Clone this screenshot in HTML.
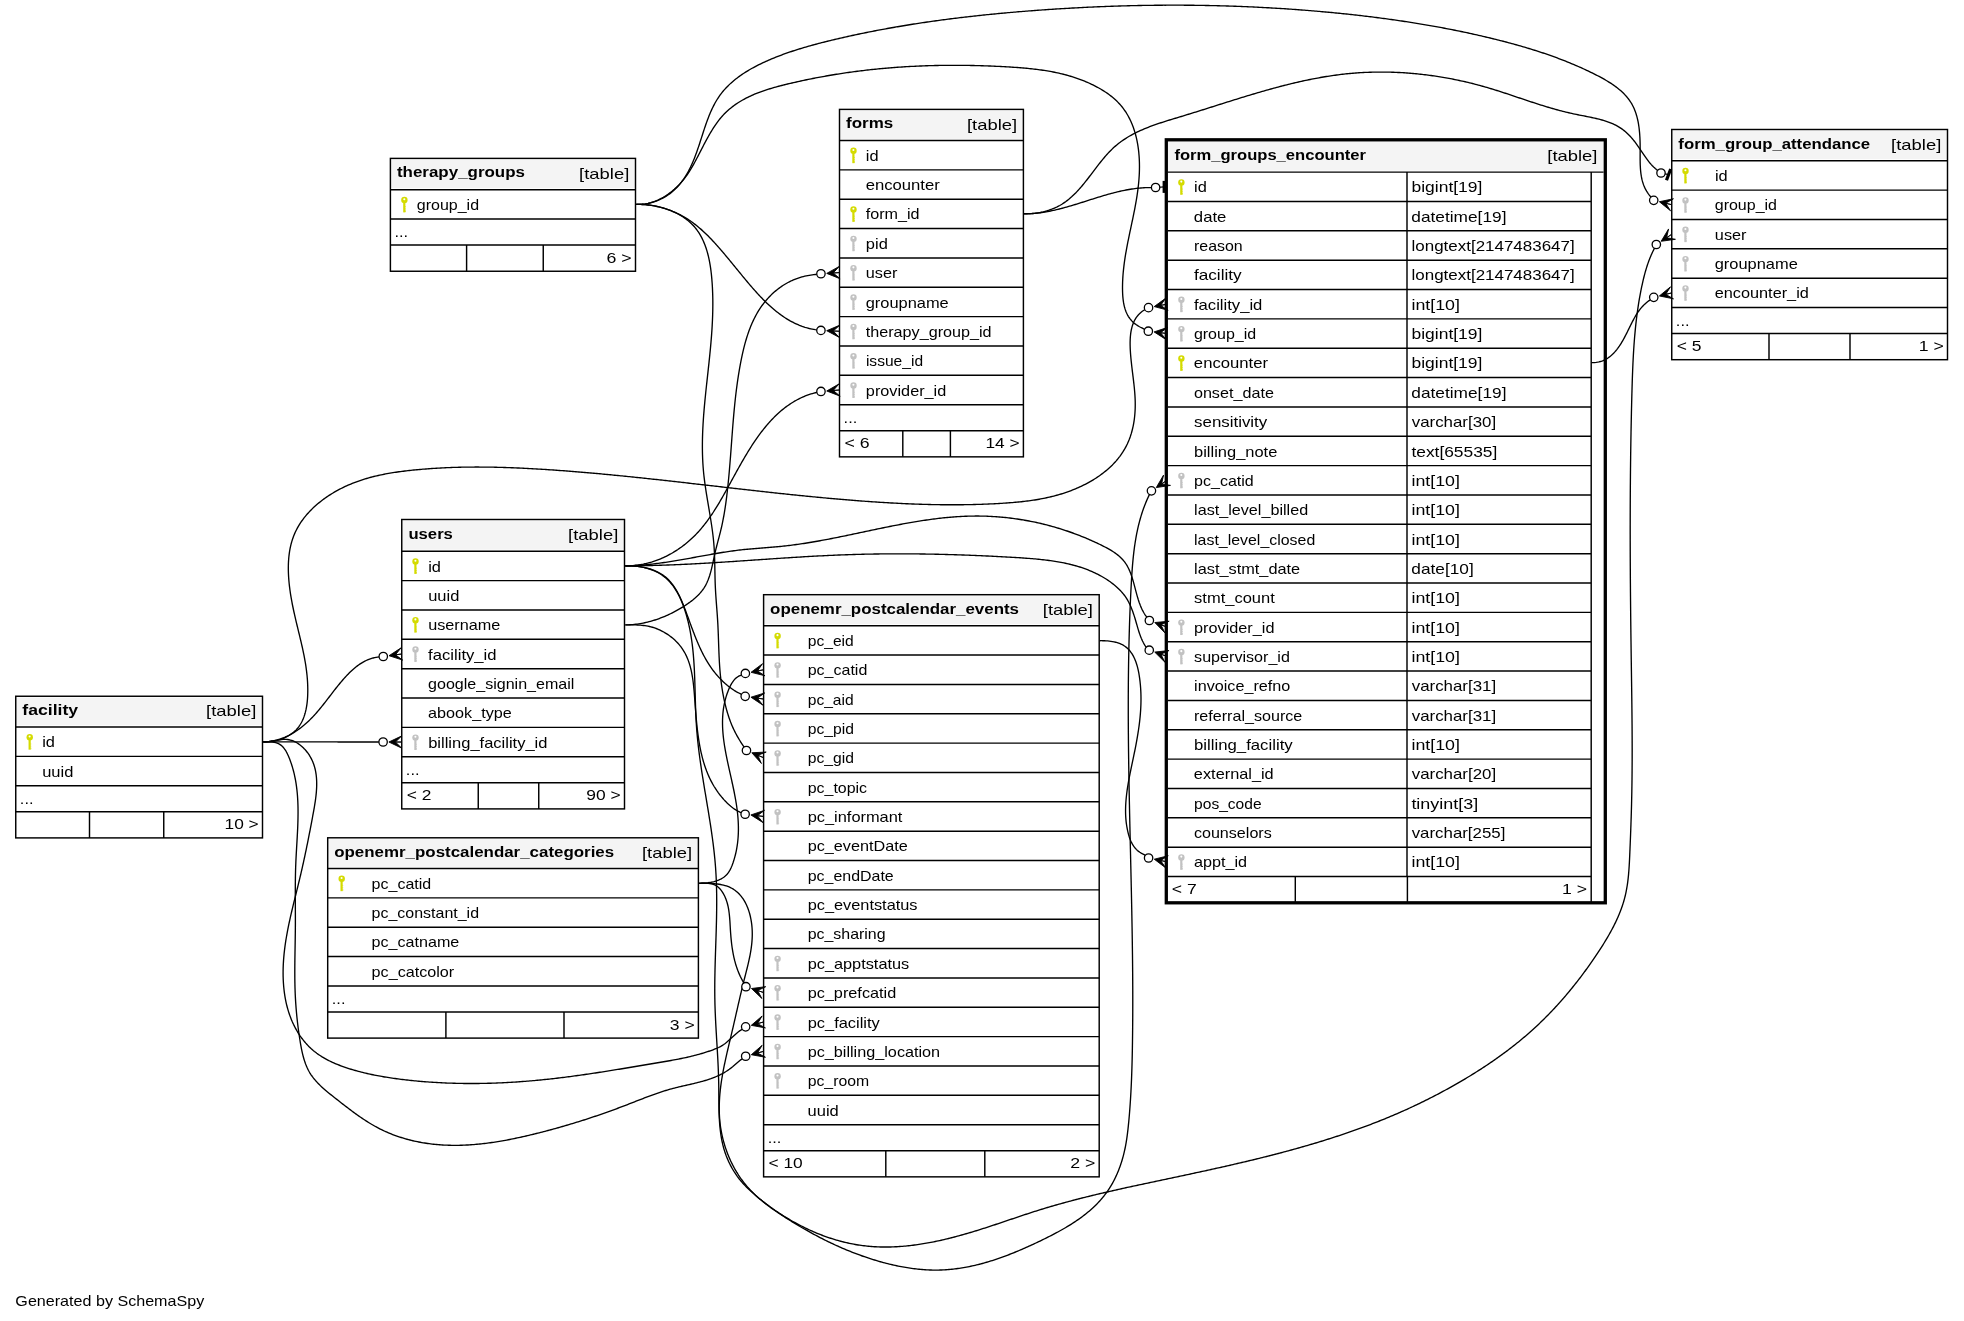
<!DOCTYPE html><html><head><meta charset="utf-8"><style>
html,body{margin:0;padding:0;background:#fff;width:1964px;height:1321px;overflow:hidden}
svg{display:block;will-change:transform}
text{font-family:"Liberation Sans",sans-serif;font-size:15px;fill:#000}
text.b{font-weight:bold}
</style></head><body>
<svg width="1964" height="1321" viewBox="0 0 1964 1321">
<rect width="1964" height="1321" fill="#fff"/>
<rect x="15.75" y="696.25" width="246.75" height="141.65" fill="#fff"/>
<rect x="15.75" y="697.65" width="246.75" height="27.75" fill="#f4f4f4"/>
<g stroke="#000" fill="none">
<rect x="15.75" y="696.25" width="246.75" height="141.65" stroke-width="1.45"/>
<line x1="15.75" y1="727" x2="262.5" y2="727" stroke-width="1.45"/>
<line x1="15.75" y1="756.35" x2="262.5" y2="756.35" stroke-width="1.45"/>
<line x1="15.75" y1="785.7" x2="262.5" y2="785.7" stroke-width="1.45"/>
<line x1="15.75" y1="811.7" x2="262.5" y2="811.7" stroke-width="1.45"/>
<line x1="89.5" y1="811.7" x2="89.5" y2="837.9" stroke-width="1.45"/>
<line x1="163.75" y1="811.7" x2="163.75" y2="837.9" stroke-width="1.45"/>
</g>
<text class="b" x="22.36" y="715.02" textLength="55.82" lengthAdjust="spacingAndGlyphs">facility</text>
<text class="r" x="206.11" y="716.33" textLength="50.19" lengthAdjust="spacingAndGlyphs">[table]</text>
<g fill="#d4db00">
<circle cx="29.75" cy="737.27" r="3.2"/>
<rect x="28.55" y="739.57" width="2.2" height="10.1"/>
<rect x="30.65" y="743.47" width="0.55" height="1.0"/>
<rect x="30.65" y="745.67" width="0.55" height="1.0"/>
<rect x="30.65" y="747.67" width="0.6" height="1.6"/>
</g>
<circle cx="29.65" cy="736.47" r="1.05" fill="#fff"/>
<text class="r" x="42.21" y="747.27" textLength="12.76" lengthAdjust="spacingAndGlyphs">id</text>
<text class="r" x="42.15" y="776.62" textLength="31.21" lengthAdjust="spacingAndGlyphs">uuid</text>
<text class="r" x="19.88" y="803.7" textLength="13.65" lengthAdjust="spacingAndGlyphs">...</text>
<text class="r" x="224.52" y="829.3" textLength="34.2" lengthAdjust="spacingAndGlyphs">10 &gt;</text>
<rect x="390.4" y="158.4" width="245.1" height="112.85" fill="#fff"/>
<rect x="390.4" y="159.8" width="245.1" height="28.3" fill="#f4f4f4"/>
<g stroke="#000" fill="none">
<rect x="390.4" y="158.4" width="245.1" height="112.85" stroke-width="1.45"/>
<line x1="390.4" y1="189.7" x2="635.5" y2="189.7" stroke-width="1.45"/>
<line x1="390.4" y1="219.05" x2="635.5" y2="219.05" stroke-width="1.45"/>
<line x1="390.4" y1="245.05" x2="635.5" y2="245.05" stroke-width="1.45"/>
<line x1="466.6" y1="245.05" x2="466.6" y2="271.25" stroke-width="1.45"/>
<line x1="543.25" y1="245.05" x2="543.25" y2="271.25" stroke-width="1.45"/>
</g>
<text class="b" x="396.97" y="177.45" textLength="127.96" lengthAdjust="spacingAndGlyphs">therapy_groups</text>
<text class="r" x="579.11" y="178.75" textLength="50.19" lengthAdjust="spacingAndGlyphs">[table]</text>
<g fill="#d4db00">
<circle cx="404.4" cy="199.97" r="3.2"/>
<rect x="403.2" y="202.28" width="2.2" height="10.1"/>
<rect x="405.3" y="206.18" width="0.55" height="1.0"/>
<rect x="405.3" y="208.38" width="0.55" height="1.0"/>
<rect x="405.3" y="210.38" width="0.6" height="1.6"/>
</g>
<circle cx="404.3" cy="199.18" r="1.05" fill="#fff"/>
<text class="r" x="416.81" y="209.97" textLength="62.24" lengthAdjust="spacingAndGlyphs">group_id</text>
<text class="r" x="394.53" y="237.05" textLength="13.65" lengthAdjust="spacingAndGlyphs">...</text>
<text class="r" x="606.56" y="262.65" textLength="25.19" lengthAdjust="spacingAndGlyphs">6 &gt;</text>
<rect x="839.5" y="109.4" width="183.9" height="347.45" fill="#fff"/>
<rect x="839.5" y="110.8" width="183.9" height="28.1" fill="#f4f4f4"/>
<g stroke="#000" fill="none">
<rect x="839.5" y="109.4" width="183.9" height="347.45" stroke-width="1.45"/>
<line x1="839.5" y1="140.5" x2="1023.4" y2="140.5" stroke-width="1.45"/>
<line x1="839.5" y1="169.85" x2="1023.4" y2="169.85" stroke-width="1.45"/>
<line x1="839.5" y1="199.2" x2="1023.4" y2="199.2" stroke-width="1.45"/>
<line x1="839.5" y1="228.55" x2="1023.4" y2="228.55" stroke-width="1.45"/>
<line x1="839.5" y1="257.9" x2="1023.4" y2="257.9" stroke-width="1.45"/>
<line x1="839.5" y1="287.25" x2="1023.4" y2="287.25" stroke-width="1.45"/>
<line x1="839.5" y1="316.6" x2="1023.4" y2="316.6" stroke-width="1.45"/>
<line x1="839.5" y1="345.95" x2="1023.4" y2="345.95" stroke-width="1.45"/>
<line x1="839.5" y1="375.3" x2="1023.4" y2="375.3" stroke-width="1.45"/>
<line x1="839.5" y1="404.65" x2="1023.4" y2="404.65" stroke-width="1.45"/>
<line x1="839.5" y1="430.65" x2="1023.4" y2="430.65" stroke-width="1.45"/>
<line x1="902.8" y1="430.65" x2="902.8" y2="456.85" stroke-width="1.45"/>
<line x1="950.4" y1="430.65" x2="950.4" y2="456.85" stroke-width="1.45"/>
</g>
<text class="b" x="846.12" y="128.35" textLength="47.13" lengthAdjust="spacingAndGlyphs">forms</text>
<text class="r" x="967.01" y="129.65" textLength="50.19" lengthAdjust="spacingAndGlyphs">[table]</text>
<g fill="#d4db00">
<circle cx="853.5" cy="150.78" r="3.2"/>
<rect x="852.3" y="153.08" width="2.2" height="10.1"/>
<rect x="854.4" y="156.98" width="0.55" height="1.0"/>
<rect x="854.4" y="159.18" width="0.55" height="1.0"/>
<rect x="854.4" y="161.18" width="0.6" height="1.6"/>
</g>
<circle cx="853.4" cy="149.98" r="1.05" fill="#fff"/>
<text class="r" x="865.86" y="160.78" textLength="12.76" lengthAdjust="spacingAndGlyphs">id</text>
<text class="r" x="865.68" y="190.12" textLength="74.12" lengthAdjust="spacingAndGlyphs">encounter</text>
<g fill="#d4db00">
<circle cx="853.5" cy="209.47" r="3.2"/>
<rect x="852.3" y="211.78" width="2.2" height="10.1"/>
<rect x="854.4" y="215.68" width="0.55" height="1.0"/>
<rect x="854.4" y="217.88" width="0.55" height="1.0"/>
<rect x="854.4" y="219.88" width="0.6" height="1.6"/>
</g>
<circle cx="853.4" cy="208.68" r="1.05" fill="#fff"/>
<text class="r" x="865.73" y="219.47" textLength="53.91" lengthAdjust="spacingAndGlyphs">form_id</text>
<g fill="#c2c2c2">
<circle cx="853.5" cy="238.83" r="3.2"/>
<rect x="852.3" y="241.13" width="2.2" height="10.1"/>
<rect x="854.4" y="245.03" width="0.55" height="1.0"/>
<rect x="854.4" y="247.23" width="0.55" height="1.0"/>
<rect x="854.4" y="249.23" width="0.6" height="1.6"/>
</g>
<circle cx="853.4" cy="238.03" r="1.05" fill="#fff"/>
<text class="r" x="865.86" y="248.83" textLength="21.95" lengthAdjust="spacingAndGlyphs">pid</text>
<g fill="#c2c2c2">
<circle cx="853.5" cy="268.17" r="3.2"/>
<rect x="852.3" y="270.47" width="2.2" height="10.1"/>
<rect x="854.4" y="274.37" width="0.55" height="1.0"/>
<rect x="854.4" y="276.57" width="0.55" height="1.0"/>
<rect x="854.4" y="278.57" width="0.6" height="1.6"/>
</g>
<circle cx="853.4" cy="267.37" r="1.05" fill="#fff"/>
<text class="r" x="865.82" y="278.18" textLength="31.63" lengthAdjust="spacingAndGlyphs">user</text>
<g fill="#c2c2c2">
<circle cx="853.5" cy="297.52" r="3.2"/>
<rect x="852.3" y="299.82" width="2.2" height="10.1"/>
<rect x="854.4" y="303.72" width="0.55" height="1.0"/>
<rect x="854.4" y="305.93" width="0.55" height="1.0"/>
<rect x="854.4" y="307.93" width="0.6" height="1.6"/>
</g>
<circle cx="853.4" cy="296.72" r="1.05" fill="#fff"/>
<text class="r" x="865.69" y="307.53" textLength="83.06" lengthAdjust="spacingAndGlyphs">groupname</text>
<g fill="#c2c2c2">
<circle cx="853.5" cy="326.88" r="3.2"/>
<rect x="852.3" y="329.18" width="2.2" height="10.1"/>
<rect x="854.4" y="333.07" width="0.55" height="1.0"/>
<rect x="854.4" y="335.28" width="0.55" height="1.0"/>
<rect x="854.4" y="337.28" width="0.6" height="1.6"/>
</g>
<circle cx="853.4" cy="326.07" r="1.05" fill="#fff"/>
<text class="r" x="865.73" y="336.88" textLength="125.9" lengthAdjust="spacingAndGlyphs">therapy_group_id</text>
<g fill="#c2c2c2">
<circle cx="853.5" cy="356.23" r="3.2"/>
<rect x="852.3" y="358.53" width="2.2" height="10.1"/>
<rect x="854.4" y="362.43" width="0.55" height="1.0"/>
<rect x="854.4" y="364.63" width="0.55" height="1.0"/>
<rect x="854.4" y="366.63" width="0.6" height="1.6"/>
</g>
<circle cx="853.4" cy="355.43" r="1.05" fill="#fff"/>
<text class="r" x="865.91" y="366.23" textLength="57.16" lengthAdjust="spacingAndGlyphs">issue_id</text>
<g fill="#c2c2c2">
<circle cx="853.5" cy="385.57" r="3.2"/>
<rect x="852.3" y="387.88" width="2.2" height="10.1"/>
<rect x="854.4" y="391.77" width="0.55" height="1.0"/>
<rect x="854.4" y="393.98" width="0.55" height="1.0"/>
<rect x="854.4" y="395.98" width="0.6" height="1.6"/>
</g>
<circle cx="853.4" cy="384.77" r="1.05" fill="#fff"/>
<text class="r" x="865.87" y="395.58" textLength="80.42" lengthAdjust="spacingAndGlyphs">provider_id</text>
<text class="r" x="843.63" y="422.65" textLength="13.65" lengthAdjust="spacingAndGlyphs">...</text>
<text class="r" x="844.41" y="448.25" textLength="25.12" lengthAdjust="spacingAndGlyphs">&lt; 6</text>
<text class="r" x="985.42" y="448.25" textLength="34.2" lengthAdjust="spacingAndGlyphs">14 &gt;</text>
<rect x="1671.75" y="129.5" width="275.75" height="230.2" fill="#fff"/>
<rect x="1671.75" y="130.9" width="275.75" height="28.25" fill="#f4f4f4"/>
<g stroke="#000" fill="none">
<rect x="1671.75" y="129.5" width="275.75" height="230.2" stroke-width="1.45"/>
<line x1="1671.75" y1="160.75" x2="1947.5" y2="160.75" stroke-width="1.45"/>
<line x1="1671.75" y1="190.1" x2="1947.5" y2="190.1" stroke-width="1.45"/>
<line x1="1671.75" y1="219.45" x2="1947.5" y2="219.45" stroke-width="1.45"/>
<line x1="1671.75" y1="248.8" x2="1947.5" y2="248.8" stroke-width="1.45"/>
<line x1="1671.75" y1="278.15" x2="1947.5" y2="278.15" stroke-width="1.45"/>
<line x1="1671.75" y1="307.5" x2="1947.5" y2="307.5" stroke-width="1.45"/>
<line x1="1671.75" y1="333.5" x2="1947.5" y2="333.5" stroke-width="1.45"/>
<line x1="1769" y1="333.5" x2="1769" y2="359.7" stroke-width="1.45"/>
<line x1="1850" y1="333.5" x2="1850" y2="359.7" stroke-width="1.45"/>
</g>
<text class="b" x="1678.37" y="148.53" textLength="191.83" lengthAdjust="spacingAndGlyphs">form_group_attendance</text>
<text class="r" x="1891.11" y="149.82" textLength="50.19" lengthAdjust="spacingAndGlyphs">[table]</text>
<g fill="#d4db00">
<circle cx="1685.5" cy="171.03" r="3.2"/>
<rect x="1684.3" y="173.33" width="2.2" height="10.1"/>
<rect x="1686.4" y="177.23" width="0.55" height="1.0"/>
<rect x="1686.4" y="179.43" width="0.55" height="1.0"/>
<rect x="1686.4" y="181.43" width="0.6" height="1.6"/>
</g>
<circle cx="1685.4" cy="170.23" r="1.05" fill="#fff"/>
<text class="r" x="1714.91" y="181.03" textLength="12.76" lengthAdjust="spacingAndGlyphs">id</text>
<g fill="#c2c2c2">
<circle cx="1685.5" cy="200.38" r="3.2"/>
<rect x="1684.3" y="202.68" width="2.2" height="10.1"/>
<rect x="1686.4" y="206.58" width="0.55" height="1.0"/>
<rect x="1686.4" y="208.78" width="0.55" height="1.0"/>
<rect x="1686.4" y="210.78" width="0.6" height="1.6"/>
</g>
<circle cx="1685.4" cy="199.58" r="1.05" fill="#fff"/>
<text class="r" x="1714.76" y="210.38" textLength="62.24" lengthAdjust="spacingAndGlyphs">group_id</text>
<g fill="#c2c2c2">
<circle cx="1685.5" cy="229.72" r="3.2"/>
<rect x="1684.3" y="232.03" width="2.2" height="10.1"/>
<rect x="1686.4" y="235.93" width="0.55" height="1.0"/>
<rect x="1686.4" y="238.12" width="0.55" height="1.0"/>
<rect x="1686.4" y="240.12" width="0.6" height="1.6"/>
</g>
<circle cx="1685.4" cy="228.93" r="1.05" fill="#fff"/>
<text class="r" x="1714.87" y="239.72" textLength="31.63" lengthAdjust="spacingAndGlyphs">user</text>
<g fill="#c2c2c2">
<circle cx="1685.5" cy="259.08" r="3.2"/>
<rect x="1684.3" y="261.38" width="2.2" height="10.1"/>
<rect x="1686.4" y="265.28" width="0.55" height="1.0"/>
<rect x="1686.4" y="267.48" width="0.55" height="1.0"/>
<rect x="1686.4" y="269.48" width="0.6" height="1.6"/>
</g>
<circle cx="1685.4" cy="258.28" r="1.05" fill="#fff"/>
<text class="r" x="1714.74" y="269.08" textLength="83.06" lengthAdjust="spacingAndGlyphs">groupname</text>
<g fill="#c2c2c2">
<circle cx="1685.5" cy="288.42" r="3.2"/>
<rect x="1684.3" y="290.72" width="2.2" height="10.1"/>
<rect x="1686.4" y="294.62" width="0.55" height="1.0"/>
<rect x="1686.4" y="296.82" width="0.55" height="1.0"/>
<rect x="1686.4" y="298.82" width="0.6" height="1.6"/>
</g>
<circle cx="1685.4" cy="287.62" r="1.05" fill="#fff"/>
<text class="r" x="1714.75" y="298.43" textLength="94.07" lengthAdjust="spacingAndGlyphs">encounter_id</text>
<text class="r" x="1675.88" y="325.5" textLength="13.65" lengthAdjust="spacingAndGlyphs">...</text>
<text class="r" x="1676.68" y="351.1" textLength="24.74" lengthAdjust="spacingAndGlyphs">&lt; 5</text>
<text class="r" x="1918.7" y="351.1" textLength="25.05" lengthAdjust="spacingAndGlyphs">1 &gt;</text>
<rect x="401.75" y="519.5" width="222.75" height="289.4" fill="#fff"/>
<rect x="401.75" y="520.9" width="222.75" height="28.75" fill="#f4f4f4"/>
<g stroke="#000" fill="none">
<rect x="401.75" y="519.5" width="222.75" height="289.4" stroke-width="1.45"/>
<line x1="401.75" y1="551.25" x2="624.5" y2="551.25" stroke-width="1.45"/>
<line x1="401.75" y1="580.6" x2="624.5" y2="580.6" stroke-width="1.45"/>
<line x1="401.75" y1="609.95" x2="624.5" y2="609.95" stroke-width="1.45"/>
<line x1="401.75" y1="639.3" x2="624.5" y2="639.3" stroke-width="1.45"/>
<line x1="401.75" y1="668.65" x2="624.5" y2="668.65" stroke-width="1.45"/>
<line x1="401.75" y1="698" x2="624.5" y2="698" stroke-width="1.45"/>
<line x1="401.75" y1="727.35" x2="624.5" y2="727.35" stroke-width="1.45"/>
<line x1="401.75" y1="756.7" x2="624.5" y2="756.7" stroke-width="1.45"/>
<line x1="401.75" y1="782.7" x2="624.5" y2="782.7" stroke-width="1.45"/>
<line x1="478.25" y1="782.7" x2="478.25" y2="808.9" stroke-width="1.45"/>
<line x1="538.75" y1="782.7" x2="538.75" y2="808.9" stroke-width="1.45"/>
</g>
<text class="b" x="408.45" y="538.77" textLength="44.45" lengthAdjust="spacingAndGlyphs">users</text>
<text class="r" x="568.11" y="540.08" textLength="50.19" lengthAdjust="spacingAndGlyphs">[table]</text>
<g fill="#d4db00">
<circle cx="415.5" cy="561.52" r="3.2"/>
<rect x="414.3" y="563.82" width="2.2" height="10.1"/>
<rect x="416.4" y="567.72" width="0.55" height="1.0"/>
<rect x="416.4" y="569.92" width="0.55" height="1.0"/>
<rect x="416.4" y="571.92" width="0.6" height="1.6"/>
</g>
<circle cx="415.4" cy="560.72" r="1.05" fill="#fff"/>
<text class="r" x="428.21" y="571.52" textLength="12.76" lengthAdjust="spacingAndGlyphs">id</text>
<text class="r" x="428.15" y="600.88" textLength="31.21" lengthAdjust="spacingAndGlyphs">uuid</text>
<g fill="#d4db00">
<circle cx="415.5" cy="620.23" r="3.2"/>
<rect x="414.3" y="622.52" width="2.2" height="10.1"/>
<rect x="416.4" y="626.42" width="0.55" height="1.0"/>
<rect x="416.4" y="628.62" width="0.55" height="1.0"/>
<rect x="416.4" y="630.62" width="0.6" height="1.6"/>
</g>
<circle cx="415.4" cy="619.42" r="1.05" fill="#fff"/>
<text class="r" x="428.17" y="630.23" textLength="72.18" lengthAdjust="spacingAndGlyphs">username</text>
<g fill="#c2c2c2">
<circle cx="415.5" cy="649.57" r="3.2"/>
<rect x="414.3" y="651.87" width="2.2" height="10.1"/>
<rect x="416.4" y="655.77" width="0.55" height="1.0"/>
<rect x="416.4" y="657.97" width="0.55" height="1.0"/>
<rect x="416.4" y="659.97" width="0.6" height="1.6"/>
</g>
<circle cx="415.4" cy="648.77" r="1.05" fill="#fff"/>
<text class="r" x="428.08" y="659.57" textLength="68.47" lengthAdjust="spacingAndGlyphs">facility_id</text>
<text class="r" x="428.05" y="688.92" textLength="146.33" lengthAdjust="spacingAndGlyphs">google_signin_email</text>
<text class="r" x="428.1" y="718.27" textLength="83.67" lengthAdjust="spacingAndGlyphs">abook_type</text>
<g fill="#c2c2c2">
<circle cx="415.5" cy="737.62" r="3.2"/>
<rect x="414.3" y="739.92" width="2.2" height="10.1"/>
<rect x="416.4" y="743.82" width="0.55" height="1.0"/>
<rect x="416.4" y="746.02" width="0.55" height="1.0"/>
<rect x="416.4" y="748.02" width="0.6" height="1.6"/>
</g>
<circle cx="415.4" cy="736.82" r="1.05" fill="#fff"/>
<text class="r" x="428.2" y="747.62" textLength="119.29" lengthAdjust="spacingAndGlyphs">billing_facility_id</text>
<text class="r" x="405.88" y="774.7" textLength="13.65" lengthAdjust="spacingAndGlyphs">...</text>
<text class="r" x="406.68" y="800.3" textLength="24.65" lengthAdjust="spacingAndGlyphs">&lt; 2</text>
<text class="r" x="586.34" y="800.3" textLength="34.39" lengthAdjust="spacingAndGlyphs">90 &gt;</text>
<rect x="327.7" y="837.8" width="370.7" height="200.3" fill="#fff"/>
<rect x="327.7" y="839.2" width="370.7" height="27.7" fill="#f4f4f4"/>
<g stroke="#000" fill="none">
<rect x="327.7" y="837.8" width="370.7" height="200.3" stroke-width="1.45"/>
<line x1="327.7" y1="868.5" x2="698.4" y2="868.5" stroke-width="1.45"/>
<line x1="327.7" y1="897.85" x2="698.4" y2="897.85" stroke-width="1.45"/>
<line x1="327.7" y1="927.2" x2="698.4" y2="927.2" stroke-width="1.45"/>
<line x1="327.7" y1="956.55" x2="698.4" y2="956.55" stroke-width="1.45"/>
<line x1="327.7" y1="985.9" x2="698.4" y2="985.9" stroke-width="1.45"/>
<line x1="327.7" y1="1011.9" x2="698.4" y2="1011.9" stroke-width="1.45"/>
<line x1="445.9" y1="1011.9" x2="445.9" y2="1038.1" stroke-width="1.45"/>
<line x1="564" y1="1011.9" x2="564" y2="1038.1" stroke-width="1.45"/>
</g>
<text class="b" x="334.22" y="856.55" textLength="279.93" lengthAdjust="spacingAndGlyphs">openemr_postcalendar_categories</text>
<text class="r" x="642.01" y="857.85" textLength="50.19" lengthAdjust="spacingAndGlyphs">[table]</text>
<g fill="#d4db00">
<circle cx="341.7" cy="878.77" r="3.2"/>
<rect x="340.5" y="881.07" width="2.2" height="10.1"/>
<rect x="342.6" y="884.97" width="0.55" height="1.0"/>
<rect x="342.6" y="887.17" width="0.55" height="1.0"/>
<rect x="342.6" y="889.17" width="0.6" height="1.6"/>
</g>
<circle cx="341.6" cy="877.97" r="1.05" fill="#fff"/>
<text class="r" x="371.59" y="888.77" textLength="59.65" lengthAdjust="spacingAndGlyphs">pc_catid</text>
<text class="r" x="371.59" y="918.12" textLength="107.43" lengthAdjust="spacingAndGlyphs">pc_constant_id</text>
<text class="r" x="371.58" y="947.48" textLength="87.73" lengthAdjust="spacingAndGlyphs">pc_catname</text>
<text class="r" x="371.58" y="976.82" textLength="82.65" lengthAdjust="spacingAndGlyphs">pc_catcolor</text>
<text class="r" x="331.83" y="1003.9" textLength="13.65" lengthAdjust="spacingAndGlyphs">...</text>
<text class="r" x="669.75" y="1029.5" textLength="24.89" lengthAdjust="spacingAndGlyphs">3 &gt;</text>
<rect x="763.6" y="594.7" width="335.6" height="582.15" fill="#fff"/>
<rect x="763.6" y="596.1" width="335.6" height="28" fill="#f4f4f4"/>
<g stroke="#000" fill="none">
<rect x="763.6" y="594.7" width="335.6" height="582.15" stroke-width="1.45"/>
<line x1="763.6" y1="625.7" x2="1099.2" y2="625.7" stroke-width="1.45"/>
<line x1="763.6" y1="655.05" x2="1099.2" y2="655.05" stroke-width="1.45"/>
<line x1="763.6" y1="684.4" x2="1099.2" y2="684.4" stroke-width="1.45"/>
<line x1="763.6" y1="713.75" x2="1099.2" y2="713.75" stroke-width="1.45"/>
<line x1="763.6" y1="743.1" x2="1099.2" y2="743.1" stroke-width="1.45"/>
<line x1="763.6" y1="772.45" x2="1099.2" y2="772.45" stroke-width="1.45"/>
<line x1="763.6" y1="801.8" x2="1099.2" y2="801.8" stroke-width="1.45"/>
<line x1="763.6" y1="831.15" x2="1099.2" y2="831.15" stroke-width="1.45"/>
<line x1="763.6" y1="860.5" x2="1099.2" y2="860.5" stroke-width="1.45"/>
<line x1="763.6" y1="889.85" x2="1099.2" y2="889.85" stroke-width="1.45"/>
<line x1="763.6" y1="919.2" x2="1099.2" y2="919.2" stroke-width="1.45"/>
<line x1="763.6" y1="948.55" x2="1099.2" y2="948.55" stroke-width="1.45"/>
<line x1="763.6" y1="977.9" x2="1099.2" y2="977.9" stroke-width="1.45"/>
<line x1="763.6" y1="1007.25" x2="1099.2" y2="1007.25" stroke-width="1.45"/>
<line x1="763.6" y1="1036.6" x2="1099.2" y2="1036.6" stroke-width="1.45"/>
<line x1="763.6" y1="1065.95" x2="1099.2" y2="1065.95" stroke-width="1.45"/>
<line x1="763.6" y1="1095.3" x2="1099.2" y2="1095.3" stroke-width="1.45"/>
<line x1="763.6" y1="1124.65" x2="1099.2" y2="1124.65" stroke-width="1.45"/>
<line x1="763.6" y1="1150.65" x2="1099.2" y2="1150.65" stroke-width="1.45"/>
<line x1="885.8" y1="1150.65" x2="885.8" y2="1176.85" stroke-width="1.45"/>
<line x1="984.8" y1="1150.65" x2="984.8" y2="1176.85" stroke-width="1.45"/>
</g>
<text class="b" x="770.12" y="613.6" textLength="248.87" lengthAdjust="spacingAndGlyphs">openemr_postcalendar_events</text>
<text class="r" x="1042.81" y="614.9" textLength="50.19" lengthAdjust="spacingAndGlyphs">[table]</text>
<g fill="#d4db00">
<circle cx="777.6" cy="635.98" r="3.2"/>
<rect x="776.4" y="638.27" width="2.2" height="10.1"/>
<rect x="778.5" y="642.17" width="0.55" height="1.0"/>
<rect x="778.5" y="644.38" width="0.55" height="1.0"/>
<rect x="778.5" y="646.38" width="0.6" height="1.6"/>
</g>
<circle cx="777.5" cy="635.17" r="1.05" fill="#fff"/>
<text class="r" x="807.71" y="645.98" textLength="46.03" lengthAdjust="spacingAndGlyphs">pc_eid</text>
<g fill="#c2c2c2">
<circle cx="777.6" cy="665.33" r="3.2"/>
<rect x="776.4" y="667.62" width="2.2" height="10.1"/>
<rect x="778.5" y="671.52" width="0.55" height="1.0"/>
<rect x="778.5" y="673.73" width="0.55" height="1.0"/>
<rect x="778.5" y="675.73" width="0.6" height="1.6"/>
</g>
<circle cx="777.5" cy="664.52" r="1.05" fill="#fff"/>
<text class="r" x="807.69" y="675.33" textLength="59.65" lengthAdjust="spacingAndGlyphs">pc_catid</text>
<g fill="#c2c2c2">
<circle cx="777.6" cy="694.68" r="3.2"/>
<rect x="776.4" y="696.98" width="2.2" height="10.1"/>
<rect x="778.5" y="700.88" width="0.55" height="1.0"/>
<rect x="778.5" y="703.08" width="0.55" height="1.0"/>
<rect x="778.5" y="705.08" width="0.6" height="1.6"/>
</g>
<circle cx="777.5" cy="693.88" r="1.05" fill="#fff"/>
<text class="r" x="807.71" y="704.68" textLength="45.98" lengthAdjust="spacingAndGlyphs">pc_aid</text>
<g fill="#c2c2c2">
<circle cx="777.6" cy="724.02" r="3.2"/>
<rect x="776.4" y="726.32" width="2.2" height="10.1"/>
<rect x="778.5" y="730.22" width="0.55" height="1.0"/>
<rect x="778.5" y="732.42" width="0.55" height="1.0"/>
<rect x="778.5" y="734.42" width="0.6" height="1.6"/>
</g>
<circle cx="777.5" cy="723.22" r="1.05" fill="#fff"/>
<text class="r" x="807.71" y="734.02" textLength="46.29" lengthAdjust="spacingAndGlyphs">pc_pid</text>
<g fill="#c2c2c2">
<circle cx="777.6" cy="753.38" r="3.2"/>
<rect x="776.4" y="755.67" width="2.2" height="10.1"/>
<rect x="778.5" y="759.57" width="0.55" height="1.0"/>
<rect x="778.5" y="761.77" width="0.55" height="1.0"/>
<rect x="778.5" y="763.77" width="0.6" height="1.6"/>
</g>
<circle cx="777.5" cy="752.57" r="1.05" fill="#fff"/>
<text class="r" x="807.71" y="763.38" textLength="46.29" lengthAdjust="spacingAndGlyphs">pc_gid</text>
<text class="r" x="807.69" y="792.73" textLength="59.41" lengthAdjust="spacingAndGlyphs">pc_topic</text>
<g fill="#c2c2c2">
<circle cx="777.6" cy="812.08" r="3.2"/>
<rect x="776.4" y="814.38" width="2.2" height="10.1"/>
<rect x="778.5" y="818.27" width="0.55" height="1.0"/>
<rect x="778.5" y="820.48" width="0.55" height="1.0"/>
<rect x="778.5" y="822.48" width="0.6" height="1.6"/>
</g>
<circle cx="777.5" cy="811.27" r="1.05" fill="#fff"/>
<text class="r" x="807.66" y="822.08" textLength="94.76" lengthAdjust="spacingAndGlyphs">pc_informant</text>
<text class="r" x="807.67" y="851.43" textLength="100.04" lengthAdjust="spacingAndGlyphs">pc_eventDate</text>
<text class="r" x="807.69" y="880.77" textLength="86.05" lengthAdjust="spacingAndGlyphs">pc_endDate</text>
<text class="r" x="807.67" y="910.13" textLength="109.88" lengthAdjust="spacingAndGlyphs">pc_eventstatus</text>
<text class="r" x="807.69" y="939.48" textLength="77.9" lengthAdjust="spacingAndGlyphs">pc_sharing</text>
<g fill="#c2c2c2">
<circle cx="777.6" cy="958.83" r="3.2"/>
<rect x="776.4" y="961.12" width="2.2" height="10.1"/>
<rect x="778.5" y="965.02" width="0.55" height="1.0"/>
<rect x="778.5" y="967.23" width="0.55" height="1.0"/>
<rect x="778.5" y="969.23" width="0.6" height="1.6"/>
</g>
<circle cx="777.5" cy="958.02" r="1.05" fill="#fff"/>
<text class="r" x="807.67" y="968.83" textLength="101.58" lengthAdjust="spacingAndGlyphs">pc_apptstatus</text>
<g fill="#c2c2c2">
<circle cx="777.6" cy="988.18" r="3.2"/>
<rect x="776.4" y="990.48" width="2.2" height="10.1"/>
<rect x="778.5" y="994.38" width="0.55" height="1.0"/>
<rect x="778.5" y="996.58" width="0.55" height="1.0"/>
<rect x="778.5" y="998.58" width="0.6" height="1.6"/>
</g>
<circle cx="777.5" cy="987.38" r="1.05" fill="#fff"/>
<text class="r" x="807.67" y="998.18" textLength="88.58" lengthAdjust="spacingAndGlyphs">pc_prefcatid</text>
<g fill="#c2c2c2">
<circle cx="777.6" cy="1017.52" r="3.2"/>
<rect x="776.4" y="1019.82" width="2.2" height="10.1"/>
<rect x="778.5" y="1023.72" width="0.55" height="1.0"/>
<rect x="778.5" y="1025.92" width="0.55" height="1.0"/>
<rect x="778.5" y="1027.92" width="0.6" height="1.6"/>
</g>
<circle cx="777.5" cy="1016.72" r="1.05" fill="#fff"/>
<text class="r" x="807.66" y="1027.52" textLength="72.11" lengthAdjust="spacingAndGlyphs">pc_facility</text>
<g fill="#c2c2c2">
<circle cx="777.6" cy="1046.88" r="3.2"/>
<rect x="776.4" y="1049.18" width="2.2" height="10.1"/>
<rect x="778.5" y="1053.08" width="0.55" height="1.0"/>
<rect x="778.5" y="1055.28" width="0.55" height="1.0"/>
<rect x="778.5" y="1057.28" width="0.6" height="1.6"/>
</g>
<circle cx="777.5" cy="1046.08" r="1.05" fill="#fff"/>
<text class="r" x="807.67" y="1056.88" textLength="132.49" lengthAdjust="spacingAndGlyphs">pc_billing_location</text>
<g fill="#c2c2c2">
<circle cx="777.6" cy="1076.23" r="3.2"/>
<rect x="776.4" y="1078.53" width="2.2" height="10.1"/>
<rect x="778.5" y="1082.43" width="0.55" height="1.0"/>
<rect x="778.5" y="1084.62" width="0.55" height="1.0"/>
<rect x="778.5" y="1086.62" width="0.6" height="1.6"/>
</g>
<circle cx="777.5" cy="1075.43" r="1.05" fill="#fff"/>
<text class="r" x="807.7" y="1086.22" textLength="61.46" lengthAdjust="spacingAndGlyphs">pc_room</text>
<text class="r" x="807.6" y="1115.58" textLength="31.21" lengthAdjust="spacingAndGlyphs">uuid</text>
<text class="r" x="767.73" y="1142.65" textLength="13.65" lengthAdjust="spacingAndGlyphs">...</text>
<text class="r" x="768.53" y="1168.25" textLength="34.28" lengthAdjust="spacingAndGlyphs">&lt; 10</text>
<text class="r" x="1070.31" y="1168.25" textLength="25.14" lengthAdjust="spacingAndGlyphs">2 &gt;</text>
<rect x="1166.3" y="139.8" width="439" height="763" fill="#fff"/>
<rect x="1167.9" y="141.4" width="435.7" height="29.1" fill="#f4f4f4"/>
<g stroke="#000" fill="none">
<line x1="1167.9" y1="172.1" x2="1603.6" y2="172.1" stroke-width="1.45"/>
<line x1="1167.9" y1="201.45" x2="1591" y2="201.45" stroke-width="1.45"/>
<line x1="1167.9" y1="230.8" x2="1591" y2="230.8" stroke-width="1.45"/>
<line x1="1167.9" y1="260.15" x2="1591" y2="260.15" stroke-width="1.45"/>
<line x1="1167.9" y1="289.5" x2="1591" y2="289.5" stroke-width="1.45"/>
<line x1="1167.9" y1="318.85" x2="1591" y2="318.85" stroke-width="1.45"/>
<line x1="1167.9" y1="348.2" x2="1591" y2="348.2" stroke-width="1.45"/>
<line x1="1167.9" y1="377.55" x2="1591" y2="377.55" stroke-width="1.45"/>
<line x1="1167.9" y1="406.9" x2="1591" y2="406.9" stroke-width="1.45"/>
<line x1="1167.9" y1="436.25" x2="1591" y2="436.25" stroke-width="1.45"/>
<line x1="1167.9" y1="465.6" x2="1591" y2="465.6" stroke-width="1.45"/>
<line x1="1167.9" y1="494.95" x2="1591" y2="494.95" stroke-width="1.45"/>
<line x1="1167.9" y1="524.3" x2="1591" y2="524.3" stroke-width="1.45"/>
<line x1="1167.9" y1="553.65" x2="1591" y2="553.65" stroke-width="1.45"/>
<line x1="1167.9" y1="583" x2="1591" y2="583" stroke-width="1.45"/>
<line x1="1167.9" y1="612.35" x2="1591" y2="612.35" stroke-width="1.45"/>
<line x1="1167.9" y1="641.7" x2="1591" y2="641.7" stroke-width="1.45"/>
<line x1="1167.9" y1="671.05" x2="1591" y2="671.05" stroke-width="1.45"/>
<line x1="1167.9" y1="700.4" x2="1591" y2="700.4" stroke-width="1.45"/>
<line x1="1167.9" y1="729.75" x2="1591" y2="729.75" stroke-width="1.45"/>
<line x1="1167.9" y1="759.1" x2="1591" y2="759.1" stroke-width="1.45"/>
<line x1="1167.9" y1="788.45" x2="1591" y2="788.45" stroke-width="1.45"/>
<line x1="1167.9" y1="817.8" x2="1591" y2="817.8" stroke-width="1.45"/>
<line x1="1167.9" y1="847.15" x2="1591" y2="847.15" stroke-width="1.45"/>
<line x1="1167.9" y1="876.5" x2="1591" y2="876.5" stroke-width="1.45"/>
<line x1="1591.2" y1="172.1" x2="1591.2" y2="901.9" stroke-width="1.45"/>
<line x1="1407" y1="172.1" x2="1407" y2="876.5" stroke-width="1.45"/>
<line x1="1295.3" y1="876.5" x2="1295.3" y2="901.9" stroke-width="1.45"/>
<line x1="1407.4" y1="876.5" x2="1407.4" y2="901.9" stroke-width="1.45"/>
<rect x="1166.3" y="139.8" width="439" height="763" stroke-width="3.3"/>
</g>
<text class="b" x="1174.42" y="160.05" textLength="191.56" lengthAdjust="spacingAndGlyphs">form_groups_encounter</text>
<text class="r" x="1547.31" y="161.45" textLength="50.19" lengthAdjust="spacingAndGlyphs">[table]</text>
<g fill="#d4db00">
<circle cx="1181.4" cy="182.38" r="3.2"/>
<rect x="1180.2" y="184.68" width="2.2" height="10.1"/>
<rect x="1182.3" y="188.58" width="0.55" height="1.0"/>
<rect x="1182.3" y="190.78" width="0.55" height="1.0"/>
<rect x="1182.3" y="192.78" width="0.6" height="1.6"/>
</g>
<circle cx="1181.3" cy="181.58" r="1.05" fill="#fff"/>
<text class="r" x="1194.06" y="192.38" textLength="12.76" lengthAdjust="spacingAndGlyphs">id</text>
<text class="r" x="1411.49" y="192.38" textLength="70.91" lengthAdjust="spacingAndGlyphs">bigint[19]</text>
<text class="r" x="1193.88" y="221.72" textLength="32.54" lengthAdjust="spacingAndGlyphs">date</text>
<text class="r" x="1411.35" y="221.72" textLength="95.11" lengthAdjust="spacingAndGlyphs">datetime[19]</text>
<text class="r" x="1194.04" y="251.08" textLength="48.69" lengthAdjust="spacingAndGlyphs">reason</text>
<text class="r" x="1411.52" y="251.08" textLength="163.16" lengthAdjust="spacingAndGlyphs">longtext[2147483647]</text>
<text class="r" x="1193.92" y="280.43" textLength="47.81" lengthAdjust="spacingAndGlyphs">facility</text>
<text class="r" x="1411.52" y="280.43" textLength="163.16" lengthAdjust="spacingAndGlyphs">longtext[2147483647]</text>
<g fill="#c2c2c2">
<circle cx="1181.4" cy="299.77" r="3.2"/>
<rect x="1180.2" y="302.07" width="2.2" height="10.1"/>
<rect x="1182.3" y="305.97" width="0.55" height="1.0"/>
<rect x="1182.3" y="308.18" width="0.55" height="1.0"/>
<rect x="1182.3" y="310.18" width="0.6" height="1.6"/>
</g>
<circle cx="1181.3" cy="298.97" r="1.05" fill="#fff"/>
<text class="r" x="1193.93" y="309.78" textLength="68.47" lengthAdjust="spacingAndGlyphs">facility_id</text>
<text class="r" x="1411.46" y="309.78" textLength="48.5" lengthAdjust="spacingAndGlyphs">int[10]</text>
<g fill="#c2c2c2">
<circle cx="1181.4" cy="329.12" r="3.2"/>
<rect x="1180.2" y="331.43" width="2.2" height="10.1"/>
<rect x="1182.3" y="335.32" width="0.55" height="1.0"/>
<rect x="1182.3" y="337.53" width="0.55" height="1.0"/>
<rect x="1182.3" y="339.53" width="0.6" height="1.6"/>
</g>
<circle cx="1181.3" cy="328.32" r="1.05" fill="#fff"/>
<text class="r" x="1193.91" y="339.13" textLength="62.24" lengthAdjust="spacingAndGlyphs">group_id</text>
<text class="r" x="1411.49" y="339.13" textLength="70.91" lengthAdjust="spacingAndGlyphs">bigint[19]</text>
<g fill="#d4db00">
<circle cx="1181.4" cy="358.48" r="3.2"/>
<rect x="1180.2" y="360.78" width="2.2" height="10.1"/>
<rect x="1182.3" y="364.68" width="0.55" height="1.0"/>
<rect x="1182.3" y="366.88" width="0.55" height="1.0"/>
<rect x="1182.3" y="368.88" width="0.6" height="1.6"/>
</g>
<circle cx="1181.3" cy="357.68" r="1.05" fill="#fff"/>
<text class="r" x="1193.88" y="368.48" textLength="74.12" lengthAdjust="spacingAndGlyphs">encounter</text>
<text class="r" x="1411.49" y="368.48" textLength="70.91" lengthAdjust="spacingAndGlyphs">bigint[19]</text>
<text class="r" x="1193.9" y="397.83" textLength="79.98" lengthAdjust="spacingAndGlyphs">onset_date</text>
<text class="r" x="1411.35" y="397.83" textLength="95.11" lengthAdjust="spacingAndGlyphs">datetime[19]</text>
<text class="r" x="1194.09" y="427.18" textLength="73.18" lengthAdjust="spacingAndGlyphs">sensitivity</text>
<text class="r" x="1411.69" y="427.18" textLength="84.48" lengthAdjust="spacingAndGlyphs">varchar[30]</text>
<text class="r" x="1194.06" y="456.53" textLength="83.3" lengthAdjust="spacingAndGlyphs">billing_note</text>
<text class="r" x="1411.41" y="456.53" textLength="85.93" lengthAdjust="spacingAndGlyphs">text[65535]</text>
<g fill="#c2c2c2">
<circle cx="1181.4" cy="475.88" r="3.2"/>
<rect x="1180.2" y="478.18" width="2.2" height="10.1"/>
<rect x="1182.3" y="482.07" width="0.55" height="1.0"/>
<rect x="1182.3" y="484.28" width="0.55" height="1.0"/>
<rect x="1182.3" y="486.28" width="0.6" height="1.6"/>
</g>
<circle cx="1181.3" cy="475.07" r="1.05" fill="#fff"/>
<text class="r" x="1194.09" y="485.88" textLength="59.65" lengthAdjust="spacingAndGlyphs">pc_catid</text>
<text class="r" x="1411.46" y="485.88" textLength="48.5" lengthAdjust="spacingAndGlyphs">int[10]</text>
<text class="r" x="1194.07" y="515.23" textLength="114.06" lengthAdjust="spacingAndGlyphs">last_level_billed</text>
<text class="r" x="1411.46" y="515.23" textLength="48.5" lengthAdjust="spacingAndGlyphs">int[10]</text>
<text class="r" x="1194.09" y="544.58" textLength="121.16" lengthAdjust="spacingAndGlyphs">last_level_closed</text>
<text class="r" x="1411.46" y="544.58" textLength="48.5" lengthAdjust="spacingAndGlyphs">int[10]</text>
<text class="r" x="1194.06" y="573.92" textLength="106.09" lengthAdjust="spacingAndGlyphs">last_stmt_date</text>
<text class="r" x="1411.35" y="573.92" textLength="62.37" lengthAdjust="spacingAndGlyphs">date[10]</text>
<text class="r" x="1194.11" y="603.27" textLength="80.67" lengthAdjust="spacingAndGlyphs">stmt_count</text>
<text class="r" x="1411.46" y="603.27" textLength="48.5" lengthAdjust="spacingAndGlyphs">int[10]</text>
<g fill="#c2c2c2">
<circle cx="1181.4" cy="622.62" r="3.2"/>
<rect x="1180.2" y="624.92" width="2.2" height="10.1"/>
<rect x="1182.3" y="628.82" width="0.55" height="1.0"/>
<rect x="1182.3" y="631.02" width="0.55" height="1.0"/>
<rect x="1182.3" y="633.02" width="0.6" height="1.6"/>
</g>
<circle cx="1181.3" cy="621.82" r="1.05" fill="#fff"/>
<text class="r" x="1194.07" y="632.62" textLength="80.42" lengthAdjust="spacingAndGlyphs">provider_id</text>
<text class="r" x="1411.46" y="632.62" textLength="48.5" lengthAdjust="spacingAndGlyphs">int[10]</text>
<g fill="#c2c2c2">
<circle cx="1181.4" cy="651.98" r="3.2"/>
<rect x="1180.2" y="654.27" width="2.2" height="10.1"/>
<rect x="1182.3" y="658.17" width="0.55" height="1.0"/>
<rect x="1182.3" y="660.38" width="0.55" height="1.0"/>
<rect x="1182.3" y="662.38" width="0.6" height="1.6"/>
</g>
<circle cx="1181.3" cy="651.17" r="1.05" fill="#fff"/>
<text class="r" x="1194.12" y="661.98" textLength="95.77" lengthAdjust="spacingAndGlyphs">supervisor_id</text>
<text class="r" x="1411.46" y="661.98" textLength="48.5" lengthAdjust="spacingAndGlyphs">int[10]</text>
<text class="r" x="1194.07" y="691.33" textLength="96.2" lengthAdjust="spacingAndGlyphs">invoice_refno</text>
<text class="r" x="1411.69" y="691.33" textLength="84.48" lengthAdjust="spacingAndGlyphs">varchar[31]</text>
<text class="r" x="1194.03" y="720.68" textLength="108.25" lengthAdjust="spacingAndGlyphs">referral_source</text>
<text class="r" x="1411.69" y="720.68" textLength="84.48" lengthAdjust="spacingAndGlyphs">varchar[31]</text>
<text class="r" x="1194.04" y="750.02" textLength="98.64" lengthAdjust="spacingAndGlyphs">billing_facility</text>
<text class="r" x="1411.46" y="750.02" textLength="48.5" lengthAdjust="spacingAndGlyphs">int[10]</text>
<text class="r" x="1193.89" y="779.38" textLength="79.82" lengthAdjust="spacingAndGlyphs">external_id</text>
<text class="r" x="1411.69" y="779.38" textLength="84.48" lengthAdjust="spacingAndGlyphs">varchar[20]</text>
<text class="r" x="1194.11" y="808.73" textLength="67.46" lengthAdjust="spacingAndGlyphs">pos_code</text>
<text class="r" x="1411.4" y="808.73" textLength="66.82" lengthAdjust="spacingAndGlyphs">tinyint[3]</text>
<text class="r" x="1193.9" y="838.08" textLength="77.88" lengthAdjust="spacingAndGlyphs">counselors</text>
<text class="r" x="1411.69" y="838.08" textLength="93.67" lengthAdjust="spacingAndGlyphs">varchar[255]</text>
<g fill="#c2c2c2">
<circle cx="1181.4" cy="857.43" r="3.2"/>
<rect x="1180.2" y="859.73" width="2.2" height="10.1"/>
<rect x="1182.3" y="863.62" width="0.55" height="1.0"/>
<rect x="1182.3" y="865.83" width="0.55" height="1.0"/>
<rect x="1182.3" y="867.83" width="0.6" height="1.6"/>
</g>
<circle cx="1181.3" cy="856.62" r="1.05" fill="#fff"/>
<text class="r" x="1193.95" y="867.43" textLength="53.09" lengthAdjust="spacingAndGlyphs">appt_id</text>
<text class="r" x="1411.46" y="867.43" textLength="48.5" lengthAdjust="spacingAndGlyphs">int[10]</text>
<text class="r" x="1171.82" y="893.7" textLength="24.92" lengthAdjust="spacingAndGlyphs">&lt; 7</text>
<text class="r" x="1562" y="893.7" textLength="25.05" lengthAdjust="spacingAndGlyphs">1 &gt;</text>
<g fill="none" stroke="#000" stroke-width="1.35">
<path d="M636.2,204.4L637.71,204.38L639.23,204.39L640.75,204.43L642.26,204.49L643.77,204.57L645.28,204.69L646.79,204.83L648.29,204.99L649.79,205.18L651.29,205.4L652.78,205.64L654.26,205.9L655.75,206.19L657.22,206.51L658.7,206.85L660.16,207.21L661.62,207.6L663.07,208.01L664.52,208.44L665.96,208.9L667.39,209.38L668.81,209.88L670.22,210.4L671.63,210.95L673.03,211.52L674.41,212.11L675.79,212.72L677.16,213.36L678.52,214.01L679.86,214.69L681.2,215.38L682.52,216.1L683.83,216.84L685.13,217.6L686.42,218.37L687.69,219.17L688.95,219.99L690.2,220.82L691.43,221.68L692.65,222.55L693.86,223.44L695.05,224.35L696.23,225.27L697.4,226.21L698.56,227.17L699.7,228.14L700.83,229.13L701.95,230.12L703.06,231.13L704.16,232.16L705.25,233.19L706.33,234.23L707.41,235.29L708.47,236.35L709.52,237.42L710.57,238.51L711.6,239.59L712.63,240.69L713.65,241.79L714.67,242.89L715.68,244.01L716.68,245.12L717.68,246.24L718.67,247.36L719.66,248.49L720.64,249.62L721.62,250.75L722.59,251.88L723.56,253.02L724.53,254.16L725.49,255.31L726.45,256.46L727.41,257.61L728.37,258.76L729.32,259.91L730.28,261.07L731.23,262.23L732.18,263.39L733.13,264.56L734.09,265.73L735.04,266.9L735.99,268.07L736.95,269.24L737.91,270.41L738.87,271.59L739.83,272.77L740.79,273.94L741.76,275.12L742.73,276.31L743.7,277.49L744.68,278.67L745.66,279.85L746.65,281.04L747.64,282.22L748.63,283.4L749.63,284.57L750.64,285.75L751.65,286.92L752.66,288.08L753.68,289.24L754.71,290.4L755.74,291.55L756.78,292.7L757.82,293.84L758.87,294.97L759.92,296.09L760.99,297.21L762.06,298.32L763.13,299.41L764.21,300.5L765.3,301.58L766.4,302.64L767.51,303.7L768.62,304.74L769.74,305.77L770.87,306.79L772.01,307.79L773.15,308.78L774.3,309.75L775.47,310.71L776.64,311.66L777.82,312.58L779.01,313.49L780.21,314.38L781.42,315.26L782.64,316.11L783.87,316.95L785.1,317.77L786.35,318.56L787.61,319.34L788.88,320.09L790.16,320.83L791.46,321.54L792.76,322.22L794.07,322.89L795.4,323.53L796.74,324.14L798.08,324.73L799.45,325.3L800.82,325.83L802.2,326.35L803.6,326.83L805.01,327.29L806.44,327.72L807.87,328.11L809.32,328.48L810.79,328.82L812.26,329.13L813.75,329.41L815.26,329.66L816.77,329.87"/>
<path d="M636.2,204.39L637.71,204.44L639.22,204.43L640.72,204.37L642.21,204.26L643.7,204.1L645.18,203.9L646.64,203.64L648.1,203.34L649.54,202.99L650.98,202.6L652.4,202.16L653.81,201.69L655.2,201.17L656.59,200.61L657.96,200.02L659.31,199.38L660.65,198.72L661.98,198.01L663.29,197.28L664.58,196.51L665.85,195.71L667.11,194.88L668.35,194.02L669.57,193.13L670.77,192.22L671.96,191.28L673.12,190.32L674.26,189.34L675.38,188.33L676.48,187.31L677.55,186.26L678.61,185.2L679.64,184.12L680.64,183.02L681.62,181.91L682.58,180.79L683.51,179.65L684.41,178.51L685.3,177.35L686.16,176.18L687,174.99L687.82,173.8L688.62,172.6L689.41,171.38L690.18,170.15L690.94,168.91L691.69,167.66L692.42,166.39L693.15,165.12L693.87,163.83L694.59,162.53L695.3,161.22L696.01,159.9L696.71,158.56L697.42,157.22L698.13,155.86L698.83,154.5L699.54,153.13L700.25,151.75L700.96,150.36L701.67,148.98L702.39,147.59L703.11,146.19L703.83,144.8L704.57,143.41L705.3,142.02L706.05,140.63L706.8,139.25L707.55,137.87L708.32,136.49L709.09,135.13L709.88,133.77L710.67,132.42L711.48,131.08L712.29,129.76L713.12,128.44L713.96,127.14L714.81,125.86L715.68,124.59L716.56,123.34L717.45,122.1L718.36,120.89L719.29,119.7L720.23,118.53L721.19,117.38L722.17,116.25L723.17,115.15L724.18,114.08L725.22,113.03L726.27,112.01L727.34,111.01L728.42,110.03L729.52,109.08L730.64,108.15L731.78,107.24L732.92,106.35L734.09,105.49L735.27,104.65L736.46,103.82L737.67,103.02L738.89,102.24L740.13,101.48L741.38,100.73L742.64,100.01L743.91,99.3L745.2,98.61L746.49,97.94L747.8,97.28L749.12,96.64L750.45,96.02L751.79,95.41L753.14,94.82L754.5,94.24L755.87,93.68L757.24,93.13L758.63,92.59L760.02,92.07L761.42,91.56L762.83,91.06L764.25,90.57L765.67,90.1L767.1,89.63L768.53,89.18L769.97,88.74L771.41,88.3L772.86,87.88L774.32,87.46L775.77,87.05L777.24,86.65L778.7,86.26L780.17,85.87L781.64,85.49L783.11,85.12L784.58,84.75L786.06,84.39L787.54,84.03L789.02,83.68L790.49,83.33L791.97,82.98L793.45,82.64L794.93,82.3L796.41,81.97L797.89,81.63L799.37,81.31L800.85,80.98L802.33,80.66L803.81,80.35L805.29,80.03L806.77,79.73L808.25,79.42L809.73,79.12L811.22,78.82L812.7,78.52L814.18,78.23L815.66,77.95L817.14,77.66L818.63,77.38L820.11,77.1L821.59,76.83L823.08,76.56L824.56,76.29L826.04,76.03L827.53,75.77L829.01,75.51L830.49,75.26L831.98,75.01L833.46,74.77L834.95,74.52L836.43,74.28L837.92,74.05L839.4,73.82L840.89,73.59L842.38,73.36L843.86,73.14L845.35,72.92L846.83,72.7L848.32,72.49L849.81,72.28L851.3,72.08L852.78,71.88L854.27,71.68L855.76,71.48L857.25,71.29L858.73,71.1L860.22,70.91L861.71,70.73L863.2,70.55L864.69,70.37L866.18,70.2L867.67,70.03L869.16,69.86L870.64,69.7L872.13,69.54L873.62,69.38L875.11,69.23L876.6,69.08L878.1,68.93L879.59,68.79L881.08,68.64L882.57,68.51L884.06,68.37L885.55,68.24L887.04,68.11L888.53,67.98L890.03,67.86L891.52,67.74L893.01,67.62L894.5,67.51L896,67.4L897.49,67.29L898.98,67.18L900.47,67.08L901.97,66.98L903.46,66.89L904.95,66.79L906.45,66.7L907.94,66.62L909.44,66.53L910.93,66.45L912.43,66.37L913.92,66.3L915.42,66.22L916.91,66.15L918.41,66.09L919.9,66.02L921.4,65.96L922.89,65.9L924.39,65.85L925.88,65.79L927.38,65.74L928.88,65.7L930.37,65.65L931.87,65.61L933.37,65.57L934.86,65.54L936.36,65.5L937.86,65.47L939.36,65.44L940.85,65.42L942.35,65.4L943.85,65.38L945.35,65.36L946.85,65.34L948.34,65.33L949.84,65.32L951.34,65.32L952.84,65.31L954.34,65.31L955.84,65.31L957.34,65.32L958.84,65.32L960.34,65.33L961.84,65.34L963.34,65.36L964.84,65.38L966.34,65.39L967.84,65.42L969.34,65.44L970.84,65.47L972.34,65.5L973.84,65.53L975.34,65.56L976.84,65.6L978.34,65.64L979.84,65.68L981.35,65.73L982.85,65.77L984.35,65.82L985.85,65.87L987.35,65.93L988.86,65.98L990.36,66.04L991.86,66.1L993.36,66.17L994.87,66.23L996.37,66.3L997.87,66.37L999.37,66.44L1000.88,66.52L1002.38,66.6L1003.89,66.68L1005.39,66.76L1006.89,66.84L1008.4,66.93L1009.9,67.02L1011.4,67.11L1012.91,67.21L1014.41,67.31L1015.91,67.41L1017.42,67.52L1018.92,67.63L1020.42,67.75L1021.92,67.87L1023.42,68L1024.92,68.13L1026.42,68.27L1027.91,68.41L1029.41,68.56L1030.9,68.72L1032.4,68.88L1033.89,69.05L1035.38,69.23L1036.87,69.41L1038.36,69.6L1039.84,69.8L1041.33,70.01L1042.81,70.22L1044.29,70.45L1045.77,70.68L1047.24,70.92L1048.72,71.17L1050.19,71.43L1051.66,71.7L1053.13,71.98L1054.59,72.28L1056.06,72.58L1057.52,72.89L1058.98,73.21L1060.43,73.55L1061.88,73.89L1063.33,74.25L1064.78,74.62L1066.22,75L1067.66,75.4L1069.1,75.81L1070.53,76.23L1071.96,76.66L1073.39,77.11L1074.81,77.57L1076.23,78.05L1077.64,78.54L1079.06,79.04L1080.46,79.56L1081.87,80.09L1083.27,80.64L1084.66,81.21L1086.05,81.79L1087.44,82.39L1088.83,83L1090.2,83.63L1091.58,84.27L1092.95,84.94L1094.31,85.62L1095.67,86.32L1097.02,87.03L1098.36,87.77L1099.7,88.52L1101.02,89.29L1102.33,90.08L1103.63,90.88L1104.91,91.71L1106.18,92.55L1107.44,93.42L1108.67,94.3L1109.89,95.21L1111.09,96.13L1112.27,97.08L1113.42,98.04L1114.56,99.03L1115.67,100.03L1116.75,101.06L1117.81,102.11L1118.84,103.18L1119.84,104.27L1120.82,105.38L1121.76,106.52L1122.68,107.67L1123.56,108.85L1124.42,110.04L1125.25,111.25L1126.06,112.49L1126.84,113.74L1127.59,115L1128.31,116.29L1129.01,117.59L1129.68,118.9L1130.33,120.23L1130.95,121.58L1131.55,122.94L1132.12,124.31L1132.67,125.7L1133.19,127.1L1133.69,128.51L1134.17,129.93L1134.62,131.36L1135.05,132.8L1135.46,134.25L1135.85,135.71L1136.21,137.18L1136.56,138.66L1136.88,140.14L1137.18,141.63L1137.47,143.13L1137.73,144.63L1137.97,146.13L1138.19,147.65L1138.4,149.16L1138.58,150.68L1138.75,152.2L1138.89,153.72L1139.02,155.25L1139.14,156.78L1139.23,158.3L1139.31,159.83L1139.37,161.36L1139.42,162.88L1139.45,164.41L1139.46,165.93L1139.46,167.45L1139.44,168.96L1139.41,170.47L1139.37,171.98L1139.31,173.49L1139.24,175L1139.15,176.5L1139.05,178L1138.94,179.49L1138.82,180.99L1138.68,182.48L1138.54,183.97L1138.38,185.46L1138.21,186.95L1138.04,188.43L1137.85,189.91L1137.65,191.4L1137.45,192.87L1137.23,194.35L1137.01,195.83L1136.78,197.3L1136.54,198.77L1136.3,200.25L1136.05,201.72L1135.79,203.19L1135.52,204.65L1135.25,206.12L1134.98,207.59L1134.7,209.05L1134.41,210.52L1134.12,211.98L1133.83,213.44L1133.53,214.91L1133.23,216.37L1132.93,217.83L1132.63,219.29L1132.32,220.75L1132.01,222.21L1131.7,223.67L1131.39,225.13L1131.08,226.6L1130.77,228.06L1130.46,229.52L1130.15,230.98L1129.84,232.44L1129.53,233.9L1129.23,235.36L1128.93,236.83L1128.62,238.29L1128.33,239.76L1128.03,241.22L1127.74,242.69L1127.45,244.15L1127.17,245.62L1126.89,247.09L1126.62,248.56L1126.35,250.03L1126.09,251.51L1125.83,252.98L1125.58,254.46L1125.34,255.93L1125.1,257.41L1124.88,258.89L1124.66,260.38L1124.45,261.86L1124.24,263.35L1124.05,264.84L1123.87,266.33L1123.7,267.82L1123.53,269.31L1123.38,270.81L1123.24,272.31L1123.11,273.81L1122.99,275.32L1122.88,276.83L1122.79,278.34L1122.71,279.85L1122.64,281.36L1122.59,282.88L1122.55,284.4L1122.52,285.93L1122.51,287.46L1122.52,288.99L1122.54,290.52L1122.58,292.06L1122.64,293.59L1122.72,295.12L1122.83,296.64L1122.97,298.16L1123.14,299.66L1123.34,301.16L1123.57,302.64L1123.84,304.11L1124.15,305.56L1124.51,306.99L1124.9,308.4L1125.35,309.78L1125.84,311.14L1126.38,312.48L1126.98,313.78L1127.63,315.06L1128.34,316.3L1129.11,317.5L1129.94,318.67L1130.84,319.8L1131.8,320.89L1132.83,321.94L1133.94,322.94L1135.12,323.9L1136.37,324.81L1137.69,325.66L1139.07,326.48L1140.46,327.24L1141.87,327.97L1143.26,328.66L1144.61,329.31"/>
<path d="M636.2,204.4L637.71,204.42L639.22,204.41L640.73,204.34L642.24,204.23L643.74,204.08L645.24,203.88L646.73,203.64L648.22,203.35L649.69,203.03L651.16,202.66L652.62,202.25L654.06,201.8L655.49,201.32L656.9,200.79L658.3,200.23L659.68,199.63L661.04,198.99L662.38,198.32L663.71,197.62L665,196.88L666.28,196.1L667.53,195.3L668.76,194.46L669.95,193.59L671.12,192.69L672.26,191.76L673.38,190.8L674.47,189.82L675.53,188.8L676.56,187.77L677.57,186.7L678.56,185.61L679.51,184.5L680.45,183.36L681.36,182.21L682.25,181.03L683.11,179.83L683.96,178.62L684.78,177.38L685.58,176.13L686.35,174.86L687.11,173.57L687.85,172.27L688.56,170.96L689.26,169.63L689.94,168.3L690.6,166.95L691.24,165.58L691.87,164.21L692.48,162.83L693.08,161.44L693.66,160.04L694.23,158.63L694.79,157.21L695.33,155.79L695.87,154.36L696.39,152.92L696.91,151.48L697.41,150.04L697.91,148.59L698.41,147.13L698.9,145.68L699.38,144.22L699.86,142.75L700.33,141.29L700.81,139.83L701.28,138.36L701.75,136.9L702.22,135.43L702.69,133.97L703.16,132.51L703.64,131.05L704.11,129.6L704.6,128.15L705.08,126.7L705.58,125.26L706.08,123.82L706.58,122.39L707.1,120.96L707.62,119.55L708.16,118.14L708.7,116.74L709.25,115.34L709.82,113.96L710.4,112.58L711,111.22L711.61,109.87L712.23,108.53L712.87,107.2L713.53,105.88L714.21,104.58L714.9,103.29L715.62,102.02L716.35,100.76L717.11,99.51L717.89,98.28L718.69,97.07L719.51,95.88L720.36,94.7L721.23,93.54L722.13,92.4L723.05,91.28L724,90.17L724.96,89.08L725.95,88.01L726.96,86.95L727.99,85.91L729.04,84.89L730.11,83.88L731.2,82.89L732.3,81.92L733.43,80.96L734.57,80.01L735.73,79.08L736.91,78.17L738.1,77.27L739.31,76.38L740.53,75.51L741.77,74.65L743.02,73.81L744.28,72.98L745.56,72.16L746.85,71.36L748.15,70.57L749.46,69.79L750.78,69.03L752.11,68.28L753.46,67.54L754.81,66.81L756.17,66.1L757.53,65.39L758.91,64.7L760.29,64.02L761.68,63.35L763.07,62.69L764.47,62.04L765.88,61.4L767.28,60.77L768.7,60.16L770.11,59.55L771.53,58.95L772.95,58.36L774.37,57.78L775.79,57.21L777.22,56.65L778.64,56.1L780.07,55.55L781.49,55.02L782.92,54.49L784.34,53.97L785.77,53.46L787.2,52.96L788.62,52.46L790.05,51.97L791.48,51.49L792.91,51.01L794.34,50.55L795.77,50.08L797.2,49.63L798.63,49.18L800.06,48.74L801.5,48.3L802.93,47.87L804.37,47.45L805.8,47.03L807.24,46.61L808.67,46.2L810.11,45.8L811.55,45.4L812.99,45L814.42,44.61L815.86,44.23L817.3,43.84L818.75,43.47L820.19,43.09L821.63,42.72L823.07,42.35L824.52,41.99L825.96,41.63L827.41,41.27L828.85,40.91L830.3,40.56L831.75,40.21L833.2,39.86L834.65,39.51L836.1,39.17L837.55,38.83L839,38.49L840.45,38.15L841.91,37.81L843.36,37.48L844.81,37.15L846.27,36.82L847.73,36.5L849.18,36.17L850.64,35.85L852.1,35.53L853.56,35.22L855.02,34.9L856.48,34.59L857.94,34.28L859.4,33.97L860.86,33.67L862.32,33.36L863.79,33.06L865.25,32.76L866.72,32.47L868.18,32.17L869.65,31.88L871.12,31.59L872.58,31.3L874.05,31.01L875.52,30.73L876.99,30.45L878.46,30.17L879.93,29.89L881.4,29.61L882.87,29.34L884.34,29.07L885.82,28.8L887.29,28.53L888.76,28.26L890.24,28L891.71,27.74L893.19,27.48L894.66,27.22L896.14,26.96L897.62,26.71L899.09,26.46L900.57,26.21L902.05,25.96L903.53,25.71L905.01,25.47L906.49,25.22L907.97,24.98L909.45,24.75L910.93,24.51L912.41,24.27L913.89,24.04L915.38,23.81L916.86,23.58L918.34,23.35L919.83,23.13L921.31,22.9L922.8,22.68L924.28,22.46L925.77,22.24L927.25,22.02L928.74,21.81L930.23,21.6L931.71,21.38L933.2,21.17L934.69,20.97L936.18,20.76L937.67,20.56L939.15,20.35L940.64,20.15L942.13,19.95L943.62,19.75L945.11,19.56L946.6,19.36L948.09,19.17L949.59,18.98L951.08,18.79L952.57,18.6L954.06,18.42L955.55,18.23L957.05,18.05L958.54,17.87L960.03,17.69L961.52,17.51L963.02,17.33L964.51,17.16L966.01,16.98L967.5,16.81L968.99,16.64L970.49,16.47L971.98,16.3L973.48,16.13L974.98,15.97L976.47,15.81L977.97,15.64L979.46,15.48L980.96,15.33L982.46,15.17L983.95,15.01L985.45,14.86L986.95,14.7L988.44,14.55L989.94,14.4L991.44,14.25L992.93,14.1L994.43,13.96L995.93,13.81L997.43,13.67L998.92,13.53L1000.42,13.39L1001.92,13.25L1003.42,13.11L1004.92,12.97L1006.42,12.84L1007.91,12.7L1009.41,12.57L1010.91,12.44L1012.41,12.31L1013.91,12.18L1015.41,12.05L1016.91,11.92L1018.4,11.79L1019.9,11.67L1021.4,11.55L1022.9,11.42L1024.4,11.3L1025.9,11.18L1027.4,11.07L1028.9,10.95L1030.39,10.83L1031.89,10.72L1033.39,10.6L1034.89,10.49L1036.39,10.38L1037.89,10.27L1039.39,10.16L1040.89,10.05L1042.38,9.94L1043.88,9.84L1045.38,9.73L1046.88,9.63L1048.38,9.52L1049.88,9.42L1051.38,9.32L1052.87,9.22L1054.37,9.13L1055.87,9.03L1057.37,8.93L1058.87,8.84L1060.37,8.74L1061.86,8.65L1063.36,8.56L1064.86,8.47L1066.36,8.38L1067.86,8.3L1069.36,8.21L1070.85,8.12L1072.35,8.04L1073.85,7.96L1075.35,7.88L1076.85,7.8L1078.35,7.72L1079.84,7.64L1081.34,7.56L1082.84,7.49L1084.34,7.41L1085.84,7.34L1087.33,7.27L1088.83,7.19L1090.33,7.13L1091.83,7.06L1093.33,6.99L1094.82,6.92L1096.32,6.86L1097.82,6.79L1099.32,6.73L1100.82,6.67L1102.31,6.61L1103.81,6.55L1105.31,6.49L1106.81,6.44L1108.31,6.38L1109.8,6.33L1111.3,6.28L1112.8,6.22L1114.3,6.17L1115.8,6.12L1117.29,6.08L1118.79,6.03L1120.29,5.98L1121.79,5.94L1123.29,5.9L1124.78,5.86L1126.28,5.81L1127.78,5.78L1129.28,5.74L1130.77,5.7L1132.27,5.66L1133.77,5.63L1135.27,5.6L1136.77,5.57L1138.26,5.53L1139.76,5.51L1141.26,5.48L1142.76,5.45L1144.26,5.42L1145.75,5.4L1147.25,5.38L1148.75,5.36L1150.25,5.33L1151.74,5.31L1153.24,5.3L1154.74,5.28L1156.24,5.26L1157.74,5.25L1159.23,5.24L1160.73,5.22L1162.23,5.21L1163.73,5.2L1165.22,5.2L1166.72,5.19L1168.22,5.18L1169.72,5.18L1171.21,5.18L1172.71,5.18L1174.21,5.18L1175.71,5.18L1177.21,5.18L1178.7,5.18L1180.2,5.19L1181.7,5.19L1183.2,5.2L1184.69,5.21L1186.19,5.22L1187.69,5.23L1189.19,5.24L1190.69,5.26L1192.18,5.27L1193.68,5.29L1195.18,5.3L1196.68,5.32L1198.17,5.34L1199.67,5.37L1201.17,5.39L1202.67,5.41L1204.16,5.44L1205.66,5.46L1207.16,5.49L1208.66,5.52L1210.16,5.55L1211.65,5.58L1213.15,5.62L1214.65,5.65L1216.15,5.69L1217.64,5.73L1219.14,5.76L1220.64,5.8L1222.14,5.85L1223.64,5.89L1225.13,5.93L1226.63,5.98L1228.13,6.02L1229.63,6.07L1231.13,6.12L1232.62,6.17L1234.12,6.22L1235.62,6.28L1237.12,6.33L1238.61,6.39L1240.11,6.44L1241.61,6.5L1243.11,6.56L1244.61,6.62L1246.1,6.69L1247.6,6.75L1249.1,6.82L1250.6,6.88L1252.1,6.95L1253.59,7.02L1255.09,7.09L1256.59,7.16L1258.09,7.24L1259.59,7.31L1261.08,7.39L1262.58,7.47L1264.08,7.55L1265.58,7.63L1267.08,7.71L1268.57,7.79L1270.07,7.87L1271.57,7.96L1273.07,8.05L1274.57,8.14L1276.07,8.23L1277.56,8.32L1279.06,8.41L1280.56,8.5L1282.06,8.6L1283.56,8.7L1285.06,8.79L1286.55,8.89L1288.05,9L1289.55,9.1L1291.05,9.2L1292.55,9.31L1294.04,9.41L1295.54,9.52L1297.04,9.63L1298.54,9.74L1300.04,9.85L1301.54,9.97L1303.04,10.08L1304.53,10.2L1306.03,10.32L1307.53,10.44L1309.03,10.56L1310.53,10.68L1312.03,10.8L1313.53,10.93L1315.02,11.05L1316.52,11.18L1318.02,11.31L1319.52,11.44L1321.02,11.57L1322.52,11.71L1324.02,11.84L1325.51,11.98L1327.01,12.11L1328.51,12.25L1330.01,12.39L1331.51,12.54L1333.01,12.68L1334.51,12.82L1336.01,12.97L1337.5,13.12L1339,13.27L1340.5,13.42L1342,13.57L1343.5,13.73L1345,13.88L1346.5,14.04L1347.99,14.2L1349.49,14.36L1350.99,14.52L1352.49,14.68L1353.99,14.85L1355.48,15.01L1356.98,15.18L1358.48,15.35L1359.97,15.52L1361.47,15.7L1362.97,15.87L1364.46,16.05L1365.96,16.23L1367.46,16.41L1368.95,16.59L1370.45,16.77L1371.94,16.95L1373.44,17.14L1374.93,17.33L1376.43,17.52L1377.92,17.71L1379.42,17.9L1380.91,18.1L1382.41,18.3L1383.9,18.49L1385.39,18.69L1386.88,18.9L1388.38,19.1L1389.87,19.31L1391.36,19.51L1392.85,19.72L1394.34,19.93L1395.83,20.15L1397.32,20.36L1398.81,20.58L1400.3,20.8L1401.79,21.02L1403.28,21.24L1404.77,21.47L1406.26,21.69L1407.75,21.92L1409.23,22.15L1410.72,22.38L1412.21,22.62L1413.69,22.85L1415.18,23.09L1416.66,23.33L1418.15,23.57L1419.63,23.81L1421.11,24.06L1422.59,24.31L1424.08,24.56L1425.56,24.81L1427.04,25.06L1428.52,25.32L1430,25.58L1431.48,25.84L1432.96,26.1L1434.44,26.36L1435.92,26.63L1437.39,26.9L1438.87,27.17L1440.35,27.44L1441.82,27.71L1443.3,27.99L1444.77,28.27L1446.24,28.55L1447.72,28.83L1449.19,29.12L1450.66,29.41L1452.13,29.7L1453.6,29.99L1455.07,30.28L1456.54,30.58L1458.01,30.88L1459.47,31.18L1460.94,31.48L1462.41,31.78L1463.87,32.09L1465.34,32.4L1466.8,32.71L1468.26,33.03L1469.72,33.34L1471.19,33.66L1472.65,33.98L1474.11,34.31L1475.56,34.63L1477.02,34.96L1478.48,35.29L1479.94,35.62L1481.39,35.96L1482.85,36.29L1484.3,36.63L1485.75,36.98L1487.21,37.32L1488.66,37.67L1490.11,38.02L1491.56,38.37L1493.01,38.72L1494.45,39.08L1495.9,39.44L1497.35,39.8L1498.79,40.16L1500.23,40.53L1501.68,40.9L1503.12,41.27L1504.56,41.64L1506,42.02L1507.44,42.4L1508.88,42.78L1510.32,43.17L1511.75,43.56L1513.19,43.95L1514.62,44.34L1516.06,44.74L1517.49,45.14L1518.92,45.55L1520.35,45.95L1521.78,46.36L1523.21,46.78L1524.64,47.2L1526.07,47.62L1527.49,48.05L1528.92,48.48L1530.34,48.91L1531.77,49.35L1533.19,49.79L1534.61,50.24L1536.03,50.69L1537.45,51.14L1538.87,51.6L1540.29,52.06L1541.71,52.53L1543.12,53L1544.54,53.48L1545.95,53.96L1547.37,54.45L1548.78,54.94L1550.19,55.43L1551.61,55.94L1553.02,56.44L1554.43,56.95L1555.83,57.47L1557.24,57.99L1558.65,58.52L1560.06,59.05L1561.46,59.59L1562.87,60.13L1564.27,60.68L1565.68,61.24L1567.08,61.8L1568.48,62.37L1569.88,62.94L1571.28,63.52L1572.68,64.1L1574.08,64.69L1575.48,65.29L1576.87,65.89L1578.27,66.5L1579.66,67.12L1581.06,67.74L1582.45,68.37L1583.85,69.01L1585.24,69.65L1586.63,70.3L1588.02,70.96L1589.41,71.62L1590.8,72.29L1592.19,72.97L1593.57,73.65L1594.96,74.34L1596.34,75.04L1597.72,75.75L1599.1,76.47L1600.46,77.2L1601.82,77.94L1603.18,78.69L1604.52,79.45L1605.85,80.22L1607.17,81L1608.48,81.8L1609.77,82.61L1611.05,83.44L1612.31,84.28L1613.55,85.13L1614.78,86L1615.98,86.89L1617.16,87.79L1618.33,88.71L1619.47,89.65L1620.58,90.61L1621.67,91.58L1622.73,92.58L1623.77,93.59L1624.77,94.63L1625.75,95.68L1626.69,96.76L1627.61,97.86L1628.49,98.98L1629.33,100.13L1630.14,101.29L1630.91,102.49L1631.65,103.7L1632.35,104.95L1633,106.21L1633.63,107.5L1634.21,108.82L1634.76,110.15L1635.28,111.51L1635.76,112.88L1636.21,114.27L1636.64,115.68L1637.03,117.11L1637.39,118.55L1637.72,120.01L1638.03,121.48L1638.31,122.97L1638.57,124.47L1638.8,125.98L1639.02,127.5L1639.2,129.02L1639.37,130.56L1639.52,132.11L1639.65,133.66L1639.76,135.21L1639.86,136.77L1639.94,138.34L1640.01,139.91L1640.06,141.47L1640.1,143.04L1640.13,144.61L1640.14,146.18L1640.15,147.75L1640.15,149.32L1640.15,150.88L1640.14,152.44L1640.14,153.99L1640.13,155.54L1640.13,157.09L1640.13,158.62L1640.14,160.16L1640.16,161.68L1640.19,163.2L1640.23,164.71L1640.3,166.21L1640.38,167.71L1640.48,169.19L1640.6,170.66L1640.75,172.12L1640.92,173.57L1641.13,175.01L1641.36,176.44L1641.63,177.86L1641.94,179.26L1642.28,180.64L1642.66,182.01L1643.08,183.37L1643.55,184.71L1644.06,186.04L1644.62,187.35L1645.23,188.64L1645.9,189.91L1646.61,191.17L1647.39,192.4L1648.22,193.62L1649.11,194.81L1650.06,195.99L1651.07,197.14"/>
<path d="M636.21,204.41L637.69,204.38L639.19,204.39L640.69,204.42L642.2,204.48L643.72,204.56L645.25,204.67L646.78,204.81L648.32,204.98L649.85,205.17L651.39,205.4L652.93,205.64L654.47,205.92L656,206.22L657.53,206.55L659.06,206.9L660.58,207.29L662.09,207.7L663.6,208.13L665.09,208.59L666.58,209.08L668.05,209.6L669.51,210.14L670.96,210.71L672.39,211.31L673.81,211.93L675.2,212.58L676.58,213.25L677.94,213.95L679.28,214.68L680.59,215.44L681.88,216.22L683.15,217.02L684.39,217.86L685.6,218.72L686.78,219.6L687.94,220.51L689.06,221.45L690.16,222.42L691.22,223.41L692.24,224.42L693.23,225.46L694.19,226.53L695.12,227.62L696.01,228.73L696.88,229.87L697.71,231.03L698.51,232.21L699.28,233.41L700.02,234.64L700.73,235.88L701.42,237.14L702.08,238.42L702.71,239.72L703.31,241.03L703.89,242.36L704.45,243.71L704.98,245.07L705.49,246.45L705.97,247.84L706.43,249.24L706.87,250.66L707.29,252.09L707.69,253.53L708.06,254.98L708.42,256.44L708.76,257.91L709.08,259.39L709.38,260.88L709.67,262.38L709.93,263.88L710.19,265.39L710.42,266.91L710.65,268.43L710.85,269.95L711.05,271.48L711.23,273.01L711.4,274.54L711.56,276.08L711.7,277.62L711.84,279.15L711.96,280.69L712.08,282.23L712.19,283.76L712.29,285.3L712.38,286.83L712.46,288.36L712.53,289.89L712.59,291.42L712.65,292.95L712.7,294.48L712.74,296.01L712.77,297.53L712.8,299.06L712.82,300.58L712.83,302.11L712.83,303.63L712.83,305.15L712.82,306.67L712.8,308.19L712.78,309.71L712.75,311.23L712.71,312.75L712.67,314.26L712.63,315.78L712.57,317.29L712.51,318.81L712.45,320.32L712.38,321.83L712.3,323.34L712.22,324.85L712.14,326.36L712.05,327.87L711.96,329.38L711.86,330.89L711.75,332.39L711.65,333.9L711.54,335.41L711.42,336.91L711.3,338.42L711.18,339.92L711.05,341.42L710.93,342.92L710.79,344.43L710.66,345.93L710.52,347.43L710.38,348.93L710.24,350.43L710.09,351.93L709.94,353.43L709.79,354.92L709.64,356.42L709.49,357.92L709.33,359.41L709.17,360.91L709.02,362.41L708.86,363.9L708.69,365.4L708.53,366.89L708.37,368.38L708.21,369.88L708.04,371.37L707.88,372.86L707.71,374.36L707.55,375.85L707.39,377.34L707.22,378.83L707.06,380.32L706.89,381.81L706.73,383.31L706.57,384.8L706.41,386.29L706.25,387.78L706.09,389.27L705.93,390.75L705.77,392.24L705.62,393.73L705.47,395.22L705.32,396.71L705.17,398.2L705.02,399.69L704.88,401.18L704.74,402.66L704.6,404.15L704.46,405.64L704.33,407.13L704.2,408.62L704.07,410.1L703.95,411.59L703.83,413.08L703.71,414.57L703.6,416.05L703.49,417.54L703.39,419.03L703.29,420.52L703.2,422.01L703.1,423.49L703.02,424.98L702.94,426.47L702.86,427.96L702.79,429.45L702.72,430.93L702.66,432.42L702.61,433.91L702.56,435.4L702.52,436.89L702.48,438.38L702.45,439.87L702.43,441.36L702.41,442.85L702.4,444.34L702.39,445.83L702.39,447.32L702.4,448.81L702.42,450.3L702.44,451.79L702.47,453.28L702.51,454.78L702.56,456.27L702.61,457.76L702.67,459.25L702.75,460.75L702.82,462.24L702.91,463.73L703.01,465.23L703.11,466.72L703.23,468.22L703.35,469.72L703.48,471.21L703.62,472.71L703.77,474.21L703.93,475.7L704.1,477.2L704.28,478.7L704.47,480.2L704.66,481.7L704.86,483.2L705.07,484.7L705.28,486.2L705.5,487.7L705.72,489.2L705.95,490.7L706.18,492.21L706.42,493.71L706.66,495.21L706.91,496.71L707.15,498.21L707.4,499.72L707.66,501.22L707.91,502.72L708.16,504.22L708.42,505.73L708.67,507.23L708.93,508.73L709.18,510.23L709.44,511.74L709.69,513.24L709.94,514.74L710.19,516.25L710.44,517.75L710.68,519.25L710.92,520.75L711.15,522.25L711.38,523.76L711.61,525.26L711.83,526.76L712.04,528.26L712.25,529.76L712.46,531.26L712.65,532.76L712.84,534.26L713.02,535.76L713.19,537.26L713.36,538.75L713.51,540.25L713.66,541.75L713.79,543.25L713.91,544.74L714.03,546.24L714.13,547.73L714.23,549.23L714.31,550.72L714.39,552.22L714.46,553.71L714.52,555.21L714.57,556.7L714.62,558.19L714.67,559.68L714.71,561.18L714.74,562.67L714.77,564.16L714.8,565.66L714.83,567.15L714.86,568.64L714.88,570.13L714.91,571.63L714.94,573.12L714.97,574.61L715,576.11L715.03,577.6L715.07,579.1L715.11,580.59L715.15,582.09L715.2,583.59L715.26,585.08L715.32,586.58L715.39,588.08L715.47,589.58L715.55,591.08L715.64,592.58L715.73,594.08L715.83,595.58L715.93,597.08L716.04,598.59L716.15,600.09L716.26,601.59L716.37,603.1L716.49,604.6L716.6,606.1L716.72,607.61L716.83,609.11L716.95,610.62L717.06,612.12L717.17,613.62L717.28,615.13L717.38,616.63L717.48,618.14L717.58,619.64L717.67,621.14L717.76,622.65L717.84,624.15L717.92,625.65L717.99,627.16L718.06,628.66L718.13,630.16L718.19,631.67L718.25,633.17L718.31,634.67L718.36,636.17L718.41,637.67L718.47,639.17L718.52,640.68L718.57,642.18L718.62,643.68L718.67,645.18L718.72,646.68L718.78,648.18L718.83,649.68L718.89,651.18L718.95,652.68L719.01,654.18L719.07,655.68L719.14,657.18L719.22,658.68L719.29,660.19L719.37,661.69L719.46,663.19L719.56,664.69L719.65,666.19L719.76,667.69L719.87,669.19L719.99,670.69L720.12,672.19L720.25,673.69L720.39,675.19L720.55,676.69L720.71,678.19L720.88,679.69L721.06,681.19L721.24,682.69L721.44,684.19L721.65,685.69L721.87,687.18L722.1,688.67L722.34,690.17L722.58,691.66L722.84,693.14L723.12,694.63L723.4,696.11L723.69,697.59L723.99,699.07L724.31,700.54L724.64,702.02L724.98,703.48L725.33,704.95L725.7,706.41L726.07,707.86L726.46,709.31L726.87,710.76L727.28,712.2L727.72,713.64L728.16,715.06L728.62,716.49L729.1,717.91L729.59,719.32L730.1,720.72L730.63,722.12L731.18,723.51L731.74,724.89L732.32,726.26L732.92,727.63L733.53,728.98L734.17,730.33L734.83,731.66L735.51,732.99L736.2,734.31L736.92,735.62L737.65,736.92L738.4,738.21L739.17,739.49L739.96,740.77L740.76,742.03L741.58,743.29L742.42,744.54L743.27,745.78L744.14,747.01"/>
<path d="M1023.8,213.75L1025.31,213.76L1026.82,213.74L1028.32,213.7L1029.82,213.65L1031.32,213.57L1032.82,213.47L1034.31,213.36L1035.8,213.23L1037.29,213.07L1038.77,212.9L1040.25,212.72L1041.73,212.52L1043.21,212.3L1044.68,212.06L1046.16,211.81L1047.63,211.55L1049.1,211.27L1050.56,210.98L1052.03,210.68L1053.49,210.37L1054.95,210.04L1056.41,209.7L1057.87,209.35L1059.33,208.99L1060.78,208.62L1062.23,208.24L1063.69,207.85L1065.14,207.46L1066.59,207.05L1068.04,206.64L1069.48,206.22L1070.93,205.8L1072.38,205.37L1073.82,204.93L1075.27,204.49L1076.71,204.05L1078.16,203.6L1079.6,203.15L1081.04,202.7L1082.49,202.24L1083.93,201.78L1085.37,201.32L1086.81,200.86L1088.26,200.4L1089.7,199.94L1091.14,199.48L1092.58,199.02L1094.03,198.57L1095.47,198.11L1096.92,197.66L1098.36,197.22L1099.81,196.77L1101.25,196.33L1102.7,195.9L1104.15,195.47L1105.6,195.05L1107.05,194.63L1108.5,194.22L1109.95,193.82L1111.4,193.42L1112.86,193.04L1114.31,192.66L1115.77,192.29L1117.23,191.94L1118.69,191.59L1120.15,191.25L1121.62,190.93L1123.09,190.61L1124.55,190.31L1126.02,190.03L1127.5,189.75L1128.97,189.49L1130.45,189.25L1131.93,189.02L1133.41,188.8L1134.89,188.6L1136.38,188.42L1137.87,188.25L1139.36,188.11L1140.86,187.98L1142.36,187.87L1143.86,187.77L1145.36,187.7L1146.87,187.65L1148.38,187.62L1149.89,187.6L1151.41,187.62"/>
<path d="M1023.79,213.74L1025.32,213.78L1026.84,213.79L1028.37,213.77L1029.89,213.71L1031.4,213.63L1032.91,213.51L1034.41,213.37L1035.91,213.19L1037.4,212.98L1038.88,212.75L1040.36,212.48L1041.82,212.18L1043.28,211.85L1044.72,211.49L1046.15,211.09L1047.57,210.67L1048.98,210.22L1050.38,209.73L1051.76,209.22L1053.13,208.67L1054.49,208.09L1055.82,207.49L1057.15,206.85L1058.45,206.18L1059.74,205.48L1061.01,204.75L1062.26,203.99L1063.49,203.19L1064.7,202.37L1065.9,201.52L1067.07,200.64L1068.23,199.73L1069.37,198.8L1070.49,197.84L1071.6,196.86L1072.69,195.85L1073.77,194.82L1074.83,193.77L1075.89,192.71L1076.93,191.62L1077.96,190.51L1078.97,189.39L1079.98,188.26L1080.98,187.11L1081.97,185.94L1082.95,184.77L1083.92,183.58L1084.89,182.38L1085.85,181.17L1086.81,179.96L1087.76,178.74L1088.71,177.51L1089.66,176.28L1090.6,175.04L1091.54,173.81L1092.48,172.57L1093.42,171.33L1094.36,170.09L1095.3,168.85L1096.24,167.62L1097.18,166.39L1098.13,165.16L1099.08,163.94L1100.04,162.73L1101,161.53L1101.96,160.33L1102.94,159.15L1103.92,157.97L1104.9,156.81L1105.9,155.67L1106.91,154.53L1107.92,153.42L1108.95,152.32L1109.99,151.24L1111.04,150.17L1112.1,149.13L1113.17,148.11L1114.26,147.11L1115.37,146.13L1116.49,145.18L1117.62,144.25L1118.77,143.34L1119.93,142.45L1121.1,141.58L1122.29,140.73L1123.49,139.91L1124.7,139.1L1125.92,138.31L1127.16,137.53L1128.4,136.78L1129.66,136.04L1130.93,135.32L1132.21,134.62L1133.5,133.93L1134.79,133.26L1136.1,132.6L1137.42,131.96L1138.75,131.33L1140.08,130.71L1141.43,130.11L1142.78,129.52L1144.14,128.94L1145.5,128.37L1146.88,127.82L1148.26,127.27L1149.65,126.74L1151.04,126.21L1152.44,125.69L1153.85,125.18L1155.26,124.68L1156.67,124.19L1158.09,123.7L1159.52,123.22L1160.95,122.75L1162.38,122.28L1163.82,121.82L1165.26,121.36L1166.7,120.91L1168.14,120.46L1169.59,120.01L1171.04,119.56L1172.49,119.12L1173.94,118.68L1175.4,118.24L1176.85,117.8L1178.31,117.36L1179.76,116.92L1181.22,116.49L1182.67,116.04L1184.13,115.6L1185.58,115.16L1187.04,114.71L1188.49,114.27L1189.94,113.82L1191.39,113.37L1192.84,112.92L1194.29,112.47L1195.74,112.02L1197.19,111.56L1198.64,111.11L1200.09,110.66L1201.54,110.2L1202.99,109.74L1204.44,109.29L1205.88,108.83L1207.33,108.37L1208.78,107.92L1210.22,107.46L1211.67,107L1213.12,106.54L1214.56,106.09L1216.01,105.63L1217.45,105.17L1218.9,104.71L1220.34,104.26L1221.78,103.8L1223.23,103.34L1224.67,102.89L1226.12,102.43L1227.56,101.98L1229,101.52L1230.45,101.07L1231.89,100.62L1233.34,100.17L1234.78,99.72L1236.22,99.27L1237.67,98.82L1239.11,98.37L1240.55,97.93L1242,97.48L1243.44,97.04L1244.88,96.6L1246.33,96.16L1247.77,95.72L1249.21,95.28L1250.66,94.85L1252.1,94.42L1253.55,93.99L1254.99,93.56L1256.43,93.13L1257.88,92.71L1259.32,92.28L1260.77,91.86L1262.21,91.45L1263.66,91.03L1265.11,90.62L1266.55,90.21L1268,89.8L1269.45,89.4L1270.89,88.99L1272.34,88.6L1273.79,88.2L1275.24,87.81L1276.69,87.42L1278.13,87.03L1279.58,86.65L1281.03,86.27L1282.48,85.89L1283.94,85.52L1285.39,85.15L1286.84,84.78L1288.29,84.42L1289.74,84.06L1291.2,83.71L1292.65,83.36L1294.11,83.01L1295.56,82.67L1297.02,82.33L1298.47,81.99L1299.93,81.66L1301.39,81.34L1302.85,81.02L1304.31,80.7L1305.77,80.39L1307.23,80.08L1308.69,79.78L1310.15,79.48L1311.61,79.19L1313.08,78.9L1314.54,78.61L1316.01,78.34L1317.47,78.06L1318.94,77.79L1320.41,77.53L1321.88,77.27L1323.35,77.02L1324.82,76.78L1326.29,76.54L1327.76,76.3L1329.24,76.07L1330.71,75.85L1332.19,75.63L1333.66,75.42L1335.14,75.21L1336.62,75.01L1338.1,74.82L1339.58,74.63L1341.06,74.45L1342.54,74.28L1344.03,74.11L1345.51,73.95L1347,73.79L1348.48,73.64L1349.97,73.5L1351.46,73.37L1352.95,73.24L1354.45,73.12L1355.94,73L1357.43,72.89L1358.93,72.79L1360.42,72.7L1361.92,72.61L1363.42,72.53L1364.92,72.45L1366.41,72.39L1367.91,72.32L1369.42,72.27L1370.92,72.22L1372.42,72.18L1373.92,72.15L1375.42,72.12L1376.93,72.09L1378.43,72.08L1379.94,72.07L1381.44,72.07L1382.95,72.07L1384.45,72.08L1385.96,72.1L1387.46,72.12L1388.97,72.15L1390.48,72.19L1391.98,72.23L1393.49,72.28L1395,72.33L1396.5,72.39L1398.01,72.46L1399.52,72.54L1401.02,72.62L1402.53,72.7L1404.04,72.79L1405.54,72.89L1407.05,73L1408.55,73.11L1410.06,73.23L1411.56,73.35L1413.07,73.48L1414.57,73.62L1416.08,73.76L1417.58,73.91L1419.08,74.06L1420.58,74.22L1422.08,74.39L1423.58,74.56L1425.08,74.74L1426.58,74.92L1428.08,75.11L1429.58,75.31L1431.08,75.51L1432.57,75.72L1434.07,75.93L1435.56,76.15L1437.05,76.38L1438.54,76.61L1440.03,76.85L1441.52,77.09L1443.01,77.34L1444.5,77.6L1445.98,77.86L1447.47,78.13L1448.95,78.4L1450.43,78.68L1451.91,78.96L1453.39,79.25L1454.87,79.55L1456.34,79.85L1457.82,80.16L1459.29,80.47L1460.76,80.79L1462.23,81.11L1463.7,81.44L1465.16,81.77L1466.63,82.12L1468.09,82.46L1469.55,82.81L1471.01,83.17L1472.46,83.53L1473.92,83.9L1475.37,84.28L1476.82,84.66L1478.27,85.04L1479.71,85.43L1481.16,85.83L1482.6,86.23L1484.04,86.63L1485.48,87.05L1486.91,87.46L1488.34,87.89L1489.77,88.31L1491.2,88.74L1492.63,89.18L1494.06,89.62L1495.48,90.06L1496.9,90.51L1498.32,90.96L1499.74,91.42L1501.16,91.87L1502.58,92.33L1504,92.8L1505.41,93.26L1506.83,93.73L1508.25,94.2L1509.66,94.67L1511.08,95.14L1512.49,95.62L1513.9,96.09L1515.32,96.57L1516.73,97.04L1518.15,97.52L1519.57,98L1520.98,98.47L1522.4,98.95L1523.82,99.42L1525.24,99.9L1526.66,100.37L1528.08,100.85L1529.5,101.32L1530.92,101.79L1532.35,102.26L1533.77,102.73L1535.2,103.19L1536.63,103.65L1538.07,104.11L1539.5,104.57L1540.94,105.02L1542.37,105.47L1543.82,105.92L1545.26,106.36L1546.71,106.8L1548.16,107.24L1549.61,107.67L1551.06,108.09L1552.52,108.52L1553.98,108.93L1555.45,109.34L1556.92,109.75L1558.39,110.15L1559.86,110.54L1561.34,110.93L1562.82,111.31L1564.31,111.69L1565.8,112.05L1567.3,112.41L1568.8,112.77L1570.3,113.12L1571.81,113.45L1573.33,113.79L1574.85,114.11L1576.37,114.42L1577.9,114.73L1579.42,115.04L1580.95,115.34L1582.49,115.64L1584.02,115.94L1585.55,116.24L1587.07,116.54L1588.6,116.85L1590.12,117.16L1591.63,117.48L1593.14,117.81L1594.65,118.14L1596.14,118.49L1597.63,118.84L1599.1,119.22L1600.57,119.6L1602.02,120L1603.47,120.42L1604.89,120.86L1606.31,121.32L1607.71,121.8L1609.09,122.3L1610.46,122.83L1611.8,123.39L1613.13,123.97L1614.44,124.58L1615.73,125.22L1617,125.89L1618.24,126.59L1619.46,127.33L1620.66,128.1L1621.83,128.91L1622.98,129.75L1624.11,130.62L1625.21,131.52L1626.29,132.46L1627.35,133.43L1628.39,134.43L1629.4,135.46L1630.4,136.52L1631.37,137.6L1632.33,138.72L1633.26,139.86L1634.18,141.03L1635.09,142.21L1635.98,143.42L1636.86,144.64L1637.73,145.87L1638.6,147.12L1639.46,148.37L1640.32,149.63L1641.17,150.9L1642.03,152.16L1642.89,153.43L1643.76,154.69L1644.63,155.95L1645.51,157.2L1646.4,158.44L1647.3,159.66L1648.22,160.87L1649.16,162.06L1650.12,163.23L1651.1,164.37L1652.1,165.48L1653.14,166.57L1654.2,167.61L1655.3,168.62L1656.43,169.6L1657.6,170.52"/>
<path d="M625.29,565.8L626.82,565.81L628.34,565.79L629.86,565.74L631.38,565.66L632.9,565.56L634.41,565.43L635.92,565.27L637.42,565.09L638.92,564.88L640.42,564.64L641.91,564.38L643.39,564.1L644.87,563.78L646.35,563.45L647.81,563.09L649.27,562.7L650.72,562.29L652.17,561.86L653.6,561.4L655.03,560.92L656.45,560.42L657.86,559.89L659.26,559.34L660.65,558.77L662.04,558.18L663.41,557.57L664.77,556.94L666.13,556.28L667.47,555.61L668.81,554.91L670.13,554.2L671.45,553.47L672.75,552.71L674.04,551.94L675.32,551.15L676.59,550.34L677.85,549.52L679.09,548.67L680.32,547.81L681.54,546.94L682.75,546.04L683.95,545.13L685.13,544.2L686.3,543.26L687.46,542.3L688.6,541.33L689.73,540.34L690.84,539.34L691.95,538.32L693.03,537.29L694.1,536.25L695.16,535.19L696.2,534.12L697.23,533.04L698.25,531.94L699.25,530.83L700.23,529.71L701.2,528.58L702.16,527.44L703.11,526.29L704.04,525.13L704.97,523.95L705.88,522.77L706.78,521.58L707.67,520.38L708.54,519.17L709.41,517.95L710.27,516.73L711.12,515.49L711.96,514.25L712.79,513L713.61,511.75L714.42,510.49L715.23,509.22L716.03,507.95L716.82,506.67L717.61,505.38L718.38,504.1L719.16,502.8L719.92,501.5L720.68,500.2L721.44,498.9L722.19,497.59L722.94,496.28L723.68,494.97L724.42,493.65L725.16,492.33L725.89,491.01L726.62,489.69L727.35,488.37L728.08,487.05L728.8,485.73L729.53,484.41L730.25,483.08L730.97,481.76L731.7,480.44L732.42,479.11L733.14,477.79L733.87,476.47L734.59,475.14L735.32,473.82L736.04,472.5L736.77,471.17L737.51,469.85L738.24,468.53L738.98,467.21L739.72,465.89L740.47,464.57L741.21,463.25L741.97,461.93L742.73,460.62L743.49,459.3L744.26,457.98L745.03,456.67L745.81,455.36L746.6,454.05L747.39,452.74L748.19,451.43L748.99,450.13L749.8,448.84L750.62,447.54L751.44,446.25L752.27,444.97L753.11,443.69L753.96,442.41L754.81,441.15L755.68,439.89L756.55,438.63L757.42,437.38L758.31,436.14L759.2,434.91L760.11,433.69L761.02,432.47L761.94,431.27L762.87,430.07L763.81,428.88L764.76,427.71L765.72,426.54L766.69,425.39L767.66,424.24L768.65,423.11L769.65,421.99L770.66,420.88L771.68,419.79L772.72,418.71L773.76,417.64L774.81,416.59L775.88,415.55L776.95,414.52L778.04,413.51L779.14,412.52L780.26,411.54L781.38,410.58L782.52,409.64L783.67,408.71L784.83,407.8L786.01,406.91L787.2,406.04L788.4,405.18L789.62,404.35L790.84,403.53L792.09,402.73L793.35,401.96L794.62,401.2L795.9,400.47L797.2,399.76L798.52,399.07L799.84,398.4L801.19,397.76L802.54,397.14L803.91,396.55L805.3,395.98L806.7,395.43L808.11,394.92L809.54,394.43L810.98,393.97L812.44,393.53L813.91,393.13L815.39,392.75L816.9,392.4"/>
<path d="M625.3,624.91L626.8,624.89L628.3,624.85L629.79,624.78L631.29,624.69L632.78,624.57L634.28,624.43L635.77,624.26L637.26,624.07L638.75,623.86L640.23,623.62L641.72,623.36L643.2,623.07L644.68,622.76L646.15,622.43L647.63,622.08L649.09,621.71L650.56,621.32L652.02,620.9L653.47,620.46L654.92,620.01L656.37,619.53L657.81,619.04L659.24,618.52L660.67,617.99L662.1,617.43L663.51,616.86L664.93,616.27L666.33,615.67L667.73,615.04L669.12,614.4L670.5,613.74L671.87,613.07L673.24,612.38L674.6,611.67L675.95,610.95L677.29,610.21L678.62,609.46L679.95,608.69L681.26,607.91L682.56,607.11L683.86,606.3L685.14,605.48L686.41,604.64L687.67,603.79L688.91,602.92L690.13,602.04L691.33,601.13L692.52,600.21L693.67,599.27L694.81,598.3L695.91,597.32L696.99,596.31L698.04,595.28L699.06,594.23L700.04,593.15L700.99,592.05L701.9,590.91L702.77,589.76L703.61,588.57L704.4,587.36L705.14,586.11L705.85,584.84L706.51,583.54L707.13,582.21L707.72,580.86L708.27,579.49L708.79,578.09L709.28,576.68L709.75,575.25L710.19,573.8L710.6,572.34L711,570.87L711.38,569.38L711.74,567.89L712.09,566.39L712.43,564.89L712.76,563.38L713.09,561.86L713.41,560.35L713.73,558.84L714.05,557.33L714.37,555.83L714.7,554.33L715.03,552.84L715.38,551.36L715.73,549.89L716.09,548.42L716.46,546.97L716.83,545.51L717.21,544.07L717.59,542.62L717.97,541.19L718.35,539.75L718.73,538.31L719.11,536.88L719.48,535.44L719.85,534.01L720.22,532.57L720.58,531.13L720.93,529.69L721.27,528.24L721.6,526.78L721.93,525.33L722.24,523.87L722.55,522.4L722.84,520.93L723.13,519.46L723.41,517.98L723.69,516.5L723.95,515.01L724.21,513.53L724.46,512.04L724.7,510.55L724.94,509.05L725.17,507.56L725.4,506.06L725.61,504.56L725.83,503.06L726.03,501.56L726.23,500.05L726.43,498.55L726.62,497.05L726.81,495.54L726.99,494.04L727.16,492.53L727.34,491.03L727.5,489.52L727.67,488.02L727.83,486.52L727.99,485.01L728.14,483.51L728.3,482.01L728.44,480.51L728.59,479.01L728.73,477.51L728.87,476.02L729.01,474.52L729.14,473.02L729.28,471.52L729.41,470.03L729.53,468.53L729.66,467.04L729.78,465.54L729.91,464.05L730.03,462.55L730.15,461.06L730.26,459.57L730.38,458.08L730.5,456.58L730.61,455.09L730.72,453.6L730.84,452.11L730.95,450.62L731.06,449.13L731.17,447.64L731.28,446.15L731.39,444.66L731.5,443.17L731.61,441.68L731.72,440.19L731.83,438.7L731.94,437.21L732.05,435.72L732.17,434.23L732.28,432.74L732.39,431.26L732.51,429.77L732.62,428.28L732.74,426.79L732.86,425.3L732.98,423.81L733.1,422.33L733.22,420.84L733.35,419.35L733.48,417.86L733.61,416.37L733.74,414.88L733.87,413.39L734.01,411.91L734.15,410.42L734.29,408.93L734.43,407.44L734.58,405.95L734.73,404.46L734.88,402.97L735.04,401.48L735.2,399.99L735.36,398.5L735.53,397L735.7,395.51L735.88,394.02L736.05,392.53L736.24,391.04L736.42,389.54L736.62,388.05L736.81,386.56L737.01,385.06L737.22,383.57L737.43,382.07L737.64,380.58L737.86,379.08L738.09,377.58L738.32,376.08L738.56,374.59L738.8,373.09L739.05,371.59L739.3,370.09L739.56,368.59L739.82,367.09L740.1,365.59L740.37,364.08L740.66,362.58L740.95,361.08L741.25,359.57L741.55,358.07L741.87,356.57L742.19,355.07L742.52,353.57L742.86,352.07L743.21,350.58L743.56,349.08L743.93,347.59L744.31,346.11L744.7,344.63L745.1,343.15L745.52,341.67L745.94,340.21L746.38,338.74L746.83,337.28L747.29,335.83L747.77,334.39L748.26,332.95L748.76,331.52L749.28,330.09L749.82,328.68L750.37,327.27L750.94,325.87L751.52,324.48L752.12,323.1L752.73,321.73L753.36,320.37L754.01,319.03L754.68,317.69L755.37,316.36L756.08,315.04L756.8,313.74L757.54,312.45L758.31,311.17L759.09,309.91L759.9,308.66L760.72,307.42L761.57,306.2L762.44,304.99L763.33,303.8L764.25,302.62L765.18,301.46L766.14,300.32L767.12,299.19L768.12,298.08L769.14,296.99L770.18,295.92L771.24,294.87L772.32,293.84L773.42,292.83L774.54,291.84L775.67,290.87L776.83,289.92L778,289L779.19,288.1L780.4,287.23L781.63,286.37L782.87,285.55L784.13,284.75L785.4,283.97L786.7,283.22L788,282.5L789.32,281.81L790.66,281.15L792.01,280.51L793.38,279.9L794.76,279.33L796.15,278.78L797.56,278.27L798.98,277.79L800.41,277.34L801.86,276.92L803.32,276.53L804.78,276.18L806.26,275.87L807.75,275.58L809.25,275.33L810.76,275.1L812.26,274.89L813.77,274.7L815.28,274.53L816.79,274.37"/>
<path d="M625.3,565.81L626.8,565.79L628.3,565.76L629.8,565.72L631.3,565.67L632.8,565.62L634.3,565.55L635.79,565.47L637.29,565.39L638.79,565.29L640.28,565.19L641.78,565.08L643.27,564.96L644.77,564.83L646.26,564.69L647.75,564.55L649.24,564.4L650.74,564.24L652.23,564.07L653.72,563.9L655.21,563.72L656.7,563.54L658.19,563.35L659.68,563.15L661.16,562.95L662.65,562.74L664.14,562.53L665.63,562.31L667.11,562.09L668.6,561.86L670.09,561.63L671.57,561.4L673.06,561.16L674.54,560.91L676.03,560.67L677.51,560.42L679,560.16L680.48,559.91L681.97,559.65L683.45,559.39L684.93,559.12L686.42,558.86L687.9,558.59L689.39,558.32L690.87,558.05L692.35,557.78L693.83,557.51L695.32,557.24L696.8,556.96L698.28,556.69L699.77,556.42L701.25,556.15L702.73,555.88L704.21,555.61L705.7,555.34L707.18,555.07L708.66,554.8L710.14,554.54L711.63,554.28L713.11,554.02L714.59,553.76L716.08,553.51L717.56,553.25L719.04,553.01L720.53,552.76L722.01,552.52L723.49,552.29L724.98,552.05L726.46,551.83L727.95,551.6L729.43,551.39L730.92,551.17L732.4,550.97L733.89,550.76L735.37,550.57L736.86,550.38L738.35,550.2L739.83,550.02L741.32,549.85L742.81,549.69L744.29,549.53L745.78,549.38L747.27,549.24L748.76,549.1L750.25,548.96L751.74,548.83L753.23,548.71L754.72,548.58L756.21,548.46L757.7,548.34L759.19,548.22L760.67,548.11L762.16,547.99L763.65,547.88L765.14,547.76L766.63,547.64L768.12,547.53L769.61,547.41L771.1,547.29L772.59,547.16L774.08,547.03L775.57,546.9L777.06,546.77L778.55,546.63L780.03,546.49L781.52,546.34L783.01,546.18L784.49,546.02L785.98,545.86L787.47,545.68L788.95,545.51L790.44,545.32L791.92,545.14L793.41,544.94L794.89,544.74L796.38,544.54L797.86,544.33L799.35,544.12L800.83,543.9L802.31,543.68L803.8,543.46L805.28,543.23L806.76,542.99L808.24,542.75L809.73,542.51L811.21,542.27L812.69,542.02L814.17,541.76L815.65,541.51L817.13,541.25L818.61,540.98L820.09,540.72L821.57,540.45L823.05,540.17L824.53,539.9L826.01,539.62L827.49,539.34L828.97,539.05L830.45,538.77L831.93,538.48L833.41,538.19L834.89,537.9L836.37,537.6L837.84,537.3L839.32,537.01L840.8,536.7L842.28,536.4L843.76,536.1L845.23,535.79L846.71,535.49L848.19,535.18L849.67,534.87L851.15,534.56L852.62,534.25L854.1,533.94L855.58,533.63L857.05,533.32L858.53,533.01L860.01,532.69L861.49,532.38L862.96,532.07L864.44,531.75L865.92,531.44L867.39,531.13L868.87,530.82L870.35,530.5L871.82,530.19L873.3,529.88L874.78,529.57L876.25,529.26L877.73,528.95L879.21,528.65L880.69,528.34L882.16,528.03L883.64,527.73L885.12,527.43L886.59,527.13L888.07,526.83L889.55,526.53L891.03,526.24L892.5,525.95L893.98,525.65L895.46,525.37L896.94,525.08L898.41,524.8L899.89,524.51L901.37,524.24L902.85,523.96L904.33,523.69L905.8,523.42L907.28,523.15L908.76,522.89L910.24,522.63L911.72,522.37L913.2,522.11L914.68,521.86L916.16,521.62L917.64,521.38L919.12,521.14L920.59,520.9L922.07,520.67L923.56,520.45L925.04,520.23L926.52,520.01L928,519.8L929.48,519.59L930.96,519.38L932.44,519.19L933.92,518.99L935.4,518.8L936.89,518.62L938.37,518.44L939.85,518.27L941.34,518.1L942.82,517.94L944.3,517.79L945.79,517.64L947.27,517.5L948.75,517.36L950.24,517.23L951.72,517.1L953.21,516.98L954.7,516.87L956.18,516.77L957.67,516.67L959.15,516.57L960.64,516.49L962.13,516.41L963.62,516.34L965.1,516.28L966.59,516.22L968.08,516.17L969.57,516.13L971.06,516.1L972.55,516.07L974.04,516.05L975.53,516.04L977.02,516.04L978.51,516.04L980,516.06L981.5,516.08L982.99,516.11L984.48,516.15L985.97,516.19L987.47,516.25L988.96,516.31L990.45,516.38L991.94,516.46L993.44,516.55L994.93,516.64L996.42,516.74L997.91,516.85L999.4,516.97L1000.9,517.1L1002.39,517.23L1003.88,517.37L1005.37,517.52L1006.86,517.68L1008.35,517.85L1009.84,518.02L1011.33,518.21L1012.82,518.4L1014.3,518.59L1015.79,518.8L1017.28,519.02L1018.76,519.24L1020.25,519.47L1021.73,519.71L1023.21,519.95L1024.7,520.21L1026.18,520.47L1027.66,520.74L1029.14,521.01L1030.61,521.3L1032.09,521.59L1033.57,521.89L1035.04,522.2L1036.51,522.52L1037.99,522.85L1039.46,523.18L1040.93,523.52L1042.39,523.87L1043.86,524.23L1045.33,524.59L1046.79,524.96L1048.25,525.34L1049.71,525.73L1051.17,526.13L1052.63,526.53L1054.08,526.94L1055.54,527.36L1056.99,527.79L1058.44,528.23L1059.88,528.67L1061.33,529.12L1062.78,529.58L1064.22,530.05L1065.66,530.52L1067.1,531L1068.53,531.49L1069.96,531.99L1071.4,532.5L1072.82,533.01L1074.25,533.53L1075.68,534.06L1077.1,534.6L1078.52,535.14L1079.94,535.69L1081.35,536.26L1082.76,536.82L1084.17,537.4L1085.58,537.98L1086.98,538.57L1088.39,539.17L1089.78,539.78L1091.18,540.39L1092.57,541.02L1093.96,541.65L1095.35,542.28L1096.74,542.93L1098.12,543.58L1099.5,544.24L1100.87,544.91L1102.24,545.59L1103.61,546.28L1104.97,546.98L1106.31,547.69L1107.65,548.41L1108.96,549.15L1110.27,549.91L1111.55,550.68L1112.81,551.48L1114.04,552.29L1115.25,553.13L1116.43,553.99L1117.59,554.88L1118.7,555.8L1119.79,556.74L1120.83,557.71L1121.84,558.72L1122.8,559.76L1123.72,560.83L1124.6,561.93L1125.43,563.08L1126.21,564.25L1126.95,565.46L1127.65,566.71L1128.31,567.98L1128.94,569.27L1129.54,570.6L1130.1,571.95L1130.64,573.32L1131.15,574.71L1131.64,576.11L1132.1,577.54L1132.55,578.98L1132.99,580.43L1133.41,581.9L1133.82,583.38L1134.22,584.86L1134.62,586.35L1135.01,587.85L1135.4,589.34L1135.8,590.84L1136.19,592.34L1136.6,593.83L1137.01,595.33L1137.43,596.81L1137.87,598.29L1138.32,599.76L1138.8,601.21L1139.29,602.66L1139.81,604.08L1140.35,605.5L1140.92,606.89L1141.52,608.26L1142.16,609.62L1142.83,610.94L1143.54,612.25L1144.29,613.52L1145.08,614.77L1145.92,615.98L1146.8,617.17"/>
<path d="M625.3,565.8L626.8,565.8L628.29,565.8L629.78,565.8L631.27,565.79L632.77,565.79L634.26,565.78L635.76,565.76L637.25,565.75L638.75,565.73L640.24,565.72L641.74,565.7L643.23,565.67L644.73,565.65L646.22,565.62L647.72,565.59L649.22,565.56L650.71,565.53L652.21,565.49L653.71,565.45L655.21,565.42L656.7,565.38L658.2,565.33L659.7,565.29L661.2,565.24L662.7,565.19L664.2,565.14L665.7,565.09L667.2,565.04L668.69,564.98L670.19,564.93L671.69,564.87L673.19,564.81L674.7,564.75L676.2,564.69L677.7,564.62L679.2,564.56L680.7,564.49L682.2,564.42L683.7,564.35L685.2,564.28L686.7,564.21L688.21,564.13L689.71,564.06L691.21,563.98L692.71,563.9L694.22,563.83L695.72,563.75L697.22,563.67L698.72,563.58L700.23,563.5L701.73,563.42L703.23,563.33L704.74,563.24L706.24,563.16L707.74,563.07L709.25,562.98L710.75,562.89L712.25,562.8L713.76,562.71L715.26,562.62L716.76,562.52L718.27,562.43L719.77,562.33L721.28,562.24L722.78,562.14L724.28,562.05L725.79,561.95L727.29,561.85L728.8,561.75L730.3,561.66L731.8,561.56L733.31,561.46L734.81,561.36L736.32,561.26L737.82,561.16L739.33,561.06L740.83,560.95L742.33,560.85L743.84,560.75L745.34,560.65L746.85,560.55L748.35,560.44L749.85,560.34L751.36,560.24L752.86,560.14L754.37,560.03L755.87,559.93L757.37,559.83L758.88,559.72L760.38,559.62L761.88,559.52L763.39,559.42L764.89,559.31L766.39,559.21L767.9,559.11L769.4,559.01L770.9,558.91L772.4,558.8L773.91,558.7L775.41,558.6L776.91,558.5L778.41,558.4L779.92,558.3L781.42,558.2L782.92,558.1L784.42,558.01L785.92,557.91L787.43,557.81L788.93,557.71L790.43,557.62L791.93,557.52L793.43,557.43L794.93,557.34L796.43,557.24L797.93,557.15L799.43,557.06L800.93,556.97L802.43,556.88L803.93,556.79L805.43,556.7L806.93,556.61L808.43,556.53L809.93,556.44L811.42,556.36L812.92,556.27L814.42,556.19L815.92,556.11L817.42,556.03L818.91,555.95L820.41,555.87L821.91,555.8L823.4,555.72L824.9,555.65L826.4,555.58L827.89,555.5L829.39,555.43L830.88,555.37L832.38,555.3L833.87,555.23L835.36,555.17L836.86,555.11L838.35,555.04L839.85,554.98L841.34,554.93L842.83,554.87L844.32,554.81L845.82,554.76L847.31,554.71L848.8,554.66L850.29,554.61L851.78,554.56L853.27,554.52L854.76,554.47L856.25,554.43L857.74,554.39L859.23,554.35L860.72,554.31L862.21,554.27L863.7,554.24L865.19,554.2L866.68,554.17L868.17,554.14L869.66,554.11L871.15,554.08L872.64,554.06L874.13,554.03L875.61,554.01L877.1,553.99L878.59,553.97L880.08,553.95L881.57,553.93L883.06,553.91L884.55,553.9L886.04,553.89L887.52,553.87L889.01,553.86L890.5,553.86L891.99,553.85L893.48,553.84L894.97,553.84L896.46,553.83L897.95,553.83L899.44,553.83L900.93,553.83L902.42,553.83L903.91,553.84L905.4,553.84L906.89,553.85L908.38,553.85L909.87,553.86L911.36,553.87L912.85,553.88L914.34,553.9L915.83,553.91L917.32,553.93L918.82,553.94L920.31,553.96L921.8,553.98L923.3,554L924.79,554.02L926.28,554.05L927.78,554.07L929.27,554.1L930.77,554.12L932.26,554.15L933.76,554.18L935.25,554.21L936.75,554.24L938.25,554.28L939.74,554.31L941.24,554.35L942.74,554.39L944.24,554.42L945.74,554.46L947.24,554.5L948.74,554.55L950.24,554.59L951.74,554.63L953.24,554.68L954.74,554.73L956.25,554.77L957.75,554.82L959.25,554.87L960.76,554.92L962.26,554.98L963.77,555.03L965.28,555.09L966.78,555.14L968.29,555.2L969.8,555.26L971.31,555.32L972.82,555.38L974.33,555.44L975.84,555.5L977.35,555.57L978.87,555.63L980.38,555.7L981.9,555.76L983.41,555.83L984.93,555.9L986.44,555.97L987.96,556.04L989.48,556.12L991,556.19L992.52,556.26L994.04,556.34L995.56,556.42L997.08,556.5L998.61,556.57L1000.13,556.65L1001.66,556.74L1003.18,556.82L1004.71,556.9L1006.24,556.99L1007.77,557.07L1009.3,557.16L1010.83,557.24L1012.36,557.33L1013.89,557.42L1015.43,557.51L1016.96,557.6L1018.5,557.7L1020.03,557.79L1021.57,557.89L1023.1,558L1024.64,558.1L1026.17,558.21L1027.71,558.32L1029.24,558.44L1030.78,558.56L1032.31,558.68L1033.84,558.82L1035.37,558.95L1036.9,559.09L1038.42,559.24L1039.95,559.39L1041.47,559.55L1042.99,559.72L1044.51,559.9L1046.02,560.08L1047.54,560.27L1049.05,560.46L1050.55,560.67L1052.06,560.89L1053.56,561.11L1055.05,561.34L1056.55,561.58L1058.04,561.84L1059.52,562.1L1061,562.37L1062.48,562.66L1063.95,562.95L1065.42,563.26L1066.89,563.58L1068.34,563.91L1069.8,564.25L1071.24,564.61L1072.69,564.98L1074.12,565.36L1075.56,565.75L1076.98,566.16L1078.4,566.59L1079.81,567.02L1081.22,567.48L1082.62,567.94L1084.01,568.43L1085.4,568.93L1086.78,569.44L1088.15,569.97L1089.51,570.52L1090.87,571.09L1092.22,571.67L1093.56,572.27L1094.89,572.89L1096.21,573.52L1097.53,574.18L1098.84,574.85L1100.14,575.54L1101.43,576.26L1102.71,576.99L1103.98,577.74L1105.24,578.51L1106.49,579.3L1107.73,580.12L1108.97,580.95L1110.19,581.81L1111.39,582.69L1112.58,583.59L1113.75,584.51L1114.9,585.45L1116.04,586.42L1117.15,587.41L1118.23,588.43L1119.29,589.47L1120.33,590.53L1121.34,591.62L1122.31,592.73L1123.26,593.87L1124.17,595.03L1125.05,596.22L1125.89,597.44L1126.69,598.68L1127.46,599.95L1128.19,601.24L1128.88,602.55L1129.55,603.88L1130.18,605.24L1130.79,606.61L1131.37,608L1131.93,609.4L1132.47,610.82L1132.98,612.25L1133.48,613.69L1133.96,615.14L1134.43,616.6L1134.89,618.06L1135.33,619.53L1135.76,621.01L1136.19,622.48L1136.62,623.95L1137.04,625.43L1137.46,626.9L1137.89,628.36L1138.33,629.82L1138.78,631.26L1139.24,632.7L1139.73,634.13L1140.23,635.53L1140.76,636.93L1141.31,638.3L1141.9,639.65L1142.52,640.98L1143.18,642.29L1143.88,643.57L1144.62,644.82L1145.41,646.05L1146.25,647.24"/>
<path d="M625.31,565.8L626.79,565.79L628.3,565.8L629.81,565.83L631.34,565.9L632.88,565.98L634.42,566.1L635.97,566.25L637.52,566.42L639.08,566.63L640.63,566.86L642.17,567.13L643.71,567.43L645.24,567.76L646.76,568.13L648.27,568.52L649.76,568.96L651.23,569.43L652.68,569.93L654.11,570.48L655.52,571.06L656.89,571.68L658.24,572.33L659.56,573.03L660.84,573.77L662.09,574.55L663.29,575.37L664.46,576.23L665.59,577.14L666.68,578.08L667.74,579.06L668.76,580.08L669.74,581.13L670.7,582.21L671.62,583.33L672.51,584.47L673.38,585.65L674.21,586.85L675.02,588.08L675.8,589.33L676.56,590.61L677.3,591.91L678.01,593.23L678.71,594.56L679.38,595.92L680.04,597.29L680.68,598.67L681.31,600.07L681.92,601.48L682.51,602.9L683.1,604.33L683.67,605.76L684.24,607.21L684.79,608.65L685.34,610.1L685.89,611.55L686.42,613L686.96,614.45L687.49,615.9L688.02,617.34L688.55,618.79L689.07,620.23L689.6,621.67L690.12,623.11L690.65,624.54L691.17,625.98L691.7,627.4L692.23,628.83L692.76,630.25L693.3,631.67L693.84,633.08L694.38,634.49L694.93,635.9L695.48,637.3L696.04,638.69L696.61,640.08L697.19,641.46L697.77,642.84L698.36,644.21L698.96,645.58L699.57,646.94L700.19,648.29L700.82,649.64L701.46,650.98L702.11,652.31L702.78,653.63L703.46,654.95L704.15,656.25L704.86,657.55L705.58,658.84L706.32,660.13L707.07,661.4L707.84,662.66L708.63,663.92L709.43,665.16L710.26,666.4L711.1,667.62L711.96,668.83L712.84,670.04L713.74,671.23L714.67,672.41L715.61,673.58L716.58,674.74L717.57,675.88L718.58,677.02L719.62,678.14L720.68,679.25L721.77,680.34L722.87,681.41L724,682.47L725.14,683.5L726.31,684.51L727.49,685.5L728.69,686.46L729.91,687.4L731.14,688.3L732.39,689.18L733.65,690.02L734.93,690.82L736.21,691.59L737.51,692.32L738.82,693.01L740.14,693.67L741.48,694.38"/>
<path d="M625.3,624.91L626.8,624.89L628.31,624.87L629.82,624.85L631.33,624.85L632.85,624.86L634.37,624.88L635.88,624.92L637.4,624.98L638.92,625.06L640.43,625.17L641.94,625.31L643.45,625.48L644.96,625.68L646.45,625.91L647.95,626.19L649.44,626.5L650.91,626.87L652.39,627.27L653.85,627.72L655.3,628.22L656.74,628.75L658.16,629.33L659.57,629.95L660.96,630.6L662.34,631.3L663.69,632.03L665.03,632.8L666.34,633.6L667.63,634.43L668.9,635.3L670.14,636.2L671.35,637.13L672.53,638.09L673.69,639.08L674.81,640.1L675.9,641.14L676.96,642.21L677.98,643.3L678.96,644.41L679.91,645.55L680.81,646.7L681.68,647.88L682.51,649.08L683.29,650.29L684.04,651.53L684.76,652.78L685.43,654.05L686.08,655.33L686.69,656.63L687.26,657.95L687.81,659.28L688.33,660.63L688.81,661.99L689.27,663.37L689.71,664.75L690.11,666.15L690.49,667.57L690.85,668.99L691.19,670.43L691.5,671.87L691.79,673.33L692.07,674.8L692.33,676.27L692.56,677.75L692.79,679.25L693,680.75L693.19,682.25L693.37,683.76L693.54,685.28L693.7,686.81L693.85,688.34L694,689.87L694.13,691.41L694.26,692.95L694.38,694.49L694.5,696.04L694.62,697.59L694.73,699.14L694.85,700.69L694.96,702.24L695.07,703.79L695.19,705.35L695.3,706.9L695.42,708.45L695.54,710L695.66,711.56L695.78,713.11L695.91,714.66L696.04,716.2L696.17,717.75L696.31,719.3L696.45,720.84L696.6,722.38L696.75,723.93L696.91,725.46L697.07,727L697.24,728.53L697.42,730.06L697.6,731.59L697.79,733.11L697.99,734.63L698.2,736.15L698.41,737.66L698.64,739.17L698.87,740.68L699.11,742.18L699.37,743.67L699.63,745.17L699.91,746.65L700.19,748.13L700.49,749.61L700.8,751.08L701.12,752.54L701.46,754L701.8,755.46L702.16,756.9L702.54,758.34L702.93,759.77L703.33,761.2L703.75,762.62L704.19,764.03L704.64,765.44L705.1,766.83L705.59,768.22L706.09,769.6L706.6,770.98L707.14,772.34L707.69,773.7L708.26,775.04L708.85,776.38L709.46,777.71L710.09,779.03L710.74,780.34L711.41,781.64L712.1,782.93L712.81,784.21L713.54,785.48L714.29,786.74L715.07,787.98L715.87,789.22L716.69,790.45L717.54,791.66L718.4,792.87L719.3,794.06L720.21,795.24L721.16,796.41L722.12,797.56L723.12,798.7L724.14,799.84L725.18,800.95L726.25,802.06L727.35,803.15L728.48,804.22L729.63,805.26L730.81,806.27L732.02,807.25L733.26,808.19L734.52,809.08L735.81,809.93L737.13,810.72L738.47,811.44L739.85,812.11L741.25,812.7"/>
<path d="M625.28,565.82L626.82,565.76L628.36,565.74L629.9,565.74L631.45,565.79L633,565.86L634.54,565.97L636.08,566.12L637.62,566.3L639.15,566.51L640.67,566.76L642.19,567.04L643.69,567.36L645.18,567.72L646.66,568.11L648.12,568.53L649.57,568.99L650.99,569.49L652.4,570.02L653.78,570.59L655.15,571.19L656.48,571.83L657.79,572.51L659.08,573.23L660.33,573.98L661.55,574.76L662.74,575.59L663.9,576.45L665.02,577.35L666.11,578.28L667.17,579.25L668.2,580.25L669.2,581.28L670.17,582.34L671.1,583.44L672.01,584.55L672.89,585.7L673.75,586.87L674.57,588.07L675.37,589.29L676.15,590.53L676.9,591.79L677.62,593.07L678.33,594.37L679,595.69L679.66,597.03L680.3,598.38L680.91,599.74L681.5,601.12L682.07,602.51L682.63,603.91L683.16,605.32L683.68,606.74L684.18,608.16L684.67,609.59L685.13,611.03L685.58,612.47L686.02,613.91L686.44,615.36L686.85,616.81L687.25,618.26L687.63,619.71L688,621.16L688.35,622.62L688.69,624.08L689.02,625.54L689.34,627.01L689.64,628.47L689.93,629.94L690.21,631.41L690.48,632.88L690.74,634.35L690.99,635.83L691.23,637.3L691.46,638.78L691.67,640.26L691.88,641.74L692.08,643.23L692.27,644.71L692.45,646.2L692.62,647.69L692.79,649.18L692.94,650.67L693.09,652.16L693.23,653.65L693.37,655.15L693.49,656.64L693.61,658.14L693.73,659.64L693.83,661.14L693.93,662.63L694.03,664.14L694.12,665.64L694.21,667.14L694.29,668.64L694.36,670.15L694.44,671.65L694.5,673.16L694.57,674.66L694.63,676.17L694.69,677.68L694.74,679.19L694.79,680.69L694.84,682.2L694.89,683.71L694.93,685.22L694.98,686.73L695.02,688.24L695.06,689.75L695.1,691.26L695.15,692.77L695.19,694.28L695.23,695.79L695.27,697.3L695.31,698.81L695.35,700.32L695.39,701.83L695.44,703.34L695.48,704.85L695.53,706.36L695.58,707.87L695.64,709.38L695.69,710.89L695.75,712.4L695.81,713.9L695.88,715.41L695.95,716.91L696.02,718.42L696.1,719.92L696.18,721.43L696.27,722.93L696.36,724.43L696.46,725.93L696.56,727.43L696.67,728.93L696.79,730.43L696.91,731.93L697.04,733.42L697.17,734.92L697.3,736.41L697.45,737.91L697.59,739.4L697.75,740.89L697.9,742.38L698.07,743.87L698.23,745.36L698.4,746.85L698.58,748.34L698.76,749.83L698.94,751.31L699.13,752.8L699.32,754.29L699.51,755.77L699.71,757.25L699.91,758.74L700.12,760.22L700.33,761.7L700.54,763.19L700.75,764.67L700.97,766.15L701.19,767.63L701.41,769.11L701.63,770.59L701.86,772.07L702.09,773.55L702.32,775.02L702.55,776.5L702.79,777.98L703.03,779.46L703.26,780.93L703.5,782.41L703.74,783.89L703.99,785.36L704.23,786.84L704.47,788.32L704.72,789.79L704.96,791.27L705.21,792.74L705.46,794.22L705.7,795.69L705.95,797.17L706.2,798.64L706.45,800.12L706.69,801.59L706.94,803.07L707.19,804.54L707.43,806.02L707.68,807.49L707.92,808.97L708.16,810.44L708.41,811.92L708.65,813.39L708.89,814.87L709.12,816.34L709.36,817.82L709.6,819.29L709.83,820.77L710.06,822.25L710.29,823.72L710.52,825.2L710.74,826.68L710.97,828.16L711.19,829.63L711.4,831.11L711.62,832.59L711.83,834.07L712.04,835.55L712.24,837.03L712.45,838.51L712.64,839.99L712.84,841.47L713.03,842.96L713.22,844.44L713.4,845.92L713.58,847.4L713.76,848.89L713.93,850.37L714.1,851.86L714.26,853.35L714.42,854.83L714.57,856.32L714.72,857.81L714.86,859.3L715,860.79L715.13,862.28L715.26,863.77L715.38,865.26L715.5,866.75L715.61,868.25L715.71,869.74L715.81,871.24L715.9,872.73L715.99,874.23L716.07,875.73L716.15,877.23L716.22,878.73L716.28,880.23L716.34,881.73L716.4,883.23L716.45,884.73L716.49,886.24L716.53,887.74L716.57,889.24L716.6,890.75L716.62,892.25L716.65,893.76L716.67,895.27L716.68,896.77L716.69,898.28L716.7,899.79L716.7,901.3L716.7,902.81L716.7,904.32L716.69,905.83L716.68,907.34L716.67,908.85L716.65,910.36L716.63,911.87L716.61,913.38L716.58,914.89L716.56,916.4L716.53,917.92L716.5,919.43L716.47,920.94L716.43,922.45L716.39,923.97L716.35,925.48L716.31,926.99L716.27,928.5L716.23,930.02L716.19,931.53L716.14,933.04L716.09,934.55L716.05,936.07L716,937.58L715.95,939.09L715.9,940.6L715.85,942.12L715.8,943.63L715.75,945.14L715.7,946.65L715.65,948.16L715.6,949.67L715.55,951.18L715.5,952.69L715.45,954.2L715.4,955.71L715.36,957.22L715.31,958.73L715.27,960.24L715.22,961.75L715.18,963.26L715.14,964.76L715.1,966.27L715.06,967.78L715.02,969.28L714.99,970.79L714.96,972.29L714.93,973.79L714.9,975.3L714.87,976.8L714.85,978.3L714.83,979.8L714.81,981.3L714.79,982.8L714.78,984.3L714.77,985.8L714.77,987.3L714.76,988.79L714.76,990.29L714.77,991.78L714.78,993.27L714.79,994.77L714.8,996.26L714.82,997.75L714.85,999.24L714.88,1000.73L714.91,1002.22L714.94,1003.7L714.98,1005.19L715.03,1006.67L715.08,1008.16L715.13,1009.64L715.18,1011.12L715.24,1012.6L715.3,1014.09L715.37,1015.57L715.43,1017.05L715.5,1018.53L715.57,1020.01L715.65,1021.49L715.72,1022.97L715.8,1024.45L715.88,1025.93L715.96,1027.4L716.04,1028.88L716.13,1030.36L716.21,1031.84L716.3,1033.32L716.39,1034.8L716.47,1036.28L716.56,1037.76L716.65,1039.24L716.74,1040.73L716.83,1042.21L716.92,1043.69L717.01,1045.18L717.1,1046.66L717.18,1048.15L717.27,1049.63L717.36,1051.12L717.44,1052.61L717.53,1054.1L717.61,1055.59L717.69,1057.08L717.77,1058.57L717.85,1060.06L717.92,1061.56L718,1063.05L718.07,1064.55L718.14,1066.05L718.21,1067.55L718.27,1069.06L718.33,1070.56L718.39,1072.07L718.44,1073.57L718.49,1075.08L718.54,1076.6L718.58,1078.11L718.63,1079.63L718.66,1081.14L718.69,1082.66L718.72,1084.19L718.74,1085.71L718.76,1087.24L718.78,1088.77L718.79,1090.3L718.8,1091.83L718.81,1093.36L718.82,1094.9L718.83,1096.43L718.84,1097.97L718.85,1099.5L718.86,1101.04L718.87,1102.57L718.89,1104.11L718.91,1105.64L718.94,1107.18L718.97,1108.71L719,1110.24L719.04,1111.78L719.09,1113.3L719.15,1114.83L719.21,1116.36L719.28,1117.88L719.37,1119.4L719.46,1120.92L719.56,1122.43L719.67,1123.95L719.8,1125.45L719.94,1126.96L720.09,1128.46L720.25,1129.96L720.43,1131.45L720.63,1132.94L720.84,1134.42L721.06,1135.9L721.31,1137.37L721.57,1138.84L721.85,1140.3L722.15,1141.76L722.47,1143.21L722.8,1144.66L723.16,1146.09L723.54,1147.53L723.94,1148.95L724.37,1150.37L724.82,1151.78L725.29,1153.18L725.78,1154.57L726.29,1155.96L726.83,1157.33L727.39,1158.7L727.97,1160.05L728.57,1161.4L729.2,1162.74L729.84,1164.06L730.51,1165.37L731.2,1166.67L731.91,1167.96L732.65,1169.24L733.4,1170.5L734.18,1171.75L734.98,1172.99L735.79,1174.21L736.63,1175.42L737.49,1176.62L738.38,1177.79L739.28,1178.96L740.2,1180.1L741.15,1181.24L742.11,1182.35L743.09,1183.45L744.09,1184.54L745.11,1185.62L746.14,1186.68L747.19,1187.73L748.25,1188.77L749.33,1189.79L750.42,1190.81L751.52,1191.82L752.63,1192.82L753.75,1193.81L754.89,1194.79L756.03,1195.76L757.18,1196.73L758.33,1197.69L759.5,1198.65L760.67,1199.6L761.85,1200.54L763.03,1201.47L764.22,1202.4L765.42,1203.32L766.63,1204.24L767.84,1205.15L769.05,1206.05L770.28,1206.94L771.51,1207.83L772.74,1208.71L773.99,1209.58L775.23,1210.45L776.49,1211.31L777.75,1212.16L779.02,1213L780.29,1213.83L781.56,1214.66L782.85,1215.48L784.14,1216.29L785.43,1217.09L786.73,1217.88L788.03,1218.66L789.34,1219.44L790.66,1220.21L791.98,1220.97L793.3,1221.72L794.63,1222.46L795.96,1223.19L797.3,1223.91L798.64,1224.63L799.99,1225.33L801.35,1226.02L802.7,1226.71L804.06,1227.39L805.43,1228.05L806.8,1228.71L808.17,1229.35L809.55,1229.99L810.93,1230.62L812.31,1231.23L813.7,1231.84L815.1,1232.43L816.49,1233.02L817.89,1233.59L819.3,1234.15L820.7,1234.71L822.11,1235.25L823.53,1235.78L824.94,1236.3L826.36,1236.81L827.78,1237.3L829.21,1237.79L830.64,1238.26L832.07,1238.73L833.5,1239.18L834.94,1239.62L836.38,1240.04L837.82,1240.46L839.26,1240.86L840.71,1241.25L842.15,1241.63L843.6,1242L845.06,1242.35L846.51,1242.69L847.97,1243.02L849.42,1243.34L850.88,1243.64L852.34,1243.93L853.81,1244.21L855.27,1244.48L856.74,1244.73L858.2,1244.97L859.67,1245.19L861.14,1245.4L862.61,1245.6L864.08,1245.78L865.56,1245.95L867.03,1246.11L868.51,1246.26L869.98,1246.39L871.46,1246.51L872.94,1246.61L874.41,1246.71L875.89,1246.79L877.37,1246.86L878.85,1246.92L880.33,1246.96L881.82,1247L883.3,1247.02L884.78,1247.03L886.27,1247.03L887.75,1247.02L889.23,1247L890.72,1246.96L892.2,1246.92L893.69,1246.86L895.18,1246.79L896.66,1246.72L898.15,1246.63L899.63,1246.53L901.12,1246.43L902.61,1246.31L904.09,1246.18L905.58,1246.05L907.07,1245.9L908.55,1245.75L910.04,1245.58L911.53,1245.41L913.01,1245.22L914.5,1245.03L915.99,1244.83L917.47,1244.62L918.96,1244.41L920.44,1244.18L921.93,1243.95L923.41,1243.7L924.89,1243.45L926.38,1243.2L927.86,1242.93L929.34,1242.66L930.82,1242.38L932.3,1242.09L933.78,1241.8L935.26,1241.49L936.74,1241.18L938.22,1240.87L939.69,1240.55L941.17,1240.22L942.64,1239.88L944.12,1239.54L945.59,1239.2L947.06,1238.84L948.53,1238.48L950,1238.12L951.47,1237.75L952.94,1237.37L954.4,1236.99L955.87,1236.61L957.33,1236.22L958.79,1235.82L960.25,1235.42L961.71,1235.02L963.17,1234.61L964.62,1234.19L966.08,1233.77L967.53,1233.35L968.98,1232.93L970.43,1232.5L971.88,1232.06L973.32,1231.63L974.77,1231.18L976.21,1230.74L977.65,1230.29L979.09,1229.84L980.53,1229.39L981.96,1228.94L983.4,1228.48L984.83,1228.02L986.27,1227.55L987.7,1227.09L989.13,1226.62L990.55,1226.15L991.98,1225.68L993.41,1225.21L994.84,1224.74L996.26,1224.26L997.68,1223.79L999.11,1223.31L1000.53,1222.83L1001.95,1222.35L1003.37,1221.88L1004.79,1221.4L1006.22,1220.92L1007.64,1220.44L1009.05,1219.96L1010.47,1219.48L1011.89,1219L1013.31,1218.52L1014.73,1218.04L1016.15,1217.56L1017.57,1217.09L1018.99,1216.61L1020.41,1216.13L1021.83,1215.66L1023.25,1215.19L1024.66,1214.72L1026.08,1214.25L1027.51,1213.78L1028.93,1213.32L1030.35,1212.85L1031.77,1212.39L1033.19,1211.93L1034.62,1211.48L1036.04,1211.03L1037.46,1210.57L1038.89,1210.13L1040.32,1209.68L1041.74,1209.24L1043.17,1208.8L1044.6,1208.37L1046.03,1207.94L1047.46,1207.51L1048.9,1207.08L1050.33,1206.66L1051.76,1206.24L1053.2,1205.82L1054.63,1205.41L1056.07,1205L1057.51,1204.59L1058.95,1204.18L1060.38,1203.78L1061.82,1203.38L1063.27,1202.98L1064.71,1202.59L1066.15,1202.19L1067.59,1201.8L1069.04,1201.41L1070.48,1201.03L1071.93,1200.65L1073.37,1200.26L1074.82,1199.89L1076.27,1199.51L1077.71,1199.14L1079.16,1198.76L1080.61,1198.39L1082.06,1198.03L1083.51,1197.66L1084.96,1197.3L1086.42,1196.94L1087.87,1196.58L1089.32,1196.22L1090.78,1195.86L1092.23,1195.51L1093.69,1195.16L1095.14,1194.81L1096.6,1194.46L1098.05,1194.11L1099.51,1193.77L1100.97,1193.42L1102.43,1193.08L1103.89,1192.74L1105.34,1192.4L1106.8,1192.06L1108.26,1191.73L1109.72,1191.39L1111.19,1191.06L1112.65,1190.72L1114.11,1190.39L1115.57,1190.06L1117.03,1189.73L1118.5,1189.41L1119.96,1189.08L1121.43,1188.76L1122.89,1188.43L1124.35,1188.11L1125.82,1187.78L1127.28,1187.46L1128.75,1187.14L1130.22,1186.82L1131.68,1186.5L1133.15,1186.19L1134.62,1185.87L1136.08,1185.55L1137.55,1185.23L1139.02,1184.92L1140.48,1184.6L1141.95,1184.29L1143.42,1183.98L1144.89,1183.66L1146.36,1183.35L1147.83,1183.04L1149.3,1182.72L1150.77,1182.41L1152.23,1182.1L1153.7,1181.79L1155.17,1181.48L1156.64,1181.16L1158.11,1180.85L1159.58,1180.54L1161.05,1180.23L1162.52,1179.92L1163.99,1179.61L1165.46,1179.3L1166.93,1178.99L1168.4,1178.67L1169.87,1178.36L1171.34,1178.05L1172.81,1177.74L1174.29,1177.43L1175.76,1177.11L1177.23,1176.8L1178.7,1176.49L1180.17,1176.18L1181.64,1175.86L1183.11,1175.55L1184.58,1175.23L1186.05,1174.92L1187.52,1174.61L1188.99,1174.29L1190.46,1173.98L1191.93,1173.66L1193.4,1173.34L1194.87,1173.03L1196.34,1172.71L1197.81,1172.39L1199.28,1172.07L1200.75,1171.75L1202.21,1171.43L1203.68,1171.11L1205.15,1170.79L1206.62,1170.47L1208.09,1170.15L1209.56,1169.83L1211.03,1169.5L1212.49,1169.18L1213.96,1168.85L1215.43,1168.53L1216.9,1168.2L1218.36,1167.87L1219.83,1167.55L1221.3,1167.22L1222.76,1166.89L1224.23,1166.56L1225.7,1166.22L1227.16,1165.89L1228.63,1165.56L1230.09,1165.22L1231.56,1164.89L1233.02,1164.55L1234.48,1164.21L1235.95,1163.87L1237.41,1163.53L1238.87,1163.19L1240.34,1162.85L1241.8,1162.51L1243.26,1162.16L1244.72,1161.82L1246.19,1161.47L1247.65,1161.12L1249.11,1160.77L1250.57,1160.42L1252.03,1160.07L1253.49,1159.72L1254.95,1159.36L1256.4,1159.01L1257.86,1158.65L1259.32,1158.29L1260.78,1157.93L1262.23,1157.57L1263.69,1157.21L1265.15,1156.84L1266.6,1156.48L1268.06,1156.11L1269.51,1155.74L1270.96,1155.37L1272.42,1155L1273.87,1154.62L1275.32,1154.25L1276.77,1153.87L1278.22,1153.49L1279.68,1153.11L1281.13,1152.73L1282.57,1152.34L1284.02,1151.96L1285.47,1151.57L1286.92,1151.18L1288.37,1150.79L1289.81,1150.4L1291.26,1150L1292.7,1149.61L1294.15,1149.21L1295.59,1148.81L1297.04,1148.4L1298.48,1148L1299.92,1147.59L1301.36,1147.18L1302.8,1146.77L1304.24,1146.36L1305.68,1145.95L1307.12,1145.53L1308.56,1145.11L1310,1144.69L1311.43,1144.27L1312.87,1143.84L1314.3,1143.41L1315.74,1142.98L1317.17,1142.55L1318.6,1142.12L1320.03,1141.68L1321.47,1141.24L1322.9,1140.8L1324.33,1140.36L1325.75,1139.91L1327.18,1139.46L1328.61,1139.01L1330.04,1138.56L1331.46,1138.1L1332.89,1137.64L1334.31,1137.18L1335.73,1136.72L1337.15,1136.25L1338.57,1135.79L1339.99,1135.31L1341.41,1134.84L1342.83,1134.37L1344.25,1133.89L1345.67,1133.41L1347.08,1132.92L1348.5,1132.43L1349.91,1131.94L1351.32,1131.45L1352.73,1130.96L1354.15,1130.46L1355.56,1129.96L1356.96,1129.46L1358.37,1128.95L1359.78,1128.44L1361.19,1127.93L1362.59,1127.41L1363.99,1126.89L1365.4,1126.37L1366.8,1125.85L1368.2,1125.32L1369.6,1124.79L1371,1124.26L1372.4,1123.72L1373.79,1123.18L1375.19,1122.64L1376.58,1122.1L1377.98,1121.55L1379.37,1121L1380.76,1120.44L1382.15,1119.88L1383.54,1119.32L1384.92,1118.76L1386.31,1118.19L1387.7,1117.62L1389.08,1117.04L1390.46,1116.47L1391.85,1115.89L1393.23,1115.3L1394.61,1114.71L1395.98,1114.12L1397.36,1113.53L1398.74,1112.93L1400.11,1112.33L1401.48,1111.72L1402.86,1111.11L1404.23,1110.5L1405.6,1109.88L1406.97,1109.26L1408.33,1108.64L1409.7,1108.01L1411.06,1107.38L1412.43,1106.75L1413.79,1106.11L1415.15,1105.47L1416.51,1104.83L1417.86,1104.18L1419.22,1103.53L1420.57,1102.87L1421.93,1102.22L1423.28,1101.55L1424.63,1100.89L1425.98,1100.22L1427.32,1099.55L1428.67,1098.87L1430.01,1098.19L1431.35,1097.51L1432.69,1096.82L1434.03,1096.13L1435.37,1095.44L1436.7,1094.74L1438.04,1094.04L1439.37,1093.34L1440.7,1092.63L1442.03,1091.92L1443.35,1091.21L1444.68,1090.49L1446,1089.77L1447.32,1089.05L1448.64,1088.32L1449.95,1087.59L1451.27,1086.86L1452.58,1086.12L1453.89,1085.38L1455.2,1084.63L1456.5,1083.89L1457.81,1083.14L1459.11,1082.38L1460.41,1081.63L1461.71,1080.87L1463,1080.1L1464.3,1079.34L1465.59,1078.57L1466.87,1077.79L1468.16,1077.02L1469.45,1076.24L1470.73,1075.45L1472.01,1074.66L1473.28,1073.87L1474.56,1073.08L1475.83,1072.28L1477.1,1071.48L1478.37,1070.68L1479.63,1069.87L1480.89,1069.06L1482.15,1068.24L1483.41,1067.42L1484.66,1066.6L1485.91,1065.77L1487.16,1064.94L1488.4,1064.11L1489.64,1063.27L1490.88,1062.43L1492.12,1061.58L1493.35,1060.73L1494.58,1059.88L1495.81,1059.02L1497.03,1058.16L1498.25,1057.29L1499.47,1056.42L1500.68,1055.55L1501.89,1054.67L1503.1,1053.78L1504.31,1052.9L1505.51,1052.01L1506.71,1051.11L1507.9,1050.21L1509.09,1049.31L1510.28,1048.4L1511.46,1047.48L1512.64,1046.57L1513.82,1045.64L1514.99,1044.72L1516.16,1043.79L1517.32,1042.85L1518.49,1041.91L1519.64,1040.97L1520.8,1040.02L1521.95,1039.06L1523.09,1038.1L1524.24,1037.14L1525.37,1036.17L1526.51,1035.2L1527.64,1034.22L1528.77,1033.23L1529.89,1032.25L1531.01,1031.25L1532.12,1030.26L1533.23,1029.25L1534.33,1028.24L1535.44,1027.23L1536.53,1026.21L1537.62,1025.19L1538.71,1024.16L1539.8,1023.13L1540.88,1022.09L1541.95,1021.05L1543.02,1020L1544.09,1018.95L1545.15,1017.89L1546.21,1016.83L1547.27,1015.76L1548.32,1014.69L1549.36,1013.62L1550.41,1012.54L1551.44,1011.45L1552.48,1010.36L1553.51,1009.27L1554.53,1008.17L1555.55,1007.07L1556.57,1005.97L1557.58,1004.86L1558.59,1003.74L1559.59,1002.62L1560.59,1001.5L1561.59,1000.37L1562.58,999.24L1563.57,998.11L1564.55,996.97L1565.53,995.82L1566.51,994.68L1567.48,993.53L1568.44,992.37L1569.41,991.21L1570.37,990.05L1571.32,988.89L1572.27,987.72L1573.22,986.55L1574.16,985.37L1575.1,984.19L1576.03,983.01L1576.96,981.82L1577.89,980.63L1578.81,979.43L1579.73,978.24L1580.64,977.04L1581.55,975.83L1582.46,974.63L1583.36,973.42L1584.26,972.2L1585.15,970.99L1586.04,969.77L1586.93,968.54L1587.81,967.32L1588.69,966.09L1589.56,964.86L1590.43,963.62L1591.29,962.39L1592.16,961.15L1593.01,959.9L1593.87,958.66L1594.72,957.41L1595.56,956.16L1596.4,954.91L1597.24,953.65L1598.07,952.39L1598.9,951.13L1599.73,949.87L1600.55,948.6L1601.36,947.33L1602.17,946.06L1602.98,944.79L1603.78,943.51L1604.57,942.23L1605.35,940.94L1606.13,939.66L1606.9,938.36L1607.66,937.07L1608.42,935.77L1609.16,934.47L1609.9,933.17L1610.63,931.86L1611.34,930.54L1612.05,929.23L1612.75,927.91L1613.44,926.58L1614.11,925.25L1614.77,923.92L1615.43,922.58L1616.07,921.24L1616.69,919.89L1617.31,918.54L1617.91,917.19L1618.5,915.83L1619.07,914.46L1619.63,913.09L1620.18,911.71L1620.71,910.33L1621.22,908.95L1621.72,907.56L1622.21,906.16L1622.67,904.76L1623.12,903.35L1623.56,901.94L1623.97,900.52L1624.37,899.09L1624.75,897.66L1625.11,896.23L1625.45,894.78L1625.78,893.33L1626.08,891.88L1626.37,890.42L1626.64,888.95L1626.9,887.48L1627.14,886.01L1627.36,884.53L1627.57,883.05L1627.77,881.56L1627.95,880.07L1628.13,878.57L1628.29,877.07L1628.44,875.57L1628.58,874.07L1628.71,872.56L1628.83,871.06L1628.94,869.55L1629.05,868.03L1629.15,866.52L1629.24,865.01L1629.32,863.49L1629.41,861.98L1629.48,860.46L1629.56,858.94L1629.63,857.43L1629.7,855.91L1629.76,854.39L1629.83,852.88L1629.89,851.37L1629.96,849.85L1630.02,848.34L1630.08,846.83L1630.15,845.32L1630.21,843.81L1630.27,842.3L1630.33,840.8L1630.39,839.29L1630.45,837.78L1630.51,836.28L1630.57,834.78L1630.62,833.27L1630.68,831.77L1630.74,830.27L1630.79,828.76L1630.84,827.26L1630.9,825.76L1630.95,824.26L1631,822.76L1631.05,821.26L1631.1,819.76L1631.15,818.26L1631.2,816.77L1631.24,815.27L1631.29,813.77L1631.33,812.27L1631.37,810.77L1631.42,809.28L1631.46,807.78L1631.5,806.28L1631.54,804.79L1631.57,803.29L1631.61,801.79L1631.64,800.29L1631.68,798.8L1631.71,797.3L1631.74,795.8L1631.77,794.3L1631.8,792.8L1631.83,791.31L1631.85,789.81L1631.88,788.31L1631.9,786.81L1631.93,785.31L1631.95,783.82L1631.97,782.32L1631.99,780.82L1632.01,779.32L1632.02,777.82L1632.04,776.32L1632.05,774.82L1632.07,773.32L1632.08,771.83L1632.09,770.33L1632.1,768.83L1632.11,767.33L1632.12,765.83L1632.13,764.33L1632.14,762.83L1632.15,761.33L1632.15,759.83L1632.16,758.33L1632.16,756.83L1632.16,755.33L1632.16,753.83L1632.17,752.33L1632.17,750.83L1632.17,749.33L1632.17,747.83L1632.16,746.33L1632.16,744.83L1632.16,743.33L1632.15,741.83L1632.15,740.33L1632.14,738.83L1632.14,737.33L1632.13,735.83L1632.12,734.33L1632.11,732.83L1632.11,731.33L1632.1,729.83L1632.09,728.33L1632.08,726.83L1632.07,725.33L1632.05,723.83L1632.04,722.32L1632.03,720.82L1632.02,719.32L1632,717.82L1631.99,716.32L1631.97,714.82L1631.96,713.32L1631.94,711.82L1631.93,710.32L1631.91,708.82L1631.89,707.32L1631.88,705.82L1631.86,704.31L1631.84,702.81L1631.82,701.31L1631.81,699.81L1631.79,698.31L1631.77,696.81L1631.75,695.31L1631.73,693.81L1631.71,692.31L1631.69,690.81L1631.67,689.31L1631.65,687.81L1631.63,686.3L1631.61,684.8L1631.59,683.3L1631.57,681.8L1631.54,680.3L1631.52,678.8L1631.5,677.3L1631.48,675.8L1631.46,674.3L1631.44,672.8L1631.42,671.3L1631.39,669.8L1631.37,668.3L1631.35,666.8L1631.33,665.29L1631.31,663.79L1631.29,662.29L1631.27,660.79L1631.24,659.29L1631.22,657.79L1631.2,656.29L1631.18,654.79L1631.16,653.29L1631.14,651.79L1631.12,650.29L1631.1,648.79L1631.08,647.29L1631.06,645.79L1631.04,644.29L1631.02,642.79L1631,641.29L1630.98,639.79L1630.96,638.29L1630.94,636.79L1630.92,635.29L1630.9,633.79L1630.88,632.29L1630.87,630.79L1630.85,629.29L1630.83,627.8L1630.81,626.3L1630.79,624.8L1630.78,623.3L1630.76,621.8L1630.74,620.3L1630.73,618.8L1630.71,617.3L1630.69,615.8L1630.68,614.3L1630.66,612.8L1630.65,611.3L1630.63,609.8L1630.62,608.3L1630.6,606.81L1630.59,605.31L1630.57,603.81L1630.56,602.31L1630.54,600.81L1630.53,599.31L1630.52,597.81L1630.5,596.31L1630.49,594.81L1630.48,593.31L1630.46,591.82L1630.45,590.32L1630.44,588.82L1630.43,587.32L1630.42,585.82L1630.41,584.32L1630.39,582.82L1630.38,581.32L1630.37,579.82L1630.36,578.33L1630.35,576.83L1630.34,575.33L1630.33,573.83L1630.33,572.33L1630.32,570.83L1630.31,569.33L1630.3,567.84L1630.29,566.34L1630.28,564.84L1630.28,563.34L1630.27,561.84L1630.26,560.34L1630.26,558.84L1630.25,557.34L1630.24,555.85L1630.24,554.35L1630.23,552.85L1630.23,551.35L1630.22,549.85L1630.22,548.35L1630.22,546.85L1630.21,545.35L1630.21,543.86L1630.21,542.36L1630.2,540.86L1630.2,539.36L1630.2,537.86L1630.2,536.36L1630.2,534.86L1630.19,533.37L1630.19,531.87L1630.19,530.37L1630.19,528.87L1630.19,527.37L1630.19,525.87L1630.2,524.37L1630.2,522.87L1630.2,521.37L1630.2,519.88L1630.2,518.38L1630.21,516.88L1630.21,515.38L1630.21,513.88L1630.22,512.38L1630.22,510.88L1630.23,509.38L1630.23,507.88L1630.24,506.38L1630.24,504.89L1630.25,503.39L1630.26,501.89L1630.26,500.39L1630.27,498.89L1630.28,497.39L1630.29,495.89L1630.29,494.39L1630.3,492.89L1630.31,491.39L1630.32,489.89L1630.33,488.39L1630.34,486.89L1630.35,485.39L1630.37,483.9L1630.38,482.4L1630.39,480.9L1630.4,479.4L1630.42,477.9L1630.43,476.4L1630.44,474.9L1630.46,473.4L1630.47,471.9L1630.49,470.4L1630.5,468.9L1630.52,467.4L1630.54,465.9L1630.55,464.4L1630.57,462.9L1630.59,461.4L1630.61,459.9L1630.63,458.4L1630.64,456.9L1630.66,455.4L1630.68,453.9L1630.7,452.4L1630.73,450.9L1630.75,449.39L1630.77,447.89L1630.79,446.39L1630.82,444.89L1630.84,443.39L1630.86,441.89L1630.89,440.39L1630.91,438.89L1630.94,437.39L1630.96,435.89L1630.99,434.39L1631.02,432.88L1631.04,431.38L1631.07,429.88L1631.1,428.38L1631.13,426.88L1631.16,425.38L1631.19,423.88L1631.22,422.38L1631.25,420.87L1631.28,419.37L1631.31,417.87L1631.34,416.37L1631.38,414.87L1631.41,413.36L1631.44,411.86L1631.48,410.36L1631.51,408.86L1631.55,407.36L1631.59,405.85L1631.62,404.35L1631.66,402.85L1631.7,401.35L1631.74,399.84L1631.77,398.34L1631.81,396.84L1631.85,395.33L1631.89,393.83L1631.94,392.33L1631.98,390.83L1632.02,389.32L1632.06,387.82L1632.11,386.32L1632.15,384.81L1632.2,383.31L1632.24,381.81L1632.29,380.3L1632.34,378.8L1632.39,377.3L1632.45,375.79L1632.5,374.29L1632.56,372.79L1632.62,371.29L1632.67,369.78L1632.74,368.28L1632.8,366.78L1632.87,365.28L1632.93,363.78L1633,362.28L1633.08,360.78L1633.15,359.28L1633.23,357.78L1633.31,356.28L1633.4,354.78L1633.48,353.28L1633.57,351.78L1633.66,350.28L1633.76,348.78L1633.86,347.28L1633.96,345.79L1634.06,344.29L1634.17,342.8L1634.28,341.3L1634.4,339.8L1634.52,338.31L1634.64,336.82L1634.77,335.32L1634.9,333.83L1635.04,332.34L1635.18,330.85L1635.32,329.36L1635.47,327.87L1635.62,326.38L1635.78,324.89L1635.94,323.4L1636.11,321.91L1636.28,320.43L1636.46,318.94L1636.64,317.46L1636.83,315.97L1637.02,314.49L1637.21,313.01L1637.42,311.52L1637.63,310.04L1637.84,308.56L1638.06,307.08L1638.28,305.61L1638.51,304.13L1638.75,302.65L1638.99,301.18L1639.24,299.7L1639.49,298.23L1639.75,296.76L1640.02,295.29L1640.3,293.82L1640.58,292.35L1640.86,290.88L1641.16,289.41L1641.46,287.95L1641.76,286.48L1642.08,285.02L1642.4,283.56L1642.73,282.1L1643.06,280.64L1643.41,279.18L1643.76,277.73L1644.13,276.27L1644.5,274.83L1644.89,273.38L1645.29,271.94L1645.7,270.5L1646.12,269.07L1646.56,267.64L1647.01,266.21L1647.48,264.79L1647.96,263.38L1648.46,261.97L1648.97,260.56L1649.51,259.17L1650.06,257.78L1650.63,256.39L1651.21,255.02L1651.82,253.65L1652.45,252.29L1653.1,250.94L1653.77,249.59L1654.47,248.26"/>
<path d="M263.19,741.81L264.72,741.8L266.24,741.74L267.75,741.63L269.26,741.48L270.75,741.28L272.24,741.04L273.72,740.75L275.18,740.43L276.64,740.06L278.09,739.65L279.53,739.21L280.95,738.73L282.37,738.21L283.77,737.66L285.17,737.07L286.55,736.45L287.92,735.79L289.27,735.11L290.61,734.39L291.94,733.65L293.26,732.87L294.56,732.07L295.85,731.24L297.12,730.39L298.38,729.51L299.62,728.61L300.85,727.69L302.06,726.75L303.26,725.78L304.44,724.8L305.6,723.79L306.74,722.78L307.87,721.74L308.98,720.69L310.08,719.62L311.16,718.54L312.22,717.45L313.27,716.34L314.31,715.22L315.33,714.09L316.35,712.95L317.35,711.8L318.34,710.65L319.32,709.48L320.3,708.3L321.27,707.12L322.23,705.93L323.18,704.74L324.13,703.54L325.07,702.33L326.01,701.12L326.95,699.91L327.88,698.7L328.81,697.48L329.74,696.27L330.68,695.05L331.61,693.84L332.54,692.62L333.48,691.41L334.42,690.2L335.36,688.99L336.31,687.79L337.26,686.59L338.22,685.4L339.19,684.21L340.16,683.03L341.15,681.86L342.14,680.69L343.14,679.54L344.15,678.39L345.18,677.26L346.21,676.13L347.26,675.02L348.32,673.92L349.4,672.84L350.49,671.78L351.6,670.73L352.72,669.71L353.86,668.72L355.01,667.75L356.18,666.8L357.37,665.89L358.57,665.01L359.79,664.16L361.04,663.35L362.3,662.58L363.58,661.85L364.88,661.15L366.2,660.5L367.54,659.9L368.91,659.34L370.29,658.83L371.7,658.37L373.14,657.97L374.59,657.62L376.07,657.32L377.58,657.09L379.11,656.92"/>
<path d="M263.2,741.8L264.7,741.8L266.21,741.8L267.71,741.8L269.21,741.8L270.71,741.8L272.22,741.8L273.72,741.8L275.22,741.81L276.72,741.81L278.23,741.81L279.73,741.81L281.23,741.81L282.73,741.81L284.24,741.82L285.74,741.82L287.24,741.82L288.74,741.82L290.25,741.83L291.75,741.83L293.25,741.83L294.75,741.84L296.26,741.84L297.76,741.84L299.26,741.85L300.76,741.85L302.27,741.85L303.77,741.86L305.27,741.86L306.78,741.86L308.28,741.87L309.78,741.87L311.28,741.88L312.79,741.88L314.29,741.88L315.79,741.89L317.29,741.89L318.8,741.9L320.3,741.9L321.8,741.9L323.3,741.91L324.81,741.91L326.31,741.92L327.81,741.92L329.31,741.92L330.82,741.93L332.32,741.93L333.82,741.93L335.32,741.94L336.83,741.94L338.33,741.95L339.83,741.95L341.34,741.95L342.84,741.96L344.34,741.96L345.84,741.96L347.35,741.97L348.85,741.97L350.35,741.97L351.85,741.97L353.36,741.98L354.86,741.98L356.36,741.98L357.86,741.98L359.37,741.99L360.87,741.99L362.37,741.99L363.87,741.99L365.38,741.99L366.88,742L368.38,742L369.88,742L371.39,742L372.89,742L374.39,742L375.89,742L377.4,742L378.9,742"/>
<path d="M263.19,741.79L264.72,741.83L266.26,741.82L267.8,741.77L269.34,741.66L270.87,741.51L272.4,741.3L273.92,741.06L275.43,740.76L276.92,740.42L278.4,740.03L279.86,739.59L281.3,739.11L282.72,738.58L284.11,738.01L285.47,737.39L286.81,736.73L288.11,736.02L289.38,735.27L290.61,734.48L291.8,733.64L292.96,732.76L294.06,731.84L295.13,730.87L296.14,729.87L297.1,728.82L298.02,727.73L298.88,726.6L299.69,725.44L300.46,724.24L301.18,723.01L301.85,721.74L302.48,720.45L303.07,719.12L303.61,717.77L304.12,716.39L304.58,714.99L305.01,713.57L305.41,712.13L305.76,710.67L306.09,709.19L306.38,707.69L306.64,706.19L306.87,704.67L307.07,703.14L307.24,701.6L307.39,700.06L307.51,698.51L307.61,696.96L307.68,695.41L307.73,693.85L307.77,692.3L307.78,690.75L307.78,689.21L307.76,687.67L307.72,686.14L307.67,684.61L307.6,683.09L307.52,681.58L307.42,680.07L307.31,678.56L307.18,677.06L307.05,675.56L306.89,674.07L306.73,672.58L306.55,671.1L306.36,669.62L306.16,668.14L305.95,666.66L305.73,665.19L305.49,663.73L305.25,662.26L305,660.8L304.74,659.34L304.47,657.88L304.19,656.42L303.91,654.97L303.62,653.52L303.32,652.06L303.01,650.61L302.7,649.16L302.38,647.72L302.06,646.27L301.73,644.82L301.4,643.38L301.06,641.93L300.72,640.48L300.38,639.04L300.03,637.59L299.68,636.14L299.33,634.69L298.98,633.24L298.63,631.79L298.28,630.34L297.92,628.88L297.57,627.43L297.21,625.97L296.86,624.51L296.51,623.05L296.16,621.58L295.81,620.12L295.47,618.65L295.12,617.17L294.79,615.7L294.45,614.22L294.12,612.74L293.79,611.25L293.47,609.76L293.16,608.26L292.85,606.76L292.54,605.26L292.24,603.75L291.95,602.23L291.67,600.72L291.4,599.19L291.13,597.66L290.87,596.13L290.62,594.6L290.39,593.06L290.16,591.52L289.94,589.98L289.74,588.44L289.54,586.89L289.36,585.34L289.19,583.8L289.04,582.25L288.9,580.7L288.77,579.16L288.66,577.61L288.56,576.07L288.48,574.52L288.42,572.98L288.37,571.44L288.34,569.91L288.33,568.38L288.33,566.85L288.36,565.33L288.4,563.81L288.47,562.29L288.55,560.78L288.66,559.28L288.78,557.78L288.93,556.29L289.1,554.81L289.29,553.33L289.51,551.86L289.75,550.4L290.01,548.94L290.3,547.5L290.61,546.06L290.95,544.64L291.32,543.22L291.71,541.82L292.13,540.42L292.58,539.04L293.05,537.67L293.56,536.31L294.09,534.96L294.65,533.62L295.24,532.3L295.86,530.99L296.51,529.69L297.19,528.41L297.89,527.14L298.62,525.88L299.37,524.64L300.15,523.41L300.96,522.19L301.79,520.98L302.65,519.79L303.52,518.61L304.43,517.45L305.35,516.3L306.3,515.16L307.26,514.04L308.25,512.93L309.26,511.84L310.29,510.76L311.34,509.69L312.41,508.64L313.49,507.6L314.6,506.58L315.72,505.57L316.86,504.57L318.02,503.59L319.19,502.62L320.38,501.67L321.58,500.74L322.8,499.81L324.03,498.91L325.27,498.02L326.53,497.14L327.8,496.28L329.08,495.43L330.38,494.6L331.68,493.78L333,492.98L334.33,492.2L335.66,491.43L337.01,490.68L338.36,489.94L339.72,489.22L341.09,488.51L342.46,487.82L343.85,487.14L345.23,486.48L346.63,485.84L348.03,485.22L349.43,484.61L350.84,484.01L352.25,483.43L353.67,482.87L355.08,482.33L356.51,481.8L357.93,481.28L359.36,480.78L360.8,480.29L362.23,479.82L363.67,479.36L365.11,478.92L366.56,478.48L368.01,478.07L369.46,477.66L370.91,477.27L372.37,476.89L373.83,476.52L375.29,476.16L376.75,475.81L378.22,475.48L379.69,475.15L381.16,474.84L382.63,474.54L384.1,474.24L385.58,473.96L387.06,473.69L388.54,473.42L390.02,473.16L391.5,472.92L392.99,472.68L394.47,472.44L395.96,472.22L397.45,472L398.94,471.79L400.43,471.59L401.92,471.4L403.41,471.21L404.9,471.02L406.4,470.84L407.89,470.67L409.39,470.51L410.88,470.34L412.38,470.19L413.87,470.03L415.37,469.88L416.87,469.74L418.36,469.6L419.86,469.46L421.36,469.33L422.85,469.2L424.35,469.08L425.85,468.96L427.35,468.84L428.84,468.73L430.34,468.62L431.84,468.51L433.34,468.41L434.84,468.32L436.34,468.23L437.84,468.14L439.34,468.05L440.84,467.97L442.34,467.89L443.84,467.82L445.34,467.75L446.84,467.68L448.34,467.62L449.84,467.56L451.34,467.5L452.84,467.45L454.34,467.4L455.84,467.35L457.34,467.31L458.84,467.27L460.34,467.23L461.84,467.2L463.34,467.17L464.85,467.14L466.35,467.12L467.85,467.1L469.35,467.08L470.85,467.07L472.35,467.06L473.86,467.05L475.36,467.04L476.86,467.04L478.36,467.04L479.87,467.05L481.37,467.05L482.87,467.06L484.37,467.07L485.87,467.09L487.38,467.1L488.88,467.12L490.38,467.15L491.88,467.17L493.39,467.2L494.89,467.23L496.39,467.26L497.89,467.3L499.4,467.34L500.9,467.38L502.4,467.42L503.9,467.46L505.4,467.51L506.91,467.56L508.41,467.61L509.91,467.66L511.41,467.72L512.91,467.78L514.42,467.84L515.92,467.9L517.42,467.96L518.92,468.03L520.42,468.1L521.93,468.17L523.43,468.24L524.93,468.32L526.43,468.39L527.93,468.47L529.43,468.55L530.93,468.63L532.43,468.71L533.93,468.8L535.43,468.88L536.94,468.97L538.44,469.06L539.94,469.15L541.44,469.24L542.94,469.34L544.44,469.43L545.94,469.53L547.43,469.63L548.93,469.72L550.43,469.83L551.93,469.93L553.43,470.03L554.93,470.13L556.43,470.24L557.93,470.35L559.42,470.46L560.92,470.56L562.42,470.68L563.92,470.79L565.42,470.9L566.91,471.01L568.41,471.13L569.91,471.25L571.4,471.36L572.9,471.48L574.4,471.6L575.89,471.72L577.39,471.84L578.89,471.97L580.38,472.09L581.88,472.22L583.37,472.34L584.87,472.47L586.36,472.6L587.86,472.73L589.36,472.86L590.85,472.99L592.35,473.12L593.84,473.25L595.34,473.39L596.83,473.52L598.32,473.66L599.82,473.79L601.31,473.93L602.81,474.07L604.3,474.21L605.8,474.35L607.29,474.49L608.78,474.63L610.28,474.77L611.77,474.92L613.26,475.06L614.76,475.21L616.25,475.35L617.74,475.5L619.24,475.65L620.73,475.8L622.22,475.94L623.71,476.09L625.21,476.24L626.7,476.4L628.19,476.55L629.68,476.7L631.18,476.85L632.67,477.01L634.16,477.16L635.65,477.31L637.15,477.47L638.64,477.63L640.13,477.78L641.62,477.94L643.11,478.1L644.6,478.26L646.1,478.42L647.59,478.57L649.08,478.73L650.57,478.9L652.06,479.06L653.55,479.22L655.04,479.38L656.54,479.54L658.03,479.7L659.52,479.87L661.01,480.03L662.5,480.2L663.99,480.36L665.48,480.52L666.97,480.69L668.46,480.86L669.95,481.02L671.45,481.19L672.94,481.35L674.43,481.52L675.92,481.69L677.41,481.86L678.9,482.02L680.39,482.19L681.88,482.36L683.37,482.53L684.86,482.7L686.35,482.87L687.84,483.04L689.33,483.21L690.82,483.38L692.31,483.55L693.8,483.72L695.3,483.89L696.79,484.06L698.28,484.23L699.77,484.4L701.26,484.57L702.75,484.74L704.24,484.91L705.73,485.08L707.22,485.25L708.71,485.42L710.2,485.59L711.69,485.76L713.18,485.94L714.67,486.11L716.16,486.28L717.65,486.45L719.14,486.62L720.63,486.79L722.13,486.96L723.62,487.13L725.11,487.3L726.6,487.47L728.09,487.64L729.58,487.81L731.07,487.98L732.56,488.16L734.05,488.33L735.54,488.5L737.03,488.66L738.52,488.83L740.02,489L741.51,489.17L743,489.34L744.49,489.51L745.98,489.68L747.47,489.85L748.96,490.01L750.46,490.18L751.95,490.35L753.44,490.52L754.93,490.68L756.42,490.85L757.91,491.02L759.41,491.18L760.9,491.35L762.39,491.51L763.88,491.68L765.37,491.84L766.87,492L768.36,492.17L769.85,492.33L771.34,492.49L772.84,492.65L774.33,492.82L775.82,492.98L777.31,493.14L778.81,493.3L780.3,493.46L781.79,493.62L783.29,493.77L784.78,493.93L786.27,494.09L787.77,494.25L789.26,494.4L790.75,494.56L792.25,494.71L793.74,494.87L795.23,495.02L796.73,495.17L798.22,495.33L799.72,495.48L801.21,495.63L802.71,495.78L804.2,495.93L805.7,496.08L807.19,496.22L808.69,496.37L810.18,496.52L811.68,496.67L813.17,496.81L814.67,496.95L816.16,497.1L817.66,497.24L819.16,497.38L820.65,497.52L822.15,497.66L823.64,497.8L825.14,497.94L826.64,498.08L828.13,498.22L829.63,498.35L831.13,498.49L832.63,498.62L834.12,498.75L835.62,498.89L837.12,499.02L838.62,499.15L840.11,499.28L841.61,499.4L843.11,499.53L844.61,499.66L846.11,499.78L847.61,499.91L849.11,500.03L850.61,500.15L852.1,500.27L853.6,500.39L855.1,500.51L856.6,500.63L858.1,500.74L859.6,500.86L861.1,500.97L862.6,501.09L864.1,501.2L865.61,501.31L867.11,501.42L868.61,501.52L870.11,501.63L871.61,501.73L873.11,501.84L874.61,501.94L876.11,502.04L877.61,502.14L879.11,502.23L880.62,502.33L882.12,502.42L883.62,502.52L885.12,502.61L886.62,502.7L888.12,502.79L889.62,502.87L891.13,502.96L892.63,503.04L894.13,503.12L895.63,503.2L897.13,503.28L898.64,503.35L900.14,503.43L901.64,503.5L903.14,503.57L904.64,503.64L906.14,503.71L907.65,503.78L909.15,503.84L910.65,503.9L912.15,503.96L913.65,504.02L915.16,504.07L916.66,504.13L918.16,504.18L919.66,504.23L921.16,504.28L922.66,504.32L924.16,504.37L925.67,504.41L927.17,504.45L928.67,504.49L930.17,504.52L931.67,504.55L933.17,504.59L934.67,504.61L936.17,504.64L937.67,504.67L939.18,504.69L940.68,504.71L942.18,504.72L943.68,504.74L945.18,504.75L946.68,504.76L948.18,504.77L949.68,504.78L951.18,504.78L952.68,504.78L954.18,504.78L955.67,504.77L957.17,504.77L958.67,504.76L960.17,504.75L961.67,504.73L963.17,504.71L964.67,504.69L966.16,504.67L967.66,504.65L969.16,504.62L970.66,504.59L972.16,504.56L973.65,504.52L975.15,504.48L976.65,504.44L978.14,504.4L979.64,504.35L981.14,504.3L982.63,504.25L984.13,504.19L985.62,504.13L987.12,504.07L988.61,504.01L990.11,503.94L991.6,503.87L993.1,503.8L994.59,503.72L996.08,503.64L997.58,503.56L999.07,503.48L1000.56,503.39L1002.06,503.3L1003.55,503.2L1005.04,503.1L1006.53,503L1008.02,502.9L1009.51,502.78L1011,502.67L1012.49,502.55L1013.98,502.42L1015.47,502.29L1016.96,502.15L1018.45,502.01L1019.93,501.86L1021.42,501.71L1022.9,501.54L1024.39,501.37L1025.87,501.2L1027.35,501.01L1028.84,500.82L1030.32,500.62L1031.8,500.41L1033.28,500.19L1034.75,499.96L1036.23,499.72L1037.71,499.47L1039.18,499.22L1040.65,498.95L1042.13,498.67L1043.6,498.38L1045.07,498.08L1046.54,497.77L1048,497.45L1049.47,497.12L1050.93,496.77L1052.39,496.41L1053.86,496.04L1055.32,495.66L1056.77,495.26L1058.23,494.85L1059.69,494.42L1061.14,493.99L1062.59,493.53L1064.04,493.07L1065.49,492.58L1066.93,492.09L1068.37,491.58L1069.81,491.05L1071.24,490.51L1072.67,489.95L1074.1,489.38L1075.51,488.8L1076.92,488.2L1078.33,487.58L1079.73,486.95L1081.12,486.31L1082.5,485.65L1083.88,484.98L1085.24,484.29L1086.6,483.58L1087.95,482.86L1089.28,482.12L1090.61,481.37L1091.92,480.6L1093.23,479.82L1094.52,479.02L1095.8,478.21L1097.06,477.38L1098.32,476.54L1099.56,475.68L1100.78,474.8L1101.99,473.91L1103.19,473L1104.37,472.08L1105.53,471.14L1106.68,470.18L1107.81,469.21L1108.92,468.22L1110.01,467.22L1111.09,466.2L1112.15,465.17L1113.18,464.11L1114.2,463.04L1115.2,461.96L1116.18,460.86L1117.13,459.74L1118.07,458.6L1118.98,457.45L1119.87,456.29L1120.74,455.1L1121.58,453.9L1122.4,452.68L1123.2,451.45L1123.97,450.2L1124.72,448.93L1125.44,447.64L1126.13,446.34L1126.8,445.02L1127.44,443.69L1128.05,442.33L1128.64,440.96L1129.2,439.58L1129.73,438.17L1130.24,436.76L1130.71,435.33L1131.17,433.89L1131.59,432.44L1131.99,430.98L1132.37,429.51L1132.72,428.03L1133.05,426.55L1133.35,425.06L1133.63,423.56L1133.89,422.06L1134.12,420.55L1134.33,419.05L1134.52,417.54L1134.68,416.03L1134.82,414.52L1134.94,413.01L1135.04,411.51L1135.12,410L1135.18,408.51L1135.22,407.01L1135.24,405.52L1135.24,404.03L1135.23,402.55L1135.2,401.07L1135.15,399.59L1135.09,398.11L1135.01,396.63L1134.92,395.15L1134.82,393.67L1134.71,392.2L1134.58,390.72L1134.45,389.24L1134.31,387.76L1134.15,386.28L1134,384.8L1133.83,383.32L1133.66,381.83L1133.49,380.34L1133.31,378.85L1133.13,377.35L1132.94,375.86L1132.76,374.35L1132.57,372.84L1132.38,371.33L1132.2,369.81L1132.01,368.29L1131.83,366.76L1131.66,365.22L1131.48,363.68L1131.32,362.13L1131.15,360.57L1131,359.01L1130.85,357.44L1130.71,355.85L1130.58,354.26L1130.46,352.67L1130.36,351.07L1130.27,349.46L1130.2,347.86L1130.15,346.26L1130.12,344.66L1130.11,343.06L1130.13,341.48L1130.18,339.9L1130.26,338.33L1130.36,336.78L1130.51,335.23L1130.68,333.71L1130.9,332.21L1131.16,330.72L1131.45,329.26L1131.79,327.82L1132.18,326.41L1132.62,325.03L1133.1,323.67L1133.64,322.35L1134.23,321.06L1134.87,319.81L1135.58,318.6L1136.34,317.42L1137.17,316.29L1138.06,315.2L1139.02,314.15L1140.04,313.16L1141.14,312.21L1142.3,311.31L1143.54,310.47L1144.86,309.68"/>
<path d="M263.2,741.8L264.7,741.83L266.2,741.78L267.72,741.66L269.24,741.48L270.77,741.26L272.31,741.01L273.84,740.74L275.38,740.46L276.92,740.19L278.45,739.93L279.98,739.71L281.5,739.53L283.01,739.41L284.51,739.36L286,739.39L287.47,739.51L288.93,739.73L290.37,740.06L291.79,740.48L293.19,740.99L294.56,741.59L295.9,742.27L297.22,743.03L298.5,743.86L299.75,744.76L300.97,745.72L302.15,746.73L303.28,747.8L304.38,748.91L305.43,750.06L306.44,751.25L307.4,752.47L308.31,753.72L309.17,754.99L309.97,756.28L310.72,757.58L311.42,758.9L312.07,760.23L312.67,761.58L313.22,762.94L313.73,764.32L314.19,765.71L314.61,767.11L314.98,768.52L315.32,769.95L315.61,771.38L315.87,772.83L316.09,774.29L316.27,775.75L316.42,777.23L316.54,778.71L316.62,780.2L316.68,781.7L316.7,783.21L316.7,784.72L316.67,786.24L316.62,787.76L316.54,789.29L316.44,790.82L316.32,792.36L316.18,793.9L316.02,795.44L315.84,796.98L315.65,798.53L315.44,800.07L315.22,801.62L314.98,803.17L314.74,804.71L314.48,806.26L314.22,807.8L313.95,809.35L313.68,810.88L313.4,812.42L313.12,813.95L312.83,815.48L312.55,817L312.27,818.52L311.98,820.04L311.7,821.55L311.42,823.05L311.13,824.56L310.85,826.05L310.56,827.55L310.27,829.04L309.99,830.52L309.7,832L309.41,833.48L309.12,834.96L308.83,836.43L308.54,837.9L308.25,839.37L307.96,840.83L307.66,842.3L307.37,843.76L307.07,845.21L306.77,846.67L306.48,848.12L306.18,849.57L305.87,851.02L305.57,852.47L305.27,853.91L304.96,855.36L304.65,856.8L304.34,858.24L304.03,859.68L303.71,861.12L303.4,862.56L303.08,864L302.76,865.44L302.44,866.88L302.11,868.31L301.79,869.75L301.46,871.19L301.13,872.63L300.79,874.06L300.46,875.5L300.12,876.94L299.78,878.38L299.43,879.82L299.09,881.26L298.74,882.7L298.39,884.15L298.03,885.59L297.68,887.03L297.32,888.48L296.96,889.93L296.61,891.37L296.25,892.82L295.89,894.27L295.53,895.72L295.17,897.17L294.81,898.63L294.45,900.08L294.09,901.53L293.74,902.99L293.38,904.45L293.03,905.9L292.68,907.36L292.33,908.82L291.98,910.28L291.64,911.74L291.3,913.21L290.96,914.67L290.62,916.13L290.29,917.6L289.97,919.07L289.65,920.53L289.33,922L289.02,923.47L288.71,924.94L288.41,926.42L288.11,927.89L287.82,929.37L287.53,930.84L287.26,932.32L286.98,933.8L286.72,935.27L286.46,936.75L286.21,938.24L285.97,939.72L285.73,941.2L285.51,942.69L285.29,944.17L285.08,945.66L284.88,947.15L284.69,948.64L284.51,950.13L284.34,951.62L284.17,953.11L284.02,954.61L283.88,956.11L283.75,957.6L283.63,959.1L283.52,960.6L283.43,962.1L283.34,963.6L283.27,965.11L283.21,966.61L283.16,968.12L283.13,969.62L283.11,971.13L283.1,972.64L283.11,974.15L283.12,975.67L283.16,977.18L283.21,978.69L283.27,980.21L283.35,981.73L283.44,983.24L283.55,984.76L283.67,986.27L283.81,987.79L283.97,989.3L284.15,990.81L284.34,992.32L284.55,993.83L284.77,995.33L285.02,996.83L285.28,998.33L285.56,999.82L285.86,1001.31L286.18,1002.8L286.52,1004.28L286.88,1005.75L287.26,1007.22L287.66,1008.69L288.08,1010.14L288.52,1011.59L288.98,1013.04L289.47,1014.48L289.97,1015.9L290.5,1017.33L291.05,1018.74L291.63,1020.14L292.22,1021.54L292.84,1022.92L293.48,1024.3L294.15,1025.66L294.83,1027.01L295.54,1028.35L296.27,1029.67L297.03,1030.98L297.8,1032.28L298.6,1033.56L299.42,1034.82L300.26,1036.07L301.13,1037.3L302.02,1038.51L302.93,1039.71L303.86,1040.88L304.81,1042.03L305.79,1043.17L306.79,1044.28L307.81,1045.37L308.85,1046.44L309.92,1047.49L311,1048.51L312.11,1049.5L313.24,1050.48L314.39,1051.42L315.57,1052.34L316.76,1053.24L317.97,1054.11L319.21,1054.96L320.46,1055.79L321.72,1056.6L323.01,1057.38L324.31,1058.14L325.62,1058.88L326.95,1059.6L328.29,1060.3L329.64,1060.98L331.01,1061.65L332.39,1062.29L333.78,1062.92L335.18,1063.53L336.59,1064.12L338,1064.69L339.43,1065.25L340.86,1065.8L342.29,1066.33L343.74,1066.84L345.18,1067.35L346.63,1067.84L348.09,1068.31L349.54,1068.78L351,1069.23L352.46,1069.67L353.92,1070.1L355.38,1070.52L356.85,1070.93L358.31,1071.32L359.77,1071.71L361.24,1072.09L362.7,1072.46L364.17,1072.82L365.63,1073.17L367.1,1073.51L368.57,1073.84L370.04,1074.16L371.51,1074.48L372.98,1074.78L374.45,1075.08L375.92,1075.37L377.39,1075.65L378.86,1075.93L380.34,1076.2L381.81,1076.46L383.29,1076.71L384.76,1076.96L386.24,1077.2L387.72,1077.43L389.19,1077.66L390.67,1077.89L392.15,1078.1L393.63,1078.31L395.11,1078.52L396.59,1078.72L398.08,1078.92L399.56,1079.11L401.04,1079.3L402.53,1079.48L404.01,1079.66L405.5,1079.84L406.99,1080.01L408.47,1080.17L409.96,1080.34L411.45,1080.49L412.94,1080.65L414.43,1080.8L415.92,1080.94L417.41,1081.08L418.9,1081.22L420.4,1081.35L421.89,1081.48L423.38,1081.6L424.88,1081.72L426.37,1081.84L427.86,1081.95L429.36,1082.06L430.86,1082.16L432.35,1082.26L433.85,1082.36L435.35,1082.45L436.84,1082.54L438.34,1082.62L439.84,1082.7L441.34,1082.78L442.84,1082.85L444.34,1082.92L445.84,1082.98L447.34,1083.05L448.84,1083.1L450.34,1083.15L451.84,1083.2L453.34,1083.25L454.84,1083.29L456.34,1083.33L457.84,1083.36L459.35,1083.39L460.85,1083.42L462.35,1083.44L463.85,1083.46L465.36,1083.48L466.86,1083.49L468.36,1083.5L469.87,1083.5L471.37,1083.51L472.87,1083.5L474.38,1083.5L475.88,1083.49L477.38,1083.48L478.89,1083.46L480.39,1083.44L481.89,1083.42L483.4,1083.39L484.9,1083.36L486.41,1083.33L487.91,1083.29L489.41,1083.25L490.92,1083.21L492.42,1083.16L493.92,1083.11L495.43,1083.06L496.93,1083L498.43,1082.94L499.94,1082.87L501.44,1082.81L502.94,1082.74L504.44,1082.66L505.95,1082.59L507.45,1082.51L508.95,1082.43L510.45,1082.34L511.95,1082.25L513.46,1082.16L514.96,1082.06L516.46,1081.97L517.96,1081.87L519.46,1081.76L520.96,1081.65L522.46,1081.54L523.96,1081.43L525.45,1081.31L526.95,1081.19L528.45,1081.07L529.95,1080.95L531.44,1080.82L532.94,1080.69L534.44,1080.55L535.93,1080.42L537.43,1080.28L538.92,1080.14L540.42,1079.99L541.91,1079.84L543.41,1079.69L544.9,1079.54L546.39,1079.38L547.88,1079.22L549.37,1079.06L550.86,1078.9L552.35,1078.73L553.84,1078.56L555.33,1078.39L556.82,1078.22L558.31,1078.04L559.8,1077.86L561.29,1077.68L562.77,1077.5L564.26,1077.31L565.75,1077.12L567.23,1076.93L568.72,1076.74L570.2,1076.55L571.69,1076.35L573.17,1076.15L574.66,1075.95L576.14,1075.75L577.62,1075.54L579.11,1075.34L580.59,1075.13L582.07,1074.92L583.56,1074.71L585.04,1074.49L586.52,1074.28L588,1074.06L589.48,1073.84L590.97,1073.62L592.45,1073.4L593.93,1073.18L595.41,1072.96L596.89,1072.73L598.37,1072.5L599.85,1072.28L601.33,1072.05L602.82,1071.82L604.3,1071.58L605.78,1071.35L607.26,1071.12L608.74,1070.88L610.22,1070.65L611.7,1070.41L613.18,1070.17L614.66,1069.93L616.14,1069.69L617.62,1069.45L619.11,1069.21L620.59,1068.97L622.07,1068.73L623.55,1068.48L625.03,1068.24L626.51,1067.99L628,1067.75L629.48,1067.5L630.96,1067.26L632.44,1067.01L633.92,1066.76L635.41,1066.52L636.89,1066.27L638.37,1066.02L639.86,1065.77L641.34,1065.52L642.83,1065.28L644.31,1065.03L645.8,1064.78L647.28,1064.53L648.77,1064.28L650.25,1064.03L651.74,1063.78L653.23,1063.54L654.71,1063.29L656.2,1063.04L657.69,1062.79L659.17,1062.54L660.66,1062.29L662.15,1062.04L663.64,1061.79L665.12,1061.53L666.61,1061.27L668.09,1061.01L669.58,1060.75L671.06,1060.48L672.54,1060.21L674.02,1059.93L675.5,1059.65L676.98,1059.37L678.46,1059.08L679.93,1058.78L681.41,1058.48L682.88,1058.18L684.34,1057.86L685.81,1057.55L687.28,1057.22L688.74,1056.88L690.2,1056.54L691.65,1056.19L693.11,1055.84L694.56,1055.47L696,1055.09L697.45,1054.71L698.89,1054.31L700.33,1053.91L701.76,1053.49L703.19,1053.07L704.62,1052.63L706.04,1052.19L707.46,1051.73L708.87,1051.25L710.28,1050.77L711.69,1050.27L713.09,1049.77L714.48,1049.24L715.86,1048.69L717.23,1048.12L718.58,1047.51L719.9,1046.85L721.2,1046.14L722.46,1045.38L723.69,1044.56L724.88,1043.69L726.05,1042.77L727.2,1041.82L728.33,1040.84L729.45,1039.83L730.56,1038.81L731.67,1037.78L732.78,1036.75L733.89,1035.72L735.02,1034.7L736.15,1033.71L737.31,1032.74L738.49,1031.81L739.7,1030.91L740.94,1030.06L742.2,1029.24"/>
<path d="M263.2,741.8L264.69,741.79L266.24,741.78L267.82,741.8L269.43,741.85L271.04,741.95L272.63,742.11L274.18,742.36L275.69,742.69L277.12,743.13L278.47,743.69L279.72,744.37L280.89,745.16L281.97,746.06L282.97,747.04L283.9,748.12L284.76,749.27L285.57,750.48L286.32,751.75L287.02,753.07L287.68,754.42L288.31,755.8L288.9,757.2L289.46,758.61L290.01,760.03L290.53,761.44L291.03,762.86L291.51,764.29L291.97,765.72L292.41,767.15L292.83,768.59L293.23,770.03L293.61,771.47L293.97,772.92L294.32,774.37L294.64,775.83L294.95,777.28L295.24,778.75L295.51,780.21L295.77,781.68L296.01,783.15L296.24,784.62L296.45,786.09L296.64,787.57L296.82,789.05L296.99,790.54L297.14,792.02L297.28,793.51L297.41,795L297.52,796.49L297.62,797.99L297.71,799.49L297.79,800.98L297.86,802.49L297.91,803.99L297.96,805.49L298,807L298.02,808.51L298.04,810.02L298.05,811.53L298.05,813.04L298.04,814.55L298.02,816.07L298,817.58L297.97,819.1L297.93,820.61L297.89,822.13L297.84,823.65L297.79,825.17L297.73,826.69L297.67,828.21L297.6,829.73L297.53,831.26L297.45,832.78L297.37,834.3L297.29,835.82L297.21,837.34L297.12,838.87L297.04,840.39L296.95,841.91L296.86,843.43L296.77,844.95L296.68,846.48L296.59,848L296.51,849.52L296.42,851.04L296.33,852.55L296.25,854.07L296.17,855.59L296.09,857.1L296.01,858.62L295.94,860.13L295.87,861.64L295.81,863.16L295.75,864.66L295.69,866.17L295.64,867.68L295.6,869.19L295.55,870.69L295.52,872.19L295.48,873.69L295.45,875.2L295.42,876.7L295.4,878.2L295.38,879.69L295.36,881.19L295.35,882.69L295.33,884.18L295.32,885.68L295.31,887.17L295.31,888.67L295.31,890.16L295.3,891.65L295.3,893.15L295.3,894.64L295.31,896.13L295.31,897.62L295.31,899.11L295.32,900.6L295.33,902.1L295.33,903.59L295.34,905.08L295.34,906.57L295.35,908.06L295.36,909.55L295.36,911.05L295.37,912.54L295.37,914.03L295.38,915.52L295.38,917.02L295.38,918.51L295.38,920.01L295.38,921.5L295.38,923L295.38,924.5L295.37,925.99L295.36,927.49L295.35,928.99L295.34,930.49L295.32,932L295.3,933.5L295.28,935L295.26,936.5L295.24,938.01L295.22,939.51L295.19,941.02L295.17,942.53L295.14,944.03L295.12,945.54L295.09,947.05L295.07,948.55L295.04,950.06L295.01,951.57L294.99,953.08L294.97,954.59L294.94,956.1L294.92,957.6L294.9,959.11L294.88,960.62L294.86,962.13L294.85,963.64L294.83,965.14L294.82,966.65L294.81,968.16L294.81,969.67L294.8,971.17L294.8,972.68L294.81,974.18L294.81,975.69L294.82,977.19L294.83,978.7L294.85,980.2L294.87,981.7L294.9,983.2L294.93,984.7L294.96,986.2L295,987.7L295.05,989.2L295.1,990.7L295.15,992.19L295.21,993.68L295.28,995.18L295.35,996.67L295.43,998.16L295.52,999.65L295.6,1001.14L295.7,1002.63L295.8,1004.12L295.91,1005.61L296.02,1007.1L296.14,1008.58L296.26,1010.07L296.39,1011.56L296.52,1013.05L296.66,1014.54L296.81,1016.03L296.96,1017.52L297.12,1019.01L297.28,1020.5L297.45,1021.99L297.63,1023.48L297.81,1024.98L297.99,1026.47L298.19,1027.97L298.38,1029.47L298.59,1030.97L298.8,1032.47L299.01,1033.97L299.23,1035.48L299.46,1036.98L299.69,1038.49L299.93,1040L300.18,1041.52L300.43,1043.03L300.69,1044.54L300.96,1046.06L301.24,1047.57L301.53,1049.08L301.84,1050.58L302.16,1052.08L302.51,1053.57L302.87,1055.05L303.25,1056.53L303.65,1057.99L304.08,1059.44L304.53,1060.88L305.01,1062.31L305.51,1063.71L306.05,1065.11L306.62,1066.48L307.21,1067.84L307.85,1069.17L308.52,1070.49L309.22,1071.78L309.97,1073.05L310.75,1074.29L311.57,1075.51L312.43,1076.71L313.32,1077.89L314.24,1079.05L315.2,1080.19L316.18,1081.31L317.19,1082.41L318.22,1083.49L319.28,1084.56L320.36,1085.62L321.46,1086.66L322.58,1087.69L323.71,1088.71L324.86,1089.71L326.03,1090.71L327.2,1091.7L328.39,1092.68L329.58,1093.65L330.78,1094.61L331.98,1095.58L333.19,1096.53L334.4,1097.49L335.61,1098.44L336.82,1099.39L338.02,1100.34L339.23,1101.28L340.43,1102.23L341.63,1103.17L342.84,1104.11L344.04,1105.04L345.24,1105.97L346.45,1106.9L347.65,1107.82L348.86,1108.74L350.06,1109.65L351.27,1110.55L352.48,1111.45L353.7,1112.34L354.91,1113.23L356.13,1114.11L357.36,1114.98L358.58,1115.85L359.81,1116.7L361.04,1117.55L362.28,1118.39L363.53,1119.22L364.77,1120.04L366.03,1120.85L367.29,1121.65L368.55,1122.45L369.82,1123.23L371.1,1123.99L372.38,1124.75L373.67,1125.5L374.97,1126.23L376.28,1126.95L377.59,1127.66L378.91,1128.35L380.24,1129.03L381.58,1129.7L382.93,1130.35L384.29,1130.99L385.65,1131.61L387.03,1132.22L388.41,1132.82L389.81,1133.4L391.21,1133.96L392.61,1134.51L394.03,1135.05L395.45,1135.57L396.88,1136.08L398.31,1136.57L399.75,1137.05L401.19,1137.51L402.64,1137.96L404.1,1138.4L405.55,1138.82L407.01,1139.23L408.48,1139.62L409.95,1140L411.42,1140.37L412.89,1140.72L414.36,1141.06L415.84,1141.38L417.32,1141.69L418.79,1141.99L420.27,1142.27L421.75,1142.54L423.23,1142.8L424.72,1143.04L426.2,1143.27L427.68,1143.49L429.17,1143.69L430.65,1143.88L432.14,1144.06L433.63,1144.23L435.11,1144.38L436.6,1144.53L438.09,1144.66L439.58,1144.78L441.07,1144.88L442.56,1144.98L444.05,1145.06L445.54,1145.14L447.04,1145.2L448.53,1145.25L450.02,1145.29L451.52,1145.32L453.01,1145.33L454.5,1145.34L456,1145.34L457.49,1145.33L458.99,1145.3L460.48,1145.27L461.98,1145.23L463.47,1145.18L464.97,1145.11L466.47,1145.04L467.96,1144.96L469.46,1144.87L470.95,1144.77L472.45,1144.67L473.94,1144.55L475.44,1144.42L476.93,1144.29L478.43,1144.15L479.93,1144L481.42,1143.84L482.91,1143.67L484.41,1143.5L485.9,1143.32L487.4,1143.13L488.89,1142.93L490.38,1142.73L491.88,1142.52L493.37,1142.3L494.86,1142.07L496.35,1141.84L497.84,1141.6L499.33,1141.36L500.82,1141.11L502.31,1140.85L503.8,1140.59L505.28,1140.32L506.77,1140.04L508.25,1139.76L509.74,1139.48L511.22,1139.18L512.71,1138.89L514.19,1138.58L515.67,1138.28L517.15,1137.96L518.63,1137.65L520.11,1137.32L521.59,1137L523.06,1136.67L524.54,1136.33L526.01,1135.99L527.48,1135.65L528.96,1135.31L530.43,1134.95L531.9,1134.6L533.36,1134.24L534.83,1133.88L536.3,1133.52L537.76,1133.15L539.22,1132.78L540.68,1132.41L542.14,1132.04L543.6,1131.66L545.06,1131.28L546.51,1130.89L547.97,1130.51L549.42,1130.12L550.87,1129.73L552.32,1129.34L553.77,1128.94L555.22,1128.54L556.66,1128.14L558.11,1127.73L559.55,1127.33L560.99,1126.92L562.43,1126.5L563.87,1126.09L565.31,1125.67L566.75,1125.25L568.18,1124.83L569.62,1124.4L571.05,1123.97L572.48,1123.54L573.92,1123.11L575.35,1122.67L576.77,1122.23L578.2,1121.79L579.63,1121.34L581.06,1120.89L582.48,1120.44L583.9,1119.99L585.33,1119.53L586.75,1119.07L588.17,1118.61L589.59,1118.14L591.01,1117.68L592.43,1117.21L593.85,1116.73L595.26,1116.26L596.68,1115.78L598.09,1115.29L599.51,1114.81L600.92,1114.32L602.33,1113.83L603.74,1113.34L605.15,1112.84L606.56,1112.34L607.97,1111.84L609.38,1111.34L610.79,1110.83L612.19,1110.32L613.6,1109.81L615,1109.29L616.41,1108.77L617.81,1108.25L619.22,1107.73L620.62,1107.2L622.02,1106.67L623.42,1106.14L624.82,1105.6L626.22,1105.06L627.62,1104.52L629.02,1103.98L630.42,1103.43L631.82,1102.88L633.22,1102.33L634.62,1101.78L636.02,1101.24L637.42,1100.69L638.82,1100.14L640.22,1099.59L641.63,1099.05L643.03,1098.51L644.43,1097.97L645.84,1097.43L647.25,1096.9L648.66,1096.37L650.07,1095.84L651.48,1095.32L652.9,1094.81L654.32,1094.3L655.74,1093.8L657.16,1093.3L658.59,1092.81L660.02,1092.33L661.45,1091.86L662.88,1091.39L664.32,1090.94L665.76,1090.49L667.21,1090.06L668.66,1089.63L670.11,1089.22L671.57,1088.82L673.03,1088.42L674.49,1088.04L675.96,1087.67L677.43,1087.31L678.9,1086.95L680.38,1086.6L681.86,1086.26L683.33,1085.92L684.81,1085.58L686.29,1085.25L687.76,1084.91L689.24,1084.57L690.71,1084.23L692.19,1083.89L693.65,1083.55L695.12,1083.2L696.58,1082.84L698.04,1082.47L699.49,1082.1L700.94,1081.71L702.38,1081.32L703.82,1080.91L705.25,1080.49L706.67,1080.05L708.09,1079.6L709.5,1079.13L710.9,1078.65L712.28,1078.14L713.66,1077.61L715.03,1077.07L716.39,1076.5L717.74,1075.9L719.08,1075.28L720.4,1074.64L721.72,1073.97L723.02,1073.27L724.3,1072.54L725.57,1071.78L726.83,1070.98L728.07,1070.16L729.3,1069.3L730.51,1068.4L731.7,1067.47L732.88,1066.51L734.05,1065.51L735.21,1064.51L736.37,1063.5L737.53,1062.49L738.7,1061.51L739.88,1060.55L741.07,1059.63L742.29,1058.75"/>
<path d="M698.9,883.3L700.4,883.31L701.91,883.28L703.44,883.22L704.98,883.11L706.52,882.97L708.07,882.78L709.61,882.54L711.14,882.26L712.67,881.93L714.17,881.55L715.66,881.11L717.12,880.62L718.55,880.07L719.95,879.46L721.29,878.79L722.58,878.04L723.82,877.22L724.98,876.33L726.07,875.35L727.07,874.29L728,873.16L728.84,871.94L729.62,870.67L730.34,869.34L730.99,867.97L731.6,866.57L732.17,865.14L732.7,863.69L733.21,862.24L733.68,860.79L734.13,859.34L734.56,857.88L734.96,856.42L735.34,854.96L735.69,853.5L736.02,852.04L736.33,850.57L736.61,849.1L736.87,847.64L737.11,846.17L737.33,844.69L737.53,843.22L737.7,841.75L737.86,840.27L737.99,838.79L738.11,837.32L738.2,835.84L738.28,834.36L738.34,832.87L738.38,831.39L738.4,829.91L738.4,828.42L738.39,826.93L738.36,825.44L738.32,823.96L738.25,822.47L738.18,820.97L738.08,819.48L737.98,817.99L737.85,816.5L737.72,815L737.57,813.51L737.4,812.01L737.23,810.51L737.04,809.01L736.84,807.52L736.63,806.02L736.4,804.52L736.17,803.02L735.92,801.52L735.67,800.01L735.4,798.51L735.13,797.01L734.85,795.51L734.56,794.01L734.26,792.5L733.96,791L733.65,789.5L733.33,787.99L733.01,786.49L732.69,784.98L732.36,783.48L732.03,781.98L731.7,780.47L731.36,778.97L731.03,777.46L730.69,775.96L730.35,774.46L730.01,772.95L729.67,771.45L729.34,769.95L729,768.45L728.67,766.94L728.34,765.44L728.02,763.94L727.69,762.44L727.38,760.94L727.06,759.44L726.76,757.95L726.46,756.45L726.16,754.95L725.87,753.46L725.6,751.96L725.32,750.47L725.06,748.97L724.81,747.48L724.57,745.99L724.34,744.5L724.12,743.01L723.91,741.52L723.71,740.03L723.53,738.55L723.36,737.06L723.2,735.58L723.06,734.1L722.94,732.62L722.82,731.14L722.73,729.66L722.65,728.19L722.59,726.71L722.55,725.24L722.52,723.77L722.52,722.3L722.53,720.83L722.57,719.36L722.62,717.9L722.7,716.44L722.79,714.98L722.91,713.52L723.05,712.06L723.22,710.61L723.41,709.15L723.62,707.7L723.86,706.25L724.13,704.81L724.42,703.36L724.73,701.92L725.08,700.48L725.45,699.05L725.85,697.61L726.28,696.18L726.74,694.75L727.23,693.32L727.75,691.9L728.3,690.47L728.88,689.05L729.5,687.64L730.15,686.24L730.85,684.88L731.6,683.55L732.41,682.26L733.27,681.04L734.21,679.89L735.21,678.82L736.29,677.84L737.46,676.96L738.71,676.2L740.05,675.56L741.5,675.05"/>
<path d="M698.9,883.3L700.41,883.3L701.95,883.28L703.51,883.26L705.07,883.26L706.63,883.3L708.17,883.39L709.69,883.54L711.17,883.78L712.61,884.12L713.99,884.58L715.31,885.17L716.55,885.9L717.73,886.75L718.83,887.7L719.87,888.76L720.84,889.89L721.74,891.09L722.58,892.34L723.36,893.62L724.08,894.94L724.75,896.28L725.36,897.64L725.91,899.02L726.42,900.42L726.88,901.84L727.3,903.28L727.68,904.74L728.02,906.21L728.33,907.7L728.6,909.2L728.84,910.72L729.05,912.24L729.24,913.77L729.41,915.31L729.56,916.86L729.69,918.42L729.81,919.98L729.92,921.54L730.02,923.1L730.11,924.67L730.2,926.23L730.29,927.8L730.38,929.36L730.48,930.92L730.58,932.47L730.7,934.02L730.82,935.56L730.94,937.1L731.08,938.63L731.23,940.16L731.39,941.68L731.56,943.2L731.75,944.71L731.94,946.22L732.15,947.72L732.38,949.21L732.62,950.7L732.87,952.18L733.15,953.66L733.44,955.13L733.74,956.59L734.07,958.05L734.42,959.5L734.78,960.95L735.17,962.38L735.57,963.81L736,965.24L736.45,966.65L736.93,968.06L737.43,969.46L737.95,970.86L738.5,972.24L739.08,973.62L739.68,974.99L740.31,976.36L740.97,977.71L741.66,979.06L742.37,980.4L743.12,981.73L743.9,983.05"/>
<path d="M698.9,883.31L700.39,883.28L701.9,883.27L703.43,883.26L704.98,883.26L706.54,883.28L708.1,883.31L709.67,883.36L711.25,883.44L712.82,883.54L714.39,883.67L715.95,883.82L717.5,884.01L719.04,884.23L720.56,884.49L722.06,884.79L723.54,885.14L724.99,885.53L726.41,885.96L727.79,886.45L729.14,886.99L730.45,887.59L731.72,888.24L732.95,888.95L734.13,889.71L735.27,890.53L736.37,891.4L737.43,892.31L738.45,893.27L739.43,894.28L740.37,895.33L741.27,896.43L742.14,897.56L742.96,898.73L743.75,899.93L744.49,901.17L745.21,902.44L745.88,903.74L746.52,905.07L747.12,906.43L747.69,907.81L748.22,909.22L748.72,910.64L749.18,912.09L749.61,913.55L750,915.03L750.36,916.52L750.69,918.03L750.99,919.54L751.25,921.06L751.49,922.59L751.69,924.12L751.86,925.66L752,927.2L752.11,928.73L752.19,930.26L752.24,931.79L752.27,933.32L752.27,934.84L752.24,936.36L752.18,937.87L752.1,939.38L752,940.88L751.88,942.39L751.73,943.89L751.57,945.38L751.38,946.87L751.18,948.36L750.96,949.85L750.72,951.34L750.46,952.82L750.2,954.3L749.91,955.78L749.62,957.25L749.31,958.72L749,960.2L748.67,961.66L748.33,963.13L747.99,964.6L747.64,966.06L747.28,967.53L746.92,968.99L746.55,970.45L746.18,971.91L745.81,973.37L745.44,974.83L745.07,976.28L744.7,977.74L744.33,979.2L743.96,980.66L743.59,982.11L743.23,983.57L742.87,985.02L742.52,986.48L742.16,987.94L741.81,989.39L741.46,990.85L741.12,992.3L740.77,993.76L740.43,995.22L740.09,996.67L739.75,998.13L739.41,999.58L739.07,1001.04L738.74,1002.5L738.4,1003.95L738.07,1005.41L737.73,1006.87L737.4,1008.32L737.07,1009.78L736.74,1011.24L736.4,1012.7L736.07,1014.15L735.74,1015.61L735.41,1017.07L735.07,1018.53L734.74,1019.99L734.41,1021.45L734.07,1022.91L733.73,1024.37L733.4,1025.83L733.06,1027.29L732.72,1028.75L732.38,1030.22L732.03,1031.68L731.69,1033.14L731.34,1034.61L730.99,1036.07L730.64,1037.54L730.29,1039L729.94,1040.47L729.59,1041.94L729.24,1043.4L728.89,1044.87L728.54,1046.34L728.2,1047.81L727.85,1049.28L727.51,1050.75L727.17,1052.22L726.83,1053.69L726.5,1055.16L726.17,1056.63L725.84,1058.1L725.52,1059.58L725.2,1061.05L724.88,1062.52L724.57,1064L724.27,1065.47L723.97,1066.95L723.68,1068.42L723.39,1069.9L723.11,1071.37L722.84,1072.85L722.57,1074.33L722.32,1075.8L722.07,1077.28L721.82,1078.76L721.59,1080.24L721.37,1081.72L721.15,1083.2L720.95,1084.68L720.75,1086.16L720.57,1087.64L720.39,1089.12L720.23,1090.6L720.08,1092.08L719.94,1093.56L719.81,1095.05L719.69,1096.53L719.59,1098.01L719.5,1099.49L719.42,1100.98L719.36,1102.46L719.31,1103.95L719.27,1105.43L719.25,1106.91L719.25,1108.4L719.25,1109.88L719.28,1111.37L719.32,1112.86L719.37,1114.34L719.45,1115.83L719.54,1117.32L719.64,1118.8L719.77,1120.29L719.91,1121.78L720.07,1123.26L720.25,1124.75L720.45,1126.24L720.66,1127.73L720.9,1129.22L721.16,1130.71L721.43,1132.19L721.72,1133.68L722.03,1135.16L722.37,1136.64L722.72,1138.12L723.08,1139.6L723.47,1141.08L723.88,1142.55L724.3,1144.01L724.74,1145.48L725.2,1146.93L725.68,1148.39L726.18,1149.83L726.7,1151.28L727.23,1152.71L727.78,1154.14L728.35,1155.56L728.94,1156.98L729.54,1158.38L730.16,1159.78L730.8,1161.17L731.46,1162.55L732.13,1163.92L732.83,1165.29L733.54,1166.64L734.26,1167.98L735,1169.31L735.77,1170.63L736.54,1171.94L737.34,1173.23L738.15,1174.51L738.98,1175.78L739.82,1177.04L740.68,1178.29L741.56,1179.51L742.45,1180.73L743.36,1181.93L744.29,1183.12L745.23,1184.29L746.19,1185.44L747.17,1186.58L748.16,1187.7L749.16,1188.81L750.18,1189.9L751.21,1190.98L752.26,1192.04L753.32,1193.1L754.4,1194.13L755.48,1195.16L756.58,1196.17L757.69,1197.17L758.81,1198.16L759.94,1199.14L761.09,1200.1L762.24,1201.06L763.4,1202L764.57,1202.93L765.75,1203.86L766.94,1204.77L768.14,1205.67L769.34,1206.57L770.55,1207.46L771.77,1208.34L772.99,1209.21L774.23,1210.07L775.46,1210.93L776.7,1211.78L777.95,1212.62L779.2,1213.46L780.45,1214.29L781.71,1215.12L782.97,1215.94L784.24,1216.75L785.5,1217.56L786.77,1218.37L788.04,1219.17L789.31,1219.97L790.59,1220.77L791.86,1221.56L793.14,1222.34L794.42,1223.13L795.7,1223.9L796.98,1224.68L798.27,1225.45L799.56,1226.21L800.85,1226.97L802.14,1227.73L803.43,1228.48L804.73,1229.22L806.03,1229.96L807.33,1230.7L808.63,1231.43L809.94,1232.16L811.25,1232.88L812.56,1233.6L813.87,1234.31L815.19,1235.02L816.5,1235.72L817.83,1236.41L819.15,1237.11L820.47,1237.79L821.8,1238.47L823.13,1239.15L824.47,1239.82L825.8,1240.49L827.14,1241.15L828.49,1241.8L829.83,1242.45L831.18,1243.09L832.53,1243.73L833.88,1244.36L835.24,1244.99L836.6,1245.61L837.96,1246.22L839.33,1246.83L840.7,1247.43L842.07,1248.03L843.44,1248.62L844.82,1249.21L846.2,1249.78L847.59,1250.36L848.98,1250.92L850.37,1251.48L851.76,1252.04L853.16,1252.59L854.56,1253.13L855.97,1253.66L857.37,1254.19L858.79,1254.71L860.2,1255.23L861.62,1255.74L863.04,1256.24L864.47,1256.73L865.9,1257.22L867.33,1257.71L868.77,1258.18L870.21,1258.65L871.65,1259.11L873.1,1259.56L874.55,1260.01L876.01,1260.45L877.47,1260.88L878.93,1261.31L880.39,1261.73L881.86,1262.13L883.33,1262.54L884.8,1262.93L886.28,1263.31L887.76,1263.69L889.24,1264.05L890.72,1264.41L892.2,1264.76L893.69,1265.1L895.18,1265.42L896.67,1265.74L898.16,1266.05L899.65,1266.35L901.15,1266.64L902.64,1266.92L904.14,1267.19L905.64,1267.44L907.13,1267.69L908.63,1267.93L910.13,1268.15L911.63,1268.36L913.13,1268.57L914.63,1268.75L916.13,1268.93L917.63,1269.1L919.13,1269.25L920.63,1269.39L922.13,1269.52L923.63,1269.64L925.13,1269.74L926.62,1269.83L928.12,1269.91L929.61,1269.97L931.11,1270.02L932.6,1270.05L934.09,1270.08L935.58,1270.08L937.07,1270.08L938.55,1270.06L940.04,1270.02L941.52,1269.97L943,1269.91L944.48,1269.83L945.95,1269.74L947.43,1269.64L948.9,1269.52L950.37,1269.39L951.84,1269.25L953.31,1269.09L954.77,1268.92L956.24,1268.74L957.7,1268.54L959.16,1268.34L960.62,1268.12L962.08,1267.89L963.54,1267.65L964.99,1267.39L966.44,1267.13L967.89,1266.85L969.34,1266.56L970.79,1266.26L972.24,1265.95L973.68,1265.63L975.13,1265.29L976.57,1264.95L978.01,1264.6L979.45,1264.23L980.88,1263.86L982.32,1263.48L983.75,1263.08L985.19,1262.68L986.62,1262.27L988.05,1261.85L989.48,1261.42L990.9,1260.98L992.33,1260.53L993.75,1260.07L995.18,1259.6L996.6,1259.13L998.02,1258.64L999.44,1258.15L1000.85,1257.65L1002.27,1257.15L1003.68,1256.63L1005.1,1256.11L1006.51,1255.58L1007.92,1255.04L1009.33,1254.5L1010.74,1253.95L1012.15,1253.39L1013.55,1252.82L1014.96,1252.25L1016.36,1251.68L1017.76,1251.09L1019.17,1250.5L1020.57,1249.91L1021.96,1249.3L1023.36,1248.7L1024.76,1248.08L1026.15,1247.47L1027.55,1246.84L1028.94,1246.21L1030.33,1245.58L1031.73,1244.94L1033.12,1244.3L1034.51,1243.65L1035.89,1243L1037.28,1242.35L1038.67,1241.69L1040.05,1241.02L1041.44,1240.36L1042.82,1239.69L1044.2,1239.01L1045.58,1238.33L1046.96,1237.65L1048.33,1236.96L1049.7,1236.26L1051.07,1235.56L1052.44,1234.86L1053.8,1234.15L1055.15,1233.43L1056.51,1232.71L1057.86,1231.98L1059.2,1231.25L1060.54,1230.51L1061.87,1229.76L1063.2,1229.01L1064.52,1228.24L1065.83,1227.47L1067.14,1226.7L1068.44,1225.91L1069.73,1225.12L1071.01,1224.32L1072.29,1223.51L1073.56,1222.69L1074.82,1221.86L1076.07,1221.02L1077.31,1220.17L1078.54,1219.32L1079.76,1218.45L1080.98,1217.58L1082.18,1216.69L1083.37,1215.8L1084.55,1214.89L1085.72,1213.97L1086.87,1213.04L1088.02,1212.1L1089.15,1211.15L1090.27,1210.19L1091.37,1209.21L1092.47,1208.23L1093.55,1207.23L1094.61,1206.21L1095.66,1205.19L1096.7,1204.15L1097.72,1203.1L1098.73,1202.04L1099.72,1200.96L1100.7,1199.87L1101.66,1198.77L1102.6,1197.65L1103.53,1196.51L1104.44,1195.37L1105.33,1194.2L1106.21,1193.03L1107.07,1191.83L1107.91,1190.62L1108.73,1189.4L1109.53,1188.16L1110.31,1186.91L1111.08,1185.64L1111.83,1184.36L1112.56,1183.06L1113.27,1181.76L1113.96,1180.44L1114.64,1179.11L1115.3,1177.76L1115.94,1176.41L1116.56,1175.05L1117.17,1173.67L1117.76,1172.29L1118.33,1170.9L1118.88,1169.49L1119.42,1168.09L1119.94,1166.67L1120.44,1165.24L1120.93,1163.81L1121.4,1162.38L1121.85,1160.93L1122.28,1159.49L1122.7,1158.03L1123.1,1156.57L1123.49,1155.11L1123.86,1153.65L1124.21,1152.18L1124.55,1150.71L1124.87,1149.24L1125.18,1147.76L1125.47,1146.28L1125.74,1144.81L1126.01,1143.32L1126.26,1141.84L1126.5,1140.36L1126.73,1138.87L1126.95,1137.38L1127.16,1135.89L1127.35,1134.4L1127.54,1132.91L1127.72,1131.41L1127.9,1129.92L1128.07,1128.42L1128.23,1126.93L1128.38,1125.43L1128.53,1123.93L1128.68,1122.44L1128.82,1120.94L1128.95,1119.44L1129.09,1117.94L1129.22,1116.44L1129.35,1114.95L1129.47,1113.45L1129.59,1111.95L1129.71,1110.45L1129.82,1108.95L1129.94,1107.45L1130.04,1105.95L1130.15,1104.45L1130.25,1102.95L1130.35,1101.45L1130.45,1099.95L1130.54,1098.45L1130.63,1096.95L1130.72,1095.45L1130.81,1093.95L1130.89,1092.44L1130.97,1090.94L1131.05,1089.44L1131.12,1087.94L1131.2,1086.44L1131.27,1084.94L1131.34,1083.43L1131.4,1081.93L1131.47,1080.43L1131.53,1078.93L1131.59,1077.43L1131.64,1075.92L1131.7,1074.42L1131.75,1072.92L1131.8,1071.42L1131.85,1069.91L1131.9,1068.41L1131.94,1066.91L1131.99,1065.4L1132.03,1063.9L1132.07,1062.4L1132.11,1060.9L1132.15,1059.39L1132.18,1057.89L1132.22,1056.39L1132.25,1054.89L1132.28,1053.38L1132.31,1051.88L1132.34,1050.38L1132.37,1048.87L1132.39,1047.37L1132.42,1045.87L1132.44,1044.37L1132.47,1042.86L1132.49,1041.36L1132.51,1039.86L1132.53,1038.36L1132.55,1036.85L1132.57,1035.35L1132.59,1033.85L1132.6,1032.35L1132.62,1030.84L1132.64,1029.34L1132.65,1027.84L1132.66,1026.34L1132.68,1024.84L1132.69,1023.33L1132.7,1021.83L1132.71,1020.33L1132.72,1018.83L1132.73,1017.33L1132.74,1015.83L1132.74,1014.32L1132.75,1012.82L1132.75,1011.32L1132.76,1009.82L1132.76,1008.32L1132.77,1006.82L1132.77,1005.32L1132.77,1003.82L1132.77,1002.31L1132.77,1000.81L1132.77,999.31L1132.77,997.81L1132.77,996.31L1132.77,994.81L1132.76,993.31L1132.76,991.81L1132.76,990.31L1132.75,988.81L1132.75,987.31L1132.74,985.8L1132.73,984.3L1132.72,982.8L1132.72,981.3L1132.71,979.8L1132.7,978.3L1132.69,976.8L1132.68,975.3L1132.67,973.8L1132.66,972.3L1132.64,970.8L1132.63,969.3L1132.62,967.8L1132.6,966.3L1132.59,964.8L1132.57,963.3L1132.56,961.8L1132.54,960.3L1132.52,958.8L1132.51,957.3L1132.49,955.8L1132.47,954.3L1132.45,952.8L1132.43,951.3L1132.41,949.8L1132.39,948.3L1132.37,946.8L1132.35,945.3L1132.33,943.8L1132.31,942.3L1132.29,940.8L1132.27,939.3L1132.24,937.8L1132.22,936.3L1132.2,934.8L1132.17,933.3L1132.15,931.81L1132.12,930.31L1132.1,928.81L1132.07,927.31L1132.04,925.81L1132.02,924.31L1131.99,922.81L1131.96,921.31L1131.94,919.81L1131.91,918.31L1131.88,916.81L1131.85,915.31L1131.82,913.81L1131.8,912.31L1131.77,910.81L1131.74,909.32L1131.71,907.82L1131.68,906.32L1131.65,904.82L1131.62,903.32L1131.59,901.82L1131.56,900.32L1131.52,898.82L1131.49,897.32L1131.46,895.82L1131.43,894.32L1131.4,892.83L1131.37,891.33L1131.33,889.83L1131.3,888.33L1131.27,886.83L1131.23,885.33L1131.2,883.83L1131.17,882.33L1131.14,880.83L1131.1,879.33L1131.07,877.84L1131.03,876.34L1131,874.84L1130.97,873.34L1130.93,871.84L1130.9,870.34L1130.87,868.84L1130.83,867.34L1130.8,865.84L1130.76,864.34L1130.73,862.85L1130.69,861.35L1130.66,859.85L1130.62,858.35L1130.59,856.85L1130.56,855.35L1130.52,853.85L1130.49,852.35L1130.45,850.85L1130.42,849.35L1130.38,847.86L1130.35,846.36L1130.31,844.86L1130.28,843.36L1130.25,841.86L1130.21,840.36L1130.18,838.86L1130.14,837.36L1130.11,835.86L1130.08,834.36L1130.04,832.87L1130.01,831.37L1129.97,829.87L1129.94,828.37L1129.91,826.87L1129.87,825.37L1129.84,823.87L1129.81,822.37L1129.77,820.87L1129.74,819.37L1129.71,817.87L1129.68,816.37L1129.64,814.87L1129.61,813.38L1129.58,811.88L1129.55,810.38L1129.52,808.88L1129.49,807.38L1129.46,805.88L1129.43,804.38L1129.39,802.88L1129.36,801.38L1129.33,799.88L1129.3,798.38L1129.28,796.88L1129.25,795.38L1129.22,793.88L1129.19,792.38L1129.16,790.88L1129.13,789.38L1129.1,787.88L1129.08,786.38L1129.05,784.88L1129.02,783.38L1129,781.88L1128.97,780.38L1128.95,778.88L1128.92,777.38L1128.89,775.88L1128.87,774.38L1128.85,772.88L1128.82,771.38L1128.8,769.88L1128.78,768.38L1128.75,766.88L1128.73,765.38L1128.71,763.88L1128.69,762.38L1128.67,760.88L1128.65,759.38L1128.63,757.88L1128.61,756.38L1128.59,754.88L1128.57,753.38L1128.55,751.88L1128.53,750.38L1128.52,748.88L1128.5,747.38L1128.48,745.88L1128.47,744.38L1128.45,742.88L1128.44,741.38L1128.42,739.87L1128.41,738.37L1128.4,736.87L1128.39,735.37L1128.37,733.87L1128.36,732.37L1128.35,730.87L1128.34,729.37L1128.33,727.87L1128.32,726.36L1128.31,724.86L1128.31,723.36L1128.3,721.86L1128.29,720.36L1128.29,718.86L1128.28,717.36L1128.28,715.85L1128.27,714.35L1128.27,712.85L1128.27,711.35L1128.27,709.85L1128.27,708.34L1128.27,706.84L1128.27,705.34L1128.27,703.84L1128.27,702.34L1128.27,700.83L1128.28,699.33L1128.28,697.83L1128.28,696.33L1128.29,694.82L1128.3,693.32L1128.3,691.82L1128.31,690.32L1128.32,688.81L1128.33,687.31L1128.34,685.81L1128.35,684.3L1128.36,682.8L1128.37,681.3L1128.39,679.8L1128.4,678.29L1128.42,676.79L1128.43,675.29L1128.45,673.78L1128.47,672.28L1128.49,670.78L1128.51,669.27L1128.53,667.77L1128.55,666.26L1128.57,664.76L1128.59,663.26L1128.62,661.75L1128.64,660.25L1128.67,658.74L1128.69,657.24L1128.72,655.74L1128.75,654.23L1128.78,652.73L1128.81,651.22L1128.84,649.72L1128.87,648.21L1128.91,646.71L1128.94,645.2L1128.98,643.7L1129.01,642.19L1129.05,640.69L1129.09,639.18L1129.13,637.68L1129.17,636.17L1129.21,634.67L1129.25,633.16L1129.3,631.66L1129.34,630.15L1129.39,628.65L1129.43,627.14L1129.48,625.63L1129.53,624.13L1129.58,622.62L1129.63,621.12L1129.69,619.61L1129.74,618.1L1129.79,616.6L1129.85,615.09L1129.91,613.58L1129.96,612.08L1130.02,610.57L1130.08,609.06L1130.15,607.56L1130.21,606.05L1130.27,604.54L1130.34,603.04L1130.4,601.53L1130.47,600.02L1130.54,598.51L1130.61,597.01L1130.68,595.5L1130.75,593.99L1130.83,592.48L1130.9,590.97L1130.98,589.47L1131.06,587.96L1131.14,586.45L1131.22,584.94L1131.3,583.43L1131.38,581.92L1131.47,580.42L1131.56,578.91L1131.65,577.4L1131.74,575.89L1131.84,574.39L1131.94,572.88L1132.05,571.38L1132.16,569.87L1132.27,568.37L1132.39,566.87L1132.51,565.36L1132.64,563.86L1132.77,562.36L1132.91,560.87L1133.05,559.37L1133.2,557.87L1133.36,556.38L1133.52,554.89L1133.69,553.39L1133.86,551.9L1134.05,550.42L1134.24,548.93L1134.43,547.45L1134.64,545.96L1134.86,544.48L1135.08,543L1135.31,541.53L1135.55,540.05L1135.8,538.58L1136.06,537.11L1136.33,535.65L1136.61,534.18L1136.9,532.72L1137.19,531.26L1137.5,529.8L1137.83,528.35L1138.16,526.9L1138.5,525.45L1138.86,524.01L1139.22,522.57L1139.6,521.13L1139.99,519.7L1140.4,518.26L1140.82,516.84L1141.25,515.41L1141.69,513.99L1142.15,512.57L1142.62,511.16L1143.1,509.75L1143.6,508.35L1144.12,506.94L1144.65,505.55L1145.19,504.15L1145.75,502.76L1146.33,501.38L1146.92,500L1147.53,498.62L1148.15,497.25L1148.79,495.89L1149.45,494.52"/>
<path d="M1099.8,640.7L1101.29,640.69L1102.82,640.71L1104.39,640.75L1105.99,640.83L1107.6,640.95L1109.23,641.11L1110.86,641.31L1112.47,641.56L1114.07,641.87L1115.65,642.22L1117.18,642.64L1118.67,643.12L1120.11,643.66L1121.48,644.27L1122.78,644.95L1124.03,645.7L1125.21,646.51L1126.33,647.38L1127.4,648.31L1128.4,649.29L1129.36,650.32L1130.26,651.41L1131.11,652.54L1131.91,653.72L1132.66,654.94L1133.36,656.19L1134.02,657.49L1134.64,658.82L1135.22,660.18L1135.76,661.58L1136.26,662.99L1136.73,664.44L1137.16,665.9L1137.56,667.38L1137.93,668.88L1138.27,670.4L1138.58,671.92L1138.87,673.46L1139.13,675L1139.38,676.54L1139.6,678.08L1139.8,679.63L1139.99,681.17L1140.16,682.7L1140.31,684.24L1140.45,685.77L1140.57,687.29L1140.67,688.82L1140.76,690.34L1140.84,691.86L1140.9,693.38L1140.94,694.89L1140.97,696.4L1140.99,697.91L1140.99,699.42L1140.98,700.93L1140.95,702.43L1140.92,703.93L1140.87,705.43L1140.8,706.93L1140.73,708.43L1140.64,709.92L1140.55,711.41L1140.44,712.91L1140.32,714.4L1140.19,715.89L1140.05,717.37L1139.9,718.86L1139.74,720.35L1139.57,721.83L1139.39,723.32L1139.2,724.8L1139.01,726.29L1138.8,727.77L1138.59,729.25L1138.37,730.73L1138.14,732.22L1137.91,733.7L1137.66,735.18L1137.42,736.66L1137.16,738.14L1136.9,739.63L1136.64,741.11L1136.36,742.59L1136.09,744.08L1135.81,745.56L1135.52,747.04L1135.23,748.53L1134.93,750.01L1134.64,751.5L1134.34,752.99L1134.03,754.48L1133.72,755.97L1133.41,757.46L1133.1,758.95L1132.79,760.45L1132.47,761.94L1132.16,763.44L1131.84,764.93L1131.53,766.43L1131.22,767.93L1130.9,769.43L1130.6,770.93L1130.29,772.43L1129.99,773.93L1129.7,775.44L1129.4,776.94L1129.12,778.44L1128.84,779.94L1128.57,781.45L1128.3,782.95L1128.05,784.46L1127.8,785.96L1127.56,787.46L1127.34,788.97L1127.12,790.47L1126.91,791.97L1126.72,793.47L1126.54,794.98L1126.37,796.48L1126.22,797.98L1126.08,799.48L1125.96,800.98L1125.85,802.47L1125.76,803.97L1125.68,805.47L1125.63,806.96L1125.59,808.46L1125.57,809.95L1125.57,811.44L1125.59,812.93L1125.63,814.42L1125.69,815.9L1125.77,817.39L1125.88,818.87L1126.01,820.35L1126.16,821.83L1126.34,823.31L1126.54,824.78L1126.77,826.26L1127.02,827.73L1127.3,829.2L1127.61,830.66L1127.95,832.13L1128.31,833.59L1128.71,835.04L1129.15,836.49L1129.62,837.92L1130.14,839.33L1130.7,840.72L1131.32,842.07L1131.99,843.4L1132.72,844.69L1133.52,845.93L1134.38,847.13L1135.31,848.28L1136.32,849.38L1137.41,850.41L1138.58,851.38L1139.84,852.28L1141.19,853.11L1142.63,853.86L1144.14,854.56L1145.2,855.55"/>
<path d="M1591.49,362.6L1593.03,362.63L1594.55,362.57L1596.05,362.43L1597.53,362.21L1598.99,361.9L1600.43,361.52L1601.83,361.07L1603.2,360.54L1604.53,359.94L1605.83,359.28L1607.08,358.55L1608.3,357.76L1609.48,356.91L1610.62,356.01L1611.73,355.06L1612.8,354.06L1613.84,353.01L1614.85,351.92L1615.83,350.78L1616.78,349.61L1617.7,348.4L1618.6,347.16L1619.48,345.9L1620.33,344.6L1621.16,343.28L1621.97,341.94L1622.76,340.59L1623.53,339.21L1624.29,337.83L1625.03,336.44L1625.76,335.03L1626.48,333.63L1627.18,332.22L1627.88,330.82L1628.57,329.42L1629.25,328.03L1629.93,326.64L1630.61,325.26L1631.3,323.89L1631.98,322.53L1632.68,321.18L1633.38,319.85L1634.09,318.53L1634.82,317.23L1635.57,315.94L1636.33,314.68L1637.12,313.43L1637.93,312.21L1638.76,311.01L1639.62,309.84L1640.52,308.69L1641.44,307.57L1642.41,306.48L1643.41,305.42L1644.45,304.39L1645.53,303.39L1646.66,302.43L1647.83,301.5L1649.06,300.61L1650.34,299.76"/>
</g>
<path d="M826.71,330.7 L839.98,325.08 L833.21,330.99 L839.7,331.27 L833.21,330.99 L839.42,337.47 Z" fill="#000" stroke="#000" stroke-width="0.9" stroke-linejoin="miter"/>
<circle cx="820.92" cy="330.44" r="4.2" fill="#fff" stroke="#000" stroke-width="1.3"/>
<path d="M1154.1,331.92 L1167.76,327.37 L1160.55,332.72 L1167,333.52 L1160.55,332.72 L1166.24,339.68 Z" fill="#000" stroke="#000" stroke-width="0.9" stroke-linejoin="miter"/>
<circle cx="1148.34" cy="331.21" r="4.2" fill="#fff" stroke="#000" stroke-width="1.3"/>
<path d="M1659.36,201.73 L1673.45,198.75 L1665.68,203.25 L1672,204.78 L1665.68,203.25 L1670.55,210.8 Z" fill="#000" stroke="#000" stroke-width="0.9" stroke-linejoin="miter"/>
<circle cx="1653.72" cy="200.37" r="4.2" fill="#fff" stroke="#000" stroke-width="1.3"/>
<path d="M751.81,752.75 L766.2,752.06 L757.81,755.26 L763.8,757.78 L757.81,755.26 L761.4,763.49 Z" fill="#000" stroke="#000" stroke-width="0.9" stroke-linejoin="miter"/>
<circle cx="746.46" cy="750.51" r="4.2" fill="#fff" stroke="#000" stroke-width="1.3"/>
<path d="M1162.6,180.9 L1162.6,192.9 L1165.8,192.9 L1165.8,180.9 Z" fill="#000"/>
<line x1="1155.6" y1="187.5" x2="1164.2" y2="186.9" stroke="#000" stroke-width="1.25"/>
<circle cx="1155.6" cy="187.5" r="4.2" fill="#fff" stroke="#000" stroke-width="1.3"/>
<path d="M1669.22,168.42 L1664.99,179.65 L1667.98,180.78 L1672.21,169.55 Z" fill="#000"/>
<line x1="1661" y1="173" x2="1668.6" y2="174.6" stroke="#000" stroke-width="1.25"/>
<circle cx="1661" cy="173" r="4.2" fill="#fff" stroke="#000" stroke-width="1.3"/>
<path d="M826.74,390.99 L839.21,383.79 L833.22,390.48 L839.7,389.98 L833.22,390.48 L840.19,396.16 Z" fill="#000" stroke="#000" stroke-width="0.9" stroke-linejoin="miter"/>
<circle cx="820.96" cy="391.45" r="4.2" fill="#fff" stroke="#000" stroke-width="1.3"/>
<path d="M826.73,273.39 L839.31,266.39 L833.21,272.98 L839.7,272.58 L833.21,272.98 L840.09,278.76 Z" fill="#000" stroke="#000" stroke-width="0.9" stroke-linejoin="miter"/>
<circle cx="820.94" cy="273.75" r="4.2" fill="#fff" stroke="#000" stroke-width="1.3"/>
<path d="M1154.8,622.53 L1169.14,621.21 L1160.9,624.78 L1167,627.02 L1160.9,624.78 L1164.86,632.84 Z" fill="#000" stroke="#000" stroke-width="0.9" stroke-linejoin="miter"/>
<circle cx="1149.36" cy="620.52" r="4.2" fill="#fff" stroke="#000" stroke-width="1.3"/>
<path d="M1154.73,652.09 L1169.04,650.52 L1160.86,654.23 L1167,656.38 L1160.86,654.23 L1164.96,662.23 Z" fill="#000" stroke="#000" stroke-width="0.9" stroke-linejoin="miter"/>
<circle cx="1149.25" cy="650.18" r="4.2" fill="#fff" stroke="#000" stroke-width="1.3"/>
<path d="M750.94,697.2 L764.7,692.94 L757.37,698.14 L763.8,699.08 L757.37,698.14 L762.9,705.21 Z" fill="#000" stroke="#000" stroke-width="0.9" stroke-linejoin="miter"/>
<circle cx="745.2" cy="696.36" r="4.2" fill="#fff" stroke="#000" stroke-width="1.3"/>
<path d="M750.89,814.95 L764.53,810.32 L757.35,815.71 L763.8,816.48 L757.35,815.71 L763.07,822.63 Z" fill="#000" stroke="#000" stroke-width="0.9" stroke-linejoin="miter"/>
<circle cx="745.13" cy="814.26" r="4.2" fill="#fff" stroke="#000" stroke-width="1.3"/>
<path d="M1661.15,241.29 L1668.58,228.95 L1666.58,237.71 L1672,234.12 L1666.58,237.71 L1675.42,239.3 Z" fill="#000" stroke="#000" stroke-width="0.9" stroke-linejoin="miter"/>
<circle cx="1656.32" cy="244.49" r="4.2" fill="#fff" stroke="#000" stroke-width="1.3"/>
<path d="M389.02,655.71 L401.07,647.83 L395.46,654.84 L401.9,653.98 L395.46,654.84 L402.73,660.12 Z" fill="#000" stroke="#000" stroke-width="0.9" stroke-linejoin="miter"/>
<circle cx="383.27" cy="656.48" r="4.2" fill="#fff" stroke="#000" stroke-width="1.3"/>
<path d="M388.9,742.01 L401.91,735.83 L395.4,742.02 L401.9,742.02 L395.4,742.02 L401.89,748.22 Z" fill="#000" stroke="#000" stroke-width="0.9" stroke-linejoin="miter"/>
<circle cx="383.1" cy="742" r="4.2" fill="#fff" stroke="#000" stroke-width="1.3"/>
<path d="M1154.22,306.58 L1165.85,298.08 L1160.61,305.38 L1167,304.18 L1160.61,305.38 L1168.15,310.27 Z" fill="#000" stroke="#000" stroke-width="0.9" stroke-linejoin="miter"/>
<circle cx="1148.53" cy="307.66" r="4.2" fill="#fff" stroke="#000" stroke-width="1.3"/>
<path d="M751.26,1025.35 L762.17,1015.94 L757.53,1023.64 L763.8,1021.93 L757.53,1023.64 L765.43,1027.91 Z" fill="#000" stroke="#000" stroke-width="0.9" stroke-linejoin="miter"/>
<circle cx="745.66" cy="1026.87" r="4.2" fill="#fff" stroke="#000" stroke-width="1.3"/>
<path d="M751.27,1054.73 L762.15,1045.3 L757.53,1053 L763.8,1051.28 L757.53,1053 L765.45,1057.25 Z" fill="#000" stroke="#000" stroke-width="0.9" stroke-linejoin="miter"/>
<circle cx="745.68" cy="1056.27" r="4.2" fill="#fff" stroke="#000" stroke-width="1.3"/>
<path d="M751.06,672.3 L762.57,663.65 L757.43,671.01 L763.8,669.73 L757.43,671.01 L765.03,675.8 Z" fill="#000" stroke="#000" stroke-width="0.9" stroke-linejoin="miter"/>
<circle cx="745.37" cy="673.44" r="4.2" fill="#fff" stroke="#000" stroke-width="1.3"/>
<path d="M751.45,988.52 L765.73,986.68 L757.62,990.55 L763.8,992.58 L757.62,990.55 L761.87,998.47 Z" fill="#000" stroke="#000" stroke-width="0.9" stroke-linejoin="miter"/>
<circle cx="745.94" cy="986.71" r="4.2" fill="#fff" stroke="#000" stroke-width="1.3"/>
<path d="M1156.25,487.58 L1163.52,475.15 L1161.62,483.93 L1167,480.27 L1161.62,483.93 L1170.48,485.4 Z" fill="#000" stroke="#000" stroke-width="0.9" stroke-linejoin="miter"/>
<circle cx="1151.45" cy="490.84" r="4.2" fill="#fff" stroke="#000" stroke-width="1.3"/>
<path d="M1154.27,859.19 L1168.26,855.75 L1160.63,860.51 L1167,861.83 L1160.63,860.51 L1165.74,867.9 Z" fill="#000" stroke="#000" stroke-width="0.9" stroke-linejoin="miter"/>
<circle cx="1148.59" cy="858.02" r="4.2" fill="#fff" stroke="#000" stroke-width="1.3"/>
<path d="M1659.38,295.95 L1670.51,286.81 L1665.69,294.39 L1672,292.83 L1665.69,294.39 L1673.49,298.84 Z" fill="#000" stroke="#000" stroke-width="0.9" stroke-linejoin="miter"/>
<circle cx="1653.75" cy="297.34" r="4.2" fill="#fff" stroke="#000" stroke-width="1.3"/>
<text class="r" x="15.39" y="1306.4" textLength="188.84" lengthAdjust="spacingAndGlyphs">Generated by SchemaSpy</text>
</svg></body></html>
